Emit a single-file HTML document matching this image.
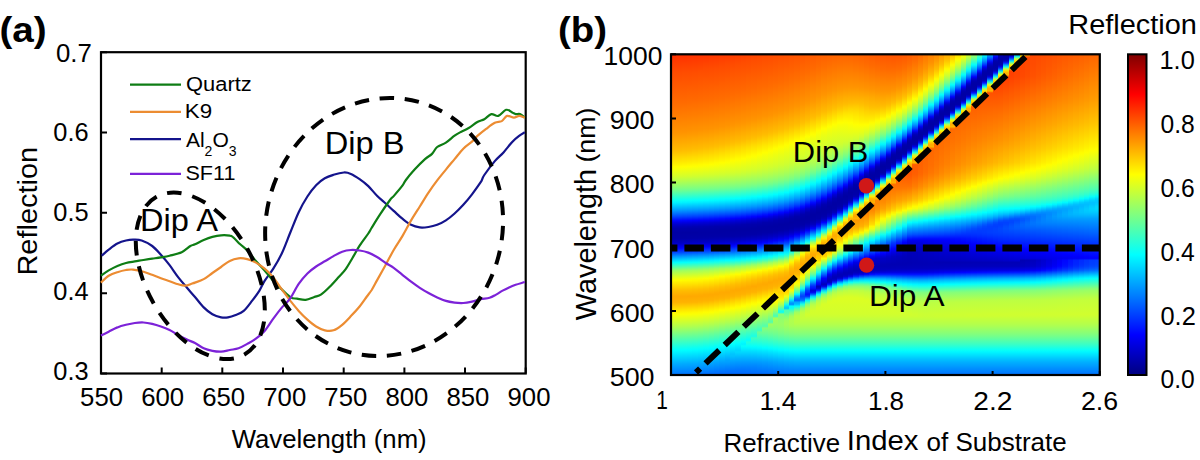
<!DOCTYPE html><html><head><meta charset="utf-8"><style>
html,body{margin:0;padding:0;background:#fff;width:1200px;height:460px;overflow:hidden}
#hm{position:absolute;left:0;top:0}
.c{position:absolute;top:54.50px;height:321.00px}
svg{position:absolute;left:0;top:0}
text{font-family:"Liberation Sans",sans-serif;fill:#000}
</style></head><body><div id="hm">
<div class="c" style="left:671.00px;width:5.96px;background:linear-gradient(#ff3000,#ff3300,#ff3600,#ff3900,#ff3d00,#ff4000,#ff4300,#ff4600,#ff4900,#ff4c00,#ff4e00,#ff5000,#ff5200,#ff5400,#ff5600,#ff5800,#ff5a00,#ff5c00,#ff5e00,#ff6000,#ff6300,#ff6500,#ff6700,#ff6900,#ff6b00,#ff6d00,#ff7000,#ff7300,#ff7500,#ff7800,#ff7b00,#ff7e00,#ff8000,#ff8300,#ff8600,#ff8800,#ff8b00,#ff8e00,#ff9100,#ff9300,#ff9700,#ff9c00,#ffa100,#ffa500,#ffaa00,#ffae00,#ffb300,#ffb700,#ffbc00,#ffc300,#ffcb00,#ffd300,#ffda00,#ffe200,#ffea00,#fff200,#fffc00,#f9ff06,#efff10,#e6ff19,#ddff22,#d3ff2c,#c6ff39,#b8ff47,#aaff55,#9cff63,#8eff71,#7fff80,#70ff8f,#5bffa4,#47ffb8,#32ffcd,#1effe1,#0afff5,#00f4ff,#00deff,#00c7ff,#00b0ff,#0099ff,#007fff,#0064ff,#0048ff,#0029ff,#0009ff,#0000e8,#0000cc,#0000ba,#0000ac,#0000a8,#0000a4,#0000a5,#0000a6,#0000a8,#0000b2,#0000be,#0000ce,#0000e8,#0004ff,#0025ff,#0045ff,#006cff,#0093ff,#00b6ff,#00d9ff,#00fcff,#23ffdc,#49ffb6,#6fff90,#96ff69,#aeff51,#c2ff3d,#d7ff28,#ebff14,#fffe00,#fff000,#ffe400,#ffd800,#ffcc00,#ffbf00,#ffb700,#ffb100,#ffaa00,#ffab00,#ffae00,#ffb200,#ffbd00,#ffcb00,#ffd800,#ffe600,#fff300,#ffff00,#f2ff0d,#e6ff19,#daff25,#ceff31,#c1ff3e,#b5ff4a,#a7ff58,#97ff68,#88ff77,#79ff86,#69ff96,#5affa5,#4bffb4,#3cffc3,#2dffd2,#1fffe0,#10ffef,#02fffd,#00f4ff,#00e8ff,#00dcff,#00d0ff,#00c3ff,#00b7ff,#00abff,#00a0ff,#0096ff,#008cff,#0082ff,#0078ff,#0072ff)"></div>
<div class="c" style="left:676.36px;width:5.96px;background:linear-gradient(#ff3100,#ff3400,#ff3700,#ff3a00,#ff3d00,#ff4000,#ff4300,#ff4600,#ff4900,#ff4c00,#ff4e00,#ff5000,#ff5200,#ff5400,#ff5700,#ff5900,#ff5b00,#ff5d00,#ff5f00,#ff6100,#ff6300,#ff6500,#ff6700,#ff6900,#ff6b00,#ff6e00,#ff7000,#ff7300,#ff7600,#ff7800,#ff7b00,#ff7e00,#ff8100,#ff8300,#ff8600,#ff8900,#ff8c00,#ff8e00,#ff9100,#ff9400,#ff9800,#ff9d00,#ffa100,#ffa600,#ffaa00,#ffaf00,#ffb300,#ffb800,#ffbc00,#ffc400,#ffcc00,#ffd400,#ffdb00,#ffe300,#ffeb00,#fff300,#fffd00,#f8ff07,#eeff11,#e5ff1a,#dcff23,#d2ff2d,#c5ff3a,#b7ff48,#a9ff56,#9bff64,#8dff72,#7eff81,#6eff91,#5affa5,#45ffba,#31ffce,#1cffe3,#08fff7,#00f3ff,#00dcff,#00c5ff,#00aeff,#0097ff,#007dff,#0061ff,#0046ff,#0027ff,#0007ff,#0000e6,#0000cb,#0000b9,#0000ac,#0000a8,#0000a4,#0000a5,#0000a6,#0000a8,#0000b3,#0000bf,#0000d0,#0000e9,#0006ff,#0027ff,#0048ff,#006fff,#0096ff,#00b9ff,#00dcff,#00ffff,#26ffd9,#4cffb3,#72ff8d,#98ff67,#b0ff4f,#c4ff3b,#d8ff27,#edff12,#fffd00,#ffef00,#ffe300,#ffd700,#ffcb00,#ffbe00,#ffb700,#ffb000,#ffa900,#ffab00,#ffaf00,#ffb200,#ffbe00,#ffcc00,#ffd900,#ffe700,#fff400,#feff01,#f1ff0e,#e5ff1a,#d9ff26,#cdff32,#c1ff3e,#b4ff4b,#a5ff5a,#96ff69,#87ff78,#78ff87,#68ff97,#59ffa6,#4affb5,#3bffc4,#2cffd3,#1effe1,#0ffff0,#01fffe,#00f4ff,#00e7ff,#00dbff,#00cfff,#00c3ff,#00b6ff,#00aaff,#00a0ff,#0095ff,#008bff,#0081ff,#0077ff,#0072ff)"></div>
<div class="c" style="left:681.73px;width:5.96px;background:linear-gradient(#ff3100,#ff3400,#ff3700,#ff3a00,#ff3e00,#ff4100,#ff4400,#ff4700,#ff4a00,#ff4d00,#ff4f00,#ff5100,#ff5300,#ff5500,#ff5700,#ff5900,#ff5b00,#ff5d00,#ff5f00,#ff6100,#ff6300,#ff6500,#ff6700,#ff6900,#ff6b00,#ff6e00,#ff7100,#ff7400,#ff7600,#ff7900,#ff7c00,#ff7e00,#ff8100,#ff8400,#ff8700,#ff8900,#ff8c00,#ff8f00,#ff9100,#ff9400,#ff9900,#ff9d00,#ffa200,#ffa700,#ffab00,#ffb000,#ffb400,#ffb900,#ffbe00,#ffc500,#ffcd00,#ffd500,#ffdd00,#ffe400,#ffec00,#fff500,#fffe00,#f7ff08,#edff12,#e4ff1b,#dbff24,#d1ff2e,#c4ff3b,#b6ff49,#a8ff57,#9aff65,#8bff74,#7dff82,#6cff93,#58ffa7,#44ffbb,#2fffd0,#1bffe4,#06fff9,#00f1ff,#00daff,#00c3ff,#00acff,#0095ff,#007bff,#005fff,#0044ff,#0024ff,#0004ff,#0000e3,#0000c9,#0000b8,#0000ac,#0000a8,#0000a3,#0000a5,#0000a6,#0000a8,#0000b4,#0000c0,#0000d2,#0000eb,#0009ff,#002aff,#004aff,#0073ff,#0099ff,#00bcff,#00dfff,#03fffc,#29ffd6,#4fffb0,#75ff8a,#9cff63,#b1ff4e,#c6ff39,#daff25,#eeff11,#fffb00,#ffee00,#ffe200,#ffd600,#ffca00,#ffbe00,#ffb600,#ffb000,#ffa900,#ffab00,#ffaf00,#ffb200,#ffbf00,#ffcd00,#ffda00,#ffe800,#fff500,#fdff02,#f1ff0e,#e4ff1b,#d8ff27,#ccff33,#c0ff3f,#b3ff4c,#a4ff5b,#95ff6a,#86ff79,#76ff89,#67ff98,#58ffa7,#49ffb6,#3affc5,#2bffd4,#1cffe3,#0efff1,#00ffff,#00f3ff,#00e6ff,#00daff,#00ceff,#00c2ff,#00b5ff,#00a9ff,#009fff,#0095ff,#008aff,#0080ff,#0076ff,#0071ff)"></div>
<div class="c" style="left:687.09px;width:5.96px;background:linear-gradient(#ff3200,#ff3500,#ff3800,#ff3b00,#ff3e00,#ff4100,#ff4400,#ff4700,#ff4b00,#ff4d00,#ff4f00,#ff5100,#ff5300,#ff5500,#ff5700,#ff5900,#ff5c00,#ff5e00,#ff6000,#ff6200,#ff6400,#ff6600,#ff6800,#ff6a00,#ff6c00,#ff6f00,#ff7200,#ff7400,#ff7700,#ff7a00,#ff7c00,#ff7f00,#ff8200,#ff8500,#ff8700,#ff8a00,#ff8d00,#ff8f00,#ff9200,#ff9600,#ff9a00,#ff9f00,#ffa300,#ffa800,#ffac00,#ffb100,#ffb500,#ffba00,#ffbf00,#ffc700,#ffcf00,#ffd700,#ffde00,#ffe600,#ffee00,#fff700,#feff01,#f5ff0a,#ecff13,#e3ff1c,#daff25,#d0ff2f,#c2ff3d,#b4ff4b,#a6ff59,#98ff67,#8aff75,#7cff83,#6bff94,#56ffa9,#42ffbd,#2effd1,#19ffe6,#05fffa,#00efff,#00d8ff,#00c1ff,#00aaff,#0093ff,#0078ff,#005dff,#0042ff,#0022ff,#0002ff,#0000e1,#0000c8,#0000b6,#0000ab,#0000a7,#0000a3,#0000a5,#0000a7,#0000a9,#0000b5,#0000c1,#0000d4,#0000ee,#000cff,#002cff,#004dff,#0076ff,#009cff,#00bfff,#00e2ff,#06fff9,#2cffd3,#52ffad,#79ff86,#9eff61,#b3ff4c,#c7ff38,#dcff23,#f0ff0f,#fffa00,#ffed00,#ffe100,#ffd500,#ffc900,#ffbd00,#ffb600,#ffaf00,#ffa800,#ffac00,#ffaf00,#ffb300,#ffc000,#ffce00,#ffdc00,#ffe900,#fff600,#fcff03,#efff10,#e3ff1c,#d7ff28,#cbff34,#bfff40,#b2ff4d,#a3ff5c,#94ff6b,#84ff7b,#75ff8a,#66ff99,#56ffa9,#48ffb7,#39ffc6,#2affd5,#1bffe4,#0cfff3,#00feff,#00f2ff,#00e5ff,#00d9ff,#00cdff,#00c1ff,#00b4ff,#00a8ff,#009eff,#0094ff,#008aff,#007fff,#0075ff,#0070ff)"></div>
<div class="c" style="left:692.45px;width:5.96px;background:linear-gradient(#ff3300,#ff3600,#ff3900,#ff3c00,#ff3f00,#ff4200,#ff4500,#ff4800,#ff4b00,#ff4e00,#ff5000,#ff5200,#ff5400,#ff5600,#ff5800,#ff5a00,#ff5c00,#ff5e00,#ff6000,#ff6200,#ff6400,#ff6600,#ff6800,#ff6a00,#ff6d00,#ff7000,#ff7200,#ff7500,#ff7800,#ff7b00,#ff7d00,#ff8000,#ff8300,#ff8500,#ff8800,#ff8b00,#ff8e00,#ff9000,#ff9300,#ff9700,#ff9b00,#ffa000,#ffa500,#ffa900,#ffae00,#ffb200,#ffb700,#ffbb00,#ffc200,#ffca00,#ffd100,#ffd900,#ffe000,#ffe800,#fff000,#fff900,#fcff03,#f3ff0c,#eaff15,#e1ff1e,#d8ff27,#ceff31,#c0ff3f,#b3ff4c,#a5ff5a,#97ff68,#89ff76,#7bff84,#69ff96,#54ffab,#40ffbf,#2cffd3,#17ffe8,#03fffc,#00edff,#00d6ff,#00bfff,#00a8ff,#0091ff,#0076ff,#005bff,#003fff,#001fff,#0000fe,#0000de,#0000c6,#0000b4,#0000ab,#0000a7,#0000a3,#0000a5,#0000a7,#0000aa,#0000b6,#0000c2,#0000d6,#0000f0,#000fff,#002fff,#0051ff,#007aff,#009fff,#00c2ff,#00e5ff,#09fff6,#30ffcf,#56ffa9,#7cff83,#a1ff5e,#b5ff4a,#caff35,#deff21,#f3ff0c,#fff800,#ffec00,#ffe000,#ffd300,#ffc700,#ffbc00,#ffb500,#ffae00,#ffa900,#ffac00,#ffb000,#ffb400,#ffc200,#ffd000,#ffdd00,#ffeb00,#fff800,#faff05,#eeff11,#e2ff1d,#d5ff2a,#c9ff36,#bdff42,#b0ff4f,#a1ff5e,#92ff6d,#82ff7d,#73ff8c,#64ff9b,#55ffaa,#46ffb9,#37ffc8,#28ffd7,#19ffe6,#0afff5,#00fcff,#00f0ff,#00e4ff,#00d8ff,#00cbff,#00bfff,#00b3ff,#00a7ff,#009dff,#0092ff,#0088ff,#007eff,#0074ff,#006fff)"></div>
<div class="c" style="left:697.81px;width:5.96px;background:linear-gradient(#ff3400,#ff3700,#ff3a00,#ff3d00,#ff4000,#ff4300,#ff4600,#ff4900,#ff4d00,#ff4f00,#ff5100,#ff5300,#ff5500,#ff5700,#ff5900,#ff5b00,#ff5d00,#ff5f00,#ff6100,#ff6300,#ff6500,#ff6700,#ff6900,#ff6b00,#ff6e00,#ff7100,#ff7300,#ff7600,#ff7900,#ff7b00,#ff7e00,#ff8100,#ff8400,#ff8600,#ff8900,#ff8c00,#ff8f00,#ff9100,#ff9400,#ff9900,#ff9d00,#ffa200,#ffa600,#ffab00,#ffaf00,#ffb400,#ffb800,#ffbd00,#ffc500,#ffcc00,#ffd400,#ffdb00,#ffe300,#ffea00,#fff200,#fffb00,#faff05,#f1ff0e,#e9ff16,#e0ff1f,#d7ff28,#ccff33,#bfff40,#b1ff4e,#a3ff5c,#96ff69,#88ff77,#79ff86,#67ff98,#52ffad,#3effc1,#2affd5,#15ffea,#01fffe,#00ebff,#00d4ff,#00bdff,#00a6ff,#008eff,#0073ff,#0058ff,#003cff,#001cff,#0000fa,#0000da,#0000c4,#0000b3,#0000ab,#0000a6,#0000a4,#0000a5,#0000a7,#0000ab,#0000b7,#0000c3,#0000d9,#0000f2,#0012ff,#0033ff,#0055ff,#007eff,#00a3ff,#00c5ff,#00e8ff,#0dfff2,#34ffcb,#5affa5,#81ff7e,#a3ff5c,#b8ff47,#cdff32,#e2ff1d,#f6ff09,#fff600,#ffea00,#ffdd00,#ffd100,#ffc500,#ffba00,#ffb400,#ffad00,#ffa900,#ffad00,#ffb000,#ffb700,#ffc500,#ffd200,#ffe000,#ffed00,#fffa00,#f8ff07,#ecff13,#dfff20,#d3ff2c,#c7ff38,#bbff44,#adff52,#9eff61,#8fff70,#7fff80,#70ff8f,#61ff9e,#52ffad,#43ffbc,#34ffcb,#25ffda,#16ffe9,#08fff7,#00faff,#00eeff,#00e1ff,#00d5ff,#00c9ff,#00bdff,#00b0ff,#00a5ff,#009bff,#0090ff,#0086ff,#007cff,#0072ff,#006dff)"></div>
<div class="c" style="left:703.17px;width:5.96px;background:linear-gradient(#ff3500,#ff3800,#ff3b00,#ff3e00,#ff4200,#ff4500,#ff4800,#ff4b00,#ff4d00,#ff4f00,#ff5100,#ff5300,#ff5600,#ff5800,#ff5a00,#ff5c00,#ff5e00,#ff6000,#ff6200,#ff6400,#ff6600,#ff6800,#ff6a00,#ff6c00,#ff6f00,#ff7200,#ff7400,#ff7700,#ff7a00,#ff7d00,#ff7f00,#ff8200,#ff8500,#ff8700,#ff8a00,#ff8d00,#ff9000,#ff9200,#ff9600,#ff9a00,#ff9f00,#ffa300,#ffa800,#ffac00,#ffb100,#ffb600,#ffba00,#ffc000,#ffc800,#ffcf00,#ffd700,#ffde00,#ffe500,#ffed00,#fff500,#fffd00,#f8ff07,#efff10,#e7ff18,#deff21,#d5ff2a,#caff35,#bdff42,#afff50,#a2ff5d,#94ff6b,#86ff79,#78ff87,#65ff9a,#50ffaf,#3cffc3,#27ffd8,#13ffec,#00feff,#00e8ff,#00d1ff,#00bbff,#00a4ff,#008bff,#0070ff,#0055ff,#0038ff,#0018ff,#0000f7,#0000d7,#0000c3,#0000b1,#0000aa,#0000a6,#0000a4,#0000a5,#0000a7,#0000ac,#0000b8,#0000c5,#0000dc,#0000f5,#0016ff,#0036ff,#0059ff,#0082ff,#00a6ff,#00c9ff,#00ecff,#11ffee,#38ffc7,#5fffa0,#87ff78,#a7ff58,#bcff43,#d1ff2e,#e6ff19,#fbff04,#fff300,#ffe600,#ffda00,#ffce00,#ffc200,#ffb900,#ffb200,#ffab00,#ffaa00,#ffae00,#ffb100,#ffbb00,#ffc800,#ffd600,#ffe300,#fff100,#fffd00,#f5ff0a,#e8ff17,#dcff23,#d0ff2f,#c4ff3b,#b7ff48,#a9ff56,#9aff65,#8bff74,#7bff84,#6cff93,#5dffa2,#4effb1,#3fffc0,#30ffcf,#21ffde,#12ffed,#04fffb,#00f7ff,#00eaff,#00deff,#00d2ff,#00c6ff,#00b9ff,#00adff,#00a2ff,#0098ff,#008eff,#0084ff,#0079ff,#006fff,#006bff)"></div>
<div class="c" style="left:708.54px;width:5.96px;background:linear-gradient(#ff3700,#ff3a00,#ff3d00,#ff4000,#ff4300,#ff4600,#ff4900,#ff4c00,#ff4e00,#ff5000,#ff5200,#ff5400,#ff5600,#ff5800,#ff5a00,#ff5d00,#ff5f00,#ff6100,#ff6300,#ff6500,#ff6700,#ff6900,#ff6b00,#ff6d00,#ff7000,#ff7300,#ff7600,#ff7800,#ff7b00,#ff7e00,#ff8000,#ff8300,#ff8600,#ff8900,#ff8b00,#ff8e00,#ff9100,#ff9300,#ff9800,#ff9c00,#ffa100,#ffa500,#ffaa00,#ffae00,#ffb300,#ffb700,#ffbc00,#ffc300,#ffcb00,#ffd200,#ffda00,#ffe100,#ffe800,#ffef00,#fff800,#feff01,#f5ff0a,#edff12,#e4ff1b,#dcff23,#d3ff2c,#c8ff37,#bbff44,#adff52,#a0ff5f,#92ff6d,#84ff7b,#76ff89,#62ff9d,#4effb1,#39ffc6,#25ffda,#11ffee,#00fbff,#00e6ff,#00cfff,#00b8ff,#00a1ff,#0088ff,#006dff,#0052ff,#0034ff,#0014ff,#0000f3,#0000d3,#0000c0,#0000af,#0000aa,#0000a6,#0000a4,#0000a6,#0000a7,#0000ae,#0000ba,#0000c6,#0000df,#0000f8,#0019ff,#003aff,#005eff,#0087ff,#00aaff,#00cdff,#00f0ff,#16ffe9,#3dffc2,#65ff9a,#8eff71,#abff54,#c1ff3e,#d7ff28,#ecff13,#fffc00,#ffef00,#ffe200,#ffd600,#ffca00,#ffbe00,#ffb600,#ffb000,#ffa900,#ffab00,#ffaf00,#ffb200,#ffbf00,#ffcd00,#ffda00,#ffe800,#fff500,#fdff02,#f1ff0e,#e4ff1b,#d8ff27,#ccff33,#c0ff3f,#b3ff4c,#a4ff5b,#95ff6a,#86ff79,#77ff88,#67ff98,#58ffa7,#49ffb6,#3affc5,#2bffd4,#1dffe2,#0efff1,#00ffff,#00f3ff,#00e6ff,#00daff,#00ceff,#00c2ff,#00b6ff,#00a9ff,#009fff,#0095ff,#008bff,#0080ff,#0076ff,#006cff,#0069ff)"></div>
<div class="c" style="left:713.90px;width:5.96px;background:linear-gradient(#ff3800,#ff3b00,#ff3e00,#ff4100,#ff4400,#ff4700,#ff4a00,#ff4d00,#ff4f00,#ff5100,#ff5300,#ff5500,#ff5700,#ff5900,#ff5b00,#ff5d00,#ff6000,#ff6200,#ff6400,#ff6600,#ff6800,#ff6a00,#ff6c00,#ff6f00,#ff7100,#ff7400,#ff7700,#ff7a00,#ff7c00,#ff7f00,#ff8200,#ff8400,#ff8700,#ff8a00,#ff8d00,#ff8f00,#ff9200,#ff9500,#ff9a00,#ff9e00,#ffa300,#ffa800,#ffac00,#ffb100,#ffb500,#ffba00,#ffbf00,#ffc700,#ffcf00,#ffd600,#ffdd00,#ffe400,#ffeb00,#fff300,#fffb00,#fbff04,#f3ff0c,#eaff15,#e2ff1d,#daff25,#d2ff2d,#c5ff3a,#b9ff46,#abff54,#9eff61,#91ff6e,#83ff7c,#74ff8b,#60ff9f,#4bffb4,#37ffc8,#22ffdd,#0efff1,#00f9ff,#00e3ff,#00ccff,#00b5ff,#009eff,#0085ff,#0069ff,#004eff,#0030ff,#0010ff,#0000ef,#0000d0,#0000be,#0000ad,#0000a9,#0000a5,#0000a4,#0000a6,#0000a8,#0000af,#0000bb,#0000c8,#0000e2,#0000fc,#001eff,#003eff,#0063ff,#008cff,#00afff,#00d2ff,#00f5ff,#1bffe4,#43ffbc,#6cff93,#96ff69,#b0ff4f,#c7ff38,#ddff22,#f4ff0b,#fff700,#ffea00,#ffde00,#ffd200,#ffc500,#ffbb00,#ffb400,#ffad00,#ffa900,#ffad00,#ffb000,#ffb700,#ffc400,#ffd200,#ffdf00,#ffed00,#fff900,#f8ff07,#ecff13,#e0ff1f,#d4ff2b,#c7ff38,#bbff44,#aeff51,#9fff60,#8fff70,#80ff7f,#71ff8e,#61ff9e,#52ffad,#43ffbc,#35ffca,#26ffd9,#17ffe8,#08fff7,#00faff,#00eeff,#00e2ff,#00d6ff,#00c9ff,#00bdff,#00b1ff,#00a5ff,#009bff,#0091ff,#0087ff,#007cff,#0073ff,#006bff,#0068ff)"></div>
<div class="c" style="left:719.26px;width:5.96px;background:linear-gradient(#ff3a00,#ff3d00,#ff4000,#ff4300,#ff4600,#ff4900,#ff4c00,#ff4e00,#ff5000,#ff5200,#ff5400,#ff5600,#ff5800,#ff5a00,#ff5d00,#ff5f00,#ff6100,#ff6300,#ff6500,#ff6700,#ff6900,#ff6b00,#ff6d00,#ff7000,#ff7300,#ff7600,#ff7800,#ff7b00,#ff7e00,#ff8000,#ff8300,#ff8600,#ff8900,#ff8b00,#ff8e00,#ff9100,#ff9300,#ff9800,#ff9c00,#ffa100,#ffa500,#ffaa00,#ffae00,#ffb300,#ffb700,#ffbc00,#ffc300,#ffcb00,#ffd200,#ffda00,#ffe100,#ffe800,#ffef00,#fff600,#fffe00,#f8ff07,#f0ff0f,#e8ff17,#e0ff1f,#d8ff27,#cfff30,#c3ff3c,#b6ff49,#a9ff56,#9cff63,#8fff70,#81ff7e,#71ff8e,#5dffa2,#48ffb7,#34ffcb,#20ffdf,#0bfff4,#00f6ff,#00e0ff,#00c9ff,#00b2ff,#009bff,#0081ff,#0066ff,#004aff,#002cff,#000cff,#0000eb,#0000cd,#0000bc,#0000ad,#0000a8,#0000a4,#0000a4,#0000a6,#0000a8,#0000b1,#0000bd,#0000cc,#0000e6,#0002ff,#0022ff,#0043ff,#0069ff,#0091ff,#00b4ff,#00d7ff,#00faff,#21ffde,#49ffb6,#73ff8c,#9eff61,#b6ff49,#cdff32,#e5ff1a,#fcff03,#fff200,#ffe500,#ffd900,#ffcc00,#ffc000,#ffb800,#ffb100,#ffaa00,#ffab00,#ffae00,#ffb200,#ffbc00,#ffca00,#ffd800,#ffe500,#fff200,#ffff00,#f3ff0c,#e7ff18,#dbff24,#ceff31,#c2ff3d,#b6ff49,#a7ff58,#98ff67,#89ff76,#7aff85,#6aff95,#5bffa4,#4cffb3,#3dffc2,#2effd1,#1fffe0,#11ffee,#02fffd,#00f5ff,#00e9ff,#00ddff,#00d0ff,#00c4ff,#00b8ff,#00acff,#00a1ff,#0097ff,#008eff,#0084ff,#007aff,#0070ff,#0069ff,#0067ff)"></div>
<div class="c" style="left:724.62px;width:5.96px;background:linear-gradient(#ff3b00,#ff3e00,#ff4100,#ff4500,#ff4800,#ff4b00,#ff4d00,#ff4f00,#ff5100,#ff5300,#ff5500,#ff5700,#ff5a00,#ff5c00,#ff5e00,#ff6000,#ff6200,#ff6400,#ff6600,#ff6800,#ff6a00,#ff6c00,#ff6f00,#ff7200,#ff7400,#ff7700,#ff7a00,#ff7c00,#ff7f00,#ff8200,#ff8500,#ff8700,#ff8a00,#ff8d00,#ff9000,#ff9200,#ff9600,#ff9a00,#ff9f00,#ffa300,#ffa800,#ffac00,#ffb100,#ffb500,#ffba00,#ffc000,#ffc800,#ffcf00,#ffd700,#ffde00,#ffe500,#ffeb00,#fff200,#fffa00,#fcff03,#f4ff0b,#edff12,#e5ff1a,#ddff22,#d6ff29,#ccff33,#c0ff3f,#b4ff4b,#a7ff58,#9aff65,#8cff73,#7eff81,#6eff91,#5affa5,#45ffba,#31ffce,#1cffe3,#08fff7,#00f3ff,#00dcff,#00c5ff,#00aeff,#0097ff,#007dff,#0061ff,#0046ff,#0027ff,#0007ff,#0000e6,#0000cb,#0000b9,#0000ac,#0000a8,#0000a4,#0000a5,#0000a6,#0000a8,#0000b3,#0000bf,#0000d0,#0000e9,#0007ff,#0027ff,#0048ff,#006fff,#0096ff,#00b9ff,#00dcff,#00ffff,#27ffd8,#51ffae,#7cff83,#a4ff5b,#bdff42,#d5ff2a,#edff12,#fff900,#ffec00,#ffdf00,#ffd300,#ffc700,#ffbb00,#ffb500,#ffae00,#ffa900,#ffac00,#ffb000,#ffb500,#ffc300,#ffd000,#ffde00,#ffec00,#fff800,#faff05,#edff12,#e1ff1e,#d5ff2a,#c9ff36,#bcff43,#b0ff4f,#a0ff5f,#91ff6e,#82ff7d,#72ff8d,#63ff9c,#54ffab,#45ffba,#36ffc9,#27ffd8,#19ffe6,#0afff5,#00fcff,#00efff,#00e3ff,#00d7ff,#00cbff,#00beff,#00b2ff,#00a6ff,#00a0ff,#0096ff,#008bff,#0081ff,#0077ff,#006eff,#0069ff,#0066ff)"></div>
<div class="c" style="left:729.99px;width:5.96px;background:linear-gradient(#ff3d00,#ff4000,#ff4300,#ff4600,#ff4900,#ff4c00,#ff4e00,#ff5100,#ff5300,#ff5500,#ff5700,#ff5900,#ff5b00,#ff5d00,#ff5f00,#ff6100,#ff6300,#ff6500,#ff6700,#ff6900,#ff6b00,#ff6e00,#ff7000,#ff7300,#ff7600,#ff7900,#ff7b00,#ff7e00,#ff8100,#ff8300,#ff8600,#ff8900,#ff8c00,#ff8e00,#ff9100,#ff9400,#ff9800,#ff9d00,#ffa100,#ffa600,#ffaa00,#ffaf00,#ffb300,#ffb800,#ffbd00,#ffc400,#ffcc00,#ffd400,#ffdb00,#ffe200,#ffe900,#ffef00,#fff700,#fffe00,#f8ff07,#f1ff0e,#eaff15,#e2ff1d,#dbff24,#d3ff2c,#c9ff36,#bdff42,#b1ff4e,#a5ff5a,#98ff67,#8aff75,#7cff83,#6bff94,#56ffa9,#42ffbd,#2dffd2,#19ffe6,#05fffa,#00efff,#00d8ff,#00c1ff,#00aaff,#0093ff,#0078ff,#005dff,#0041ff,#0021ff,#0001ff,#0000e0,#0000c8,#0000b6,#0000ab,#0000a7,#0000a3,#0000a5,#0000a7,#0000a9,#0000b5,#0000c1,#0000d4,#0000ee,#000cff,#002dff,#004eff,#0076ff,#009cff,#00bfff,#00e2ff,#06fff9,#2effd1,#59ffa6,#87ff78,#abff54,#c4ff3b,#deff21,#f7ff08,#fff300,#ffe600,#ffd900,#ffcd00,#ffc000,#ffb800,#ffb100,#ffaa00,#ffab00,#ffae00,#ffb100,#ffbc00,#ffca00,#ffd700,#ffe500,#fff200,#fffe00,#f3ff0c,#e7ff18,#dbff24,#cfff30,#c2ff3d,#b6ff49,#a8ff57,#99ff66,#89ff76,#7aff85,#6bff94,#5bffa4,#4cffb3,#3dffc2,#2fffd0,#20ffdf,#11ffee,#03fffc,#00f5ff,#00e9ff,#00ddff,#00d1ff,#00c4ff,#00c1ff,#00b4ff,#00a8ff,#009dff,#0093ff,#0089ff,#007fff,#0075ff,#006eff,#0068ff,#0065ff)"></div>
<div class="c" style="left:735.35px;width:5.96px;background:linear-gradient(#ff3f00,#ff4200,#ff4500,#ff4800,#ff4b00,#ff4e00,#ff5000,#ff5200,#ff5400,#ff5600,#ff5800,#ff5a00,#ff5c00,#ff5e00,#ff6000,#ff6200,#ff6400,#ff6600,#ff6800,#ff6a00,#ff6d00,#ff6f00,#ff7200,#ff7500,#ff7800,#ff7a00,#ff7d00,#ff8000,#ff8200,#ff8500,#ff8800,#ff8b00,#ff8d00,#ff9000,#ff9300,#ff9700,#ff9b00,#ffa000,#ffa400,#ffa900,#ffad00,#ffb200,#ffb600,#ffbb00,#ffc100,#ffc900,#ffd100,#ffd800,#ffdf00,#ffe600,#ffed00,#fff400,#fffb00,#fcff03,#f5ff0a,#eeff11,#e7ff18,#e0ff1f,#d8ff27,#d1ff2e,#c6ff39,#baff45,#aeff51,#a2ff5d,#95ff6a,#87ff78,#79ff86,#67ff98,#52ffad,#3effc1,#2affd5,#15ffea,#01fffe,#00ebff,#00d4ff,#00bdff,#00a6ff,#008eff,#0073ff,#0058ff,#003bff,#001bff,#0000fa,#0000da,#0000c4,#0000b3,#0000aa,#0000a6,#0000a4,#0000a5,#0000a7,#0000ab,#0000b7,#0000c3,#0000d9,#0000f3,#0012ff,#0033ff,#0055ff,#007eff,#00a3ff,#00c6ff,#00e9ff,#0dfff2,#37ffc8,#63ff9c,#93ff6c,#b2ff4d,#cdff32,#e7ff18,#fffd00,#ffed00,#ffdf00,#ffd200,#ffc600,#ffbb00,#ffb400,#ffad00,#ffa900,#ffad00,#ffb000,#ffb600,#ffc300,#ffd100,#ffdf00,#ffec00,#fff900,#f9ff06,#edff12,#e1ff1e,#d4ff2b,#c8ff37,#bcff43,#afff50,#a0ff5f,#90ff6f,#81ff7e,#72ff8d,#62ff9d,#53ffac,#44ffbb,#35ffca,#27ffd8,#18ffe7,#09fff6,#00fbff,#00efff,#00e3ff,#00d6ff,#00d8ff,#00ccff,#00bfff,#00b2ff,#00a7ff,#009bff,#0091ff,#0087ff,#007dff,#0074ff,#006eff,#0068ff,#0065ff)"></div>
<div class="c" style="left:740.71px;width:5.96px;background:linear-gradient(#ff4100,#ff4400,#ff4700,#ff4a00,#ff4d00,#ff4f00,#ff5100,#ff5300,#ff5500,#ff5700,#ff5900,#ff5b00,#ff5d00,#ff5f00,#ff6100,#ff6300,#ff6500,#ff6700,#ff6900,#ff6c00,#ff6e00,#ff7100,#ff7400,#ff7700,#ff7900,#ff7c00,#ff7f00,#ff8100,#ff8400,#ff8700,#ff8a00,#ff8c00,#ff8f00,#ff9200,#ff9500,#ff9900,#ff9e00,#ffa200,#ffa700,#ffac00,#ffb000,#ffb500,#ffb900,#ffbe00,#ffc600,#ffce00,#ffd600,#ffdd00,#ffe400,#ffea00,#fff100,#fff800,#ffff00,#f8ff07,#f1ff0e,#eaff15,#e3ff1c,#ddff22,#d6ff29,#cdff32,#c3ff3c,#b7ff48,#abff54,#9fff60,#92ff6d,#85ff7a,#76ff89,#62ff9d,#4effb1,#3affc5,#25ffda,#11ffee,#00fbff,#00e6ff,#00cfff,#00b8ff,#00a1ff,#0088ff,#006dff,#0052ff,#0035ff,#0015ff,#0000f4,#0000d4,#0000c1,#0000af,#0000aa,#0000a6,#0000a4,#0000a6,#0000a7,#0000ad,#0000ba,#0000c6,#0000de,#0000f8,#0019ff,#003aff,#005eff,#0087ff,#00aaff,#00cdff,#00f0ff,#16ffe9,#40ffbf,#6fff90,#a0ff5f,#bbff44,#d7ff28,#f2ff0d,#fff500,#ffe600,#ffd800,#ffcb00,#ffbf00,#ffb700,#ffb000,#ffaa00,#ffab00,#ffae00,#ffb200,#ffbe00,#ffcb00,#ffd900,#ffe600,#fff400,#feff01,#f2ff0d,#e6ff19,#daff25,#cdff32,#c1ff3e,#b5ff4a,#a6ff59,#97ff68,#87ff78,#78ff87,#69ff96,#5affa5,#4bffb4,#3cffc3,#2dffd2,#1effe1,#0ffff0,#01fffe,#00f4ff,#03fffc,#00f4ff,#00e6ff,#00d8ff,#00cbff,#00beff,#00b1ff,#00a6ff,#009aff,#0090ff,#0086ff,#007cff,#0074ff,#006eff,#0068ff,#0064ff)"></div>
<div class="c" style="left:746.08px;width:5.96px;background:linear-gradient(#ff4300,#ff4600,#ff4900,#ff4c00,#ff4e00,#ff5000,#ff5200,#ff5400,#ff5600,#ff5800,#ff5b00,#ff5d00,#ff5f00,#ff6100,#ff6300,#ff6500,#ff6700,#ff6900,#ff6b00,#ff6d00,#ff7000,#ff7300,#ff7600,#ff7800,#ff7b00,#ff7e00,#ff8100,#ff8300,#ff8600,#ff8900,#ff8b00,#ff8e00,#ff9100,#ff9400,#ff9800,#ff9c00,#ffa100,#ffa500,#ffaa00,#ffaf00,#ffb300,#ffb800,#ffbc00,#ffc400,#ffcb00,#ffd300,#ffdb00,#ffe200,#ffe900,#ffef00,#fff600,#fffd00,#faff05,#f4ff0b,#edff12,#e7ff18,#e0ff1f,#daff25,#d3ff2c,#caff35,#bfff40,#b4ff4b,#a8ff57,#9cff63,#8fff70,#81ff7e,#72ff8d,#5effa1,#49ffb6,#35ffca,#21ffde,#0cfff3,#00f7ff,#00e1ff,#00caff,#00b3ff,#009cff,#0082ff,#0067ff,#004cff,#002dff,#000dff,#0000ec,#0000ce,#0000bc,#0000ad,#0000a9,#0000a5,#0000a4,#0000a6,#0000a8,#0000b0,#0000bd,#0000cb,#0000e4,#0000ff,#0021ff,#0041ff,#0067ff,#008fff,#00b2ff,#00d5ff,#00f8ff,#1fffe0,#4cffb3,#7dff82,#a8ff57,#c5ff3a,#e1ff1e,#feff01,#ffed00,#ffde00,#ffd000,#ffc400,#ffba00,#ffb300,#ffac00,#ffaa00,#ffad00,#ffb000,#ffb800,#ffc600,#ffd300,#ffe100,#ffee00,#fffb00,#f7ff08,#ebff14,#deff21,#d2ff2d,#c6ff39,#baff45,#acff53,#9dff62,#8eff71,#7eff81,#6fff90,#60ff9f,#51ffae,#42ffbd,#33ffcc,#24ffdb,#15ffea,#06fff9,#20ffdf,#13ffec,#05fffa,#00f5ff,#00e6ff,#00d8ff,#00cbff,#00beff,#00b2ff,#00a6ff,#009aff,#0090ff,#0086ff,#007dff,#0075ff,#006fff,#0068ff,#0065ff)"></div>
<div class="c" style="left:751.44px;width:5.96px;background:linear-gradient(#ff4500,#ff4800,#ff4b00,#ff4e00,#ff5000,#ff5200,#ff5400,#ff5600,#ff5800,#ff5a00,#ff5c00,#ff5e00,#ff6000,#ff6200,#ff6400,#ff6600,#ff6800,#ff6a00,#ff6d00,#ff6f00,#ff7200,#ff7500,#ff7800,#ff7a00,#ff7d00,#ff8000,#ff8200,#ff8500,#ff8800,#ff8b00,#ff8d00,#ff9000,#ff9300,#ff9600,#ff9b00,#ffa000,#ffa400,#ffa900,#ffad00,#ffb200,#ffb600,#ffbb00,#ffc100,#ffc900,#ffd100,#ffd900,#ffe000,#ffe700,#ffed00,#fff400,#fffb00,#fcff03,#f6ff09,#efff10,#e9ff16,#e3ff1c,#ddff22,#d7ff28,#d0ff2f,#c6ff39,#bbff44,#b0ff4f,#a5ff5a,#99ff66,#8cff73,#7eff81,#6dff92,#58ffa7,#44ffbb,#30ffcf,#1bffe4,#07fff8,#00f1ff,#00dbff,#00c4ff,#00adff,#0096ff,#007bff,#0060ff,#0045ff,#0025ff,#0005ff,#0000e4,#0000ca,#0000b8,#0000ac,#0000a8,#0000a4,#0000a5,#0000a6,#0000a8,#0000b3,#0000c0,#0000d1,#0000eb,#0008ff,#0029ff,#004aff,#0072ff,#0098ff,#00bbff,#00deff,#02fffd,#2bffd4,#5affa5,#8dff72,#b2ff4d,#d0ff2f,#eeff11,#fff600,#ffe500,#ffd600,#ffc900,#ffbc00,#ffb600,#ffaf00,#ffa800,#ffac00,#ffaf00,#ffb300,#ffc100,#ffce00,#ffdc00,#ffe900,#fff600,#fcff03,#efff10,#e3ff1c,#d7ff28,#cbff34,#beff41,#b2ff4d,#a3ff5c,#93ff6c,#84ff7b,#75ff8a,#66ff99,#56ffa9,#47ffb8,#39ffc6,#2affd5,#1bffe4,#3fffc0,#31ffce,#24ffdb,#16ffe9,#07fff8,#00f7ff,#00e8ff,#00d9ff,#00ccff,#00bfff,#00b3ff,#00a6ff,#009bff,#0090ff,#0086ff,#007eff,#0077ff,#0070ff,#0069ff,#0065ff)"></div>
<div class="c" style="left:756.80px;width:5.96px;background:linear-gradient(#ff4700,#ff4a00,#ff4d00,#ff4f00,#ff5100,#ff5300,#ff5500,#ff5700,#ff5900,#ff5b00,#ff5d00,#ff5f00,#ff6100,#ff6400,#ff6600,#ff6800,#ff6a00,#ff6c00,#ff6f00,#ff7100,#ff7400,#ff7700,#ff7900,#ff7c00,#ff7f00,#ff8200,#ff8400,#ff8700,#ff8a00,#ff8c00,#ff8f00,#ff9200,#ff9500,#ff9a00,#ff9e00,#ffa300,#ffa700,#ffac00,#ffb000,#ffb500,#ffb900,#ffbf00,#ffc700,#ffcf00,#ffd600,#ffde00,#ffe500,#ffec00,#fff300,#fffa00,#feff01,#f7ff08,#f1ff0e,#ebff14,#e5ff1a,#dfff20,#daff25,#d4ff2b,#cbff34,#c2ff3d,#b8ff47,#adff52,#a1ff5e,#95ff6a,#88ff77,#79ff86,#67ff98,#52ffad,#3effc1,#2affd5,#15ffea,#01fffe,#00ebff,#00d4ff,#00bdff,#00a6ff,#008eff,#0073ff,#0058ff,#003cff,#001cff,#0000fb,#0000da,#0000c4,#0000b3,#0000ab,#0000a6,#0000a4,#0000a5,#0000a7,#0000ab,#0000b7,#0000c3,#0000d9,#0000f2,#0012ff,#0033ff,#0055ff,#007eff,#00a2ff,#00c5ff,#00e8ff,#0dfff2,#39ffc6,#6aff95,#9fff60,#bdff42,#dcff23,#fbff04,#ffed00,#ffdd00,#ffce00,#ffc100,#ffb800,#ffb100,#ffab00,#ffab00,#ffae00,#ffb100,#ffbc00,#ffc900,#ffd700,#ffe400,#fff200,#fffe00,#f4ff0b,#e7ff18,#dbff24,#cfff30,#c3ff3c,#b7ff48,#a8ff57,#99ff66,#8aff75,#7aff85,#6bff94,#5cffa3,#4dffb2,#3effc1,#6bff94,#5fffa0,#51ffae,#43ffbc,#35ffca,#28ffd7,#1affe5,#0bfff4,#00faff,#00ebff,#00dcff,#00cfff,#00c2ff,#00b5ff,#00a8ff,#009cff,#0092ff,#0089ff,#0081ff,#0079ff,#0071ff,#006aff,#0067ff)"></div>
<div class="c" style="left:762.16px;width:5.96px;background:linear-gradient(#ff4900,#ff4d00,#ff4f00,#ff5100,#ff5300,#ff5500,#ff5700,#ff5900,#ff5b00,#ff5d00,#ff5f00,#ff6100,#ff6300,#ff6500,#ff6700,#ff6900,#ff6b00,#ff6e00,#ff7100,#ff7300,#ff7600,#ff7900,#ff7b00,#ff7e00,#ff8100,#ff8400,#ff8600,#ff8900,#ff8c00,#ff8f00,#ff9100,#ff9400,#ff9900,#ff9d00,#ffa200,#ffa600,#ffab00,#ffaf00,#ffb400,#ffb800,#ffbd00,#ffc500,#ffcd00,#ffd400,#ffdc00,#ffe400,#ffeb00,#fff100,#fff900,#ffff00,#f8ff07,#f2ff0d,#edff12,#e7ff18,#e1ff1e,#dcff23,#d6ff29,#d0ff2f,#c7ff38,#beff41,#b3ff4c,#a9ff56,#9dff62,#90ff6f,#83ff7c,#74ff8b,#60ff9f,#4cffb3,#37ffc8,#23ffdc,#0efff1,#00f9ff,#00e3ff,#00ccff,#00b5ff,#009eff,#0085ff,#006aff,#004fff,#0031ff,#0011ff,#0000f0,#0000d0,#0000bf,#0000ad,#0000a9,#0000a5,#0000a4,#0000a6,#0000a8,#0000af,#0000bb,#0000c8,#0000e1,#0000fb,#001dff,#003dff,#0063ff,#008bff,#00aeff,#00d1ff,#00f4ff,#1bffe4,#49ffb6,#7eff81,#abff54,#caff35,#eaff15,#fff600,#ffe400,#ffd400,#ffc500,#ffba00,#ffb400,#ffad00,#ffa900,#ffad00,#ffb000,#ffb700,#ffc500,#ffd200,#ffe000,#ffed00,#fffa00,#f8ff07,#ecff13,#dfff20,#d3ff2c,#c7ff38,#bbff44,#adff52,#9eff61,#8fff70,#7fff80,#70ff8f,#61ff9e,#52ffad,#86ff79,#7bff84,#6fff90,#63ff9c,#56ffa9,#48ffb7,#3affc5,#2dffd2,#1fffe0,#0ffff0,#00feff,#00eeff,#00dfff,#00d2ff,#00c5ff,#00b8ff,#00abff,#009eff,#0095ff,#008cff,#0083ff,#007bff,#0073ff,#006cff,#0068ff)"></div>
<div class="c" style="left:767.52px;width:5.96px;background:linear-gradient(#ff4c00,#ff4e00,#ff5000,#ff5200,#ff5400,#ff5600,#ff5800,#ff5a00,#ff5c00,#ff5e00,#ff6000,#ff6300,#ff6500,#ff6700,#ff6900,#ff6b00,#ff6d00,#ff7000,#ff7300,#ff7500,#ff7800,#ff7b00,#ff7e00,#ff8000,#ff8300,#ff8600,#ff8800,#ff8b00,#ff8e00,#ff9100,#ff9300,#ff9700,#ff9c00,#ffa100,#ffa500,#ffaa00,#ffae00,#ffb300,#ffb700,#ffbc00,#ffc300,#ffcb00,#ffd300,#ffda00,#ffe200,#ffe900,#fff000,#fff800,#fffe00,#f9ff06,#f3ff0c,#eeff11,#e8ff17,#e3ff1c,#deff21,#d8ff27,#d3ff2c,#cbff34,#c3ff3c,#b9ff46,#afff50,#a4ff5b,#98ff67,#8bff74,#7eff81,#6dff92,#58ffa7,#44ffbb,#30ffcf,#1bffe4,#07fff8,#00f1ff,#00dbff,#00c4ff,#00adff,#0096ff,#007bff,#0060ff,#0045ff,#0025ff,#0005ff,#0000e4,#0000ca,#0000b8,#0000ac,#0000a8,#0000a4,#0000a5,#0000a6,#0000a8,#0000b4,#0000c0,#0000d2,#0000eb,#0008ff,#0029ff,#004aff,#0072ff,#0098ff,#00bbff,#00deff,#02fffd,#2cffd3,#5dffa2,#95ff6a,#b9ff46,#daff25,#faff05,#ffed00,#ffdb00,#ffca00,#ffbd00,#ffb600,#ffaf00,#ffa800,#ffac00,#ffaf00,#ffb300,#ffc000,#ffce00,#ffdc00,#ffe900,#fff600,#fcff03,#f5ff0a,#e9ff16,#ddff22,#d0ff2f,#c1ff3e,#b2ff4d,#a0ff5f,#8cff73,#77ff88,#64ff9b,#54ffab,#a0ff5f,#96ff69,#8aff75,#7fff80,#74ff8b,#69ff96,#5cffa3,#4effb1,#40ffbf,#32ffcd,#24ffdb,#14ffeb,#04fffb,#00f3ff,#00e3ff,#00d6ff,#00c9ff,#00bbff,#00aeff,#00a1ff,#0098ff,#008fff,#0086ff,#007dff,#0076ff,#006eff,#006aff)"></div>
<div class="c" style="left:772.89px;width:5.96px;background:linear-gradient(#ff4e00,#ff5000,#ff5200,#ff5400,#ff5600,#ff5800,#ff5a00,#ff5c00,#ff5e00,#ff6000,#ff6200,#ff6400,#ff6600,#ff6800,#ff6a00,#ff6d00,#ff6f00,#ff7200,#ff7500,#ff7800,#ff7a00,#ff7d00,#ff8000,#ff8200,#ff8500,#ff8800,#ff8b00,#ff8d00,#ff9000,#ff9300,#ff9700,#ff9b00,#ffa000,#ffa400,#ffa900,#ffad00,#ffb200,#ffb600,#ffbb00,#ffc100,#ffc900,#ffd100,#ffd900,#ffe100,#ffe800,#ffef00,#fff700,#fffe00,#faff05,#f4ff0b,#eeff11,#e9ff16,#e4ff1b,#dfff20,#daff25,#d5ff2a,#cfff30,#c6ff39,#beff41,#b4ff4b,#aaff55,#9fff60,#93ff6c,#86ff79,#77ff88,#64ff9b,#50ffaf,#3bffc4,#27ffd8,#12ffed,#00fdff,#00e8ff,#00d1ff,#00baff,#00a3ff,#008aff,#006fff,#0054ff,#0037ff,#0017ff,#0000f6,#0000d6,#0000c2,#0000b0,#0000aa,#0000a6,#0000a4,#0000a5,#0000a7,#0000ad,#0000b9,#0000c5,#0000dc,#0000f6,#0017ff,#0037ff,#005bff,#0083ff,#00a7ff,#00caff,#00edff,#13ffec,#41ffbe,#76ff89,#a8ff57,#c9ff36,#ebff14,#fff500,#ffe200,#ffd000,#ffc100,#ffb800,#ffb100,#ffaa00,#ffab00,#ffae00,#ffb200,#ffbc00,#ffca00,#ffd700,#ffe500,#ffe400,#ffef00,#fffa00,#f9ff06,#e5ff1a,#cfff30,#b9ff46,#a0ff5f,#7fff80,#5dffa2,#45ffba,#a9ff56,#a2ff5d,#9dff62,#9aff65,#93ff6c,#8bff74,#82ff7d,#78ff87,#6eff91,#61ff9e,#54ffab,#46ffb9,#38ffc7,#2affd5,#1affe5,#09fff6,#00f8ff,#00e8ff,#00daff,#00cdff,#00bfff,#00b1ff,#00a5ff,#009cff,#0092ff,#0089ff,#0080ff,#0078ff,#0070ff,#006cff)"></div>
<div class="c" style="left:778.25px;width:5.96px;background:linear-gradient(#ff4f00,#ff5100,#ff5300,#ff5600,#ff5800,#ff5a00,#ff5c00,#ff5e00,#ff6000,#ff6200,#ff6400,#ff6600,#ff6800,#ff6a00,#ff6c00,#ff6f00,#ff7200,#ff7400,#ff7700,#ff7a00,#ff7d00,#ff7f00,#ff8200,#ff8500,#ff8700,#ff8a00,#ff8d00,#ff9000,#ff9200,#ff9600,#ff9a00,#ff9f00,#ffa300,#ffa800,#ffad00,#ffb100,#ffb600,#ffba00,#ffc000,#ffc800,#ffd000,#ffd800,#ffdf00,#ffe700,#ffee00,#fff600,#fffd00,#faff05,#f4ff0b,#efff10,#e9ff16,#e4ff1b,#e0ff1f,#dbff24,#d6ff29,#d1ff2e,#c9ff36,#c1ff3e,#b8ff47,#afff50,#a5ff5a,#99ff66,#8cff73,#7fff80,#6eff91,#5affa5,#46ffb9,#31ffce,#1dffe2,#08fff7,#00f3ff,#00dcff,#00c6ff,#00afff,#0098ff,#007dff,#0062ff,#0047ff,#0027ff,#0007ff,#0000e6,#0000cb,#0000b9,#0000ac,#0000a8,#0000a4,#0000a5,#0000a6,#0000a8,#0000b3,#0000bf,#0000d0,#0000e9,#0006ff,#0027ff,#0047ff,#006fff,#0095ff,#00b8ff,#00dbff,#00feff,#29ffd6,#5bffa4,#94ff6b,#baff45,#dcff23,#feff01,#ffe900,#ffd700,#ffc600,#ffba00,#ffb300,#ffac00,#ffaa00,#ffad00,#ffb100,#ffb800,#ffc600,#ffd400,#ffd100,#ffdb00,#ffe500,#fff000,#efff10,#d0ff2f,#b1ff4e,#88ff77,#56ffa9,#24ffdb,#0afff5,#8aff75,#87ff78,#8bff74,#94ff6b,#97ff68,#9aff65,#97ff68,#90ff6f,#87ff78,#7eff81,#75ff8a,#68ff97,#5affa5,#4cffb3,#3effc1,#30ffcf,#1fffe0,#0efff1,#00fdff,#00edff,#00dfff,#00d1ff,#00c3ff,#00b5ff,#00a9ff,#009fff,#0095ff,#008cff,#0082ff,#007aff,#0072ff,#006dff)"></div>
<div class="c" style="left:783.61px;width:5.96px;background:linear-gradient(#ff5100,#ff5300,#ff5500,#ff5700,#ff5900,#ff5b00,#ff5d00,#ff6000,#ff6200,#ff6400,#ff6600,#ff6800,#ff6a00,#ff6c00,#ff6f00,#ff7100,#ff7400,#ff7700,#ff7a00,#ff7c00,#ff7f00,#ff8200,#ff8400,#ff8700,#ff8a00,#ff8d00,#ff8f00,#ff9200,#ff9500,#ff9a00,#ff9e00,#ffa300,#ffa700,#ffac00,#ffb100,#ffb500,#ffba00,#ffbf00,#ffc700,#ffcf00,#ffd700,#ffdf00,#ffe600,#ffee00,#fff600,#fffd00,#faff05,#f4ff0b,#efff10,#e9ff16,#e5ff1a,#e0ff1f,#dbff24,#d7ff28,#d2ff2d,#ccff33,#c4ff3b,#bcff43,#b3ff4c,#a9ff56,#9eff61,#92ff6d,#85ff7a,#77ff88,#63ff9c,#4fffb0,#3affc5,#26ffd9,#11ffee,#00fcff,#00e6ff,#00d0ff,#00b9ff,#00a2ff,#0089ff,#006eff,#0053ff,#0035ff,#0015ff,#0000f4,#0000d4,#0000c1,#0000af,#0000aa,#0000a6,#0000a4,#0000a6,#0000a7,#0000ad,#0000b9,#0000c6,#0000de,#0000f7,#0018ff,#0039ff,#005dff,#0086ff,#00a9ff,#00ccff,#00efff,#15ffea,#44ffbb,#7cff83,#acff53,#ceff31,#f1ff0e,#fff000,#ffdd00,#ffcb00,#ffbc00,#ffb500,#ffae00,#ffa900,#ffac00,#ffb000,#ffb500,#ffc300,#ffc900,#ffd000,#ffda00,#ffe900,#edff12,#c5ff3a,#9eff61,#62ff9d,#1effe1,#00e2ff,#00c5ff,#4cffb3,#52ffad,#6aff95,#83ff7c,#92ff6d,#a0ff5f,#a4ff5b,#a5ff5a,#9fff60,#97ff68,#8fff70,#85ff7a,#7bff84,#6dff92,#5fffa0,#51ffae,#43ffbc,#35ffca,#24ffdb,#13ffec,#02fffd,#00f1ff,#00e3ff,#00d5ff,#00c7ff,#00b9ff,#00acff,#00a2ff,#0098ff,#008eff,#0085ff,#007cff,#0073ff,#006fff)"></div>
<div class="c" style="left:788.98px;width:5.96px;background:linear-gradient(#ff5300,#ff5500,#ff5700,#ff5900,#ff5b00,#ff5d00,#ff5f00,#ff6100,#ff6300,#ff6500,#ff6800,#ff6a00,#ff6c00,#ff6f00,#ff7100,#ff7400,#ff7700,#ff7900,#ff7c00,#ff7f00,#ff8200,#ff8400,#ff8700,#ff8a00,#ff8c00,#ff8f00,#ff9200,#ff9500,#ff9a00,#ff9e00,#ffa300,#ffa700,#ffac00,#ffb000,#ffb500,#ffb900,#ffbf00,#ffc700,#ffce00,#ffd600,#ffde00,#ffe600,#ffee00,#fff600,#fffd00,#faff05,#f4ff0b,#eeff11,#e9ff16,#e4ff1b,#e0ff1f,#dcff23,#d7ff28,#d3ff2c,#cdff32,#c6ff39,#beff41,#b5ff4a,#acff53,#a2ff5d,#96ff69,#8aff75,#7cff83,#6aff95,#56ffa9,#41ffbe,#2dffd2,#19ffe6,#04fffb,#00efff,#00d8ff,#00c1ff,#00aaff,#0093ff,#0077ff,#005cff,#0041ff,#0021ff,#0001ff,#0000e0,#0000c7,#0000b5,#0000ab,#0000a7,#0000a3,#0000a5,#0000a7,#0000a9,#0000b5,#0000c2,#0000d8,#0000f3,#0015ff,#0038ff,#005fff,#008aff,#00b0ff,#00d5ff,#00fbff,#27ffd8,#5effa1,#9dff62,#c2ff3d,#e8ff17,#fff400,#ffdf00,#ffcb00,#ffbb00,#ffb300,#ffac00,#ffaa00,#ffae00,#ffb100,#ffbc00,#ffc400,#ffce00,#ffd800,#ffe200,#fff900,#d7ff28,#a9ff56,#7bff84,#32ffcd,#00e3ff,#00a7ff,#0086ff,#00feff,#0cfff3,#3affc5,#66ff99,#86ff79,#a3ff5c,#abff54,#b1ff4e,#afff50,#adff52,#a8ff57,#9eff61,#93ff6c,#89ff76,#7fff80,#72ff8d,#64ff9b,#55ffaa,#47ffb8,#39ffc6,#28ffd7,#17ffe8,#06fff9,#00f4ff,#00e6ff,#00d8ff,#00c9ff,#00bbff,#00aeff,#00a4ff,#009aff,#0090ff,#0086ff,#007eff,#0075ff,#0071ff)"></div>
<div class="c" style="left:794.34px;width:5.96px;background:linear-gradient(#ff5500,#ff5700,#ff5900,#ff5b00,#ff5d00,#ff5f00,#ff6100,#ff6300,#ff6500,#ff6800,#ff6a00,#ff6c00,#ff6e00,#ff7100,#ff7400,#ff7700,#ff7900,#ff7c00,#ff7f00,#ff8200,#ff8400,#ff8700,#ff8a00,#ff8c00,#ff8f00,#ff9200,#ff9500,#ff9a00,#ff9e00,#ffa300,#ffa700,#ffac00,#ffb000,#ffb500,#ffb900,#ffbf00,#ffc600,#ffce00,#ffd600,#ffde00,#ffe600,#ffee00,#fff600,#fffe00,#faff05,#f3ff0c,#eeff11,#e9ff16,#e4ff1b,#e0ff1f,#dbff24,#d7ff28,#d3ff2c,#cdff32,#c7ff38,#bfff40,#b7ff48,#aeff51,#a4ff5b,#99ff66,#8dff72,#7fff80,#6fff90,#5bffa4,#47ffb8,#32ffcd,#1effe1,#09fff6,#00f4ff,#00deff,#00c7ff,#00b0ff,#0099ff,#007eff,#0063ff,#0048ff,#0029ff,#0009ff,#0000e8,#0000cc,#0000ba,#0000ac,#0000a8,#0000a4,#0000a5,#0000a6,#0000a8,#0000b2,#0000bf,#0000d4,#0000f1,#0015ff,#003bff,#0066ff,#0094ff,#00bcff,#00e4ff,#0ffff0,#45ffba,#86ff79,#b8ff47,#e1ff1e,#fff600,#ffdf00,#ffc900,#ffba00,#ffb100,#ffaa00,#ffac00,#ffb000,#ffb600,#ffc600,#ffd600,#ffe600,#fff800,#f5ff0a,#d5ff2a,#a5ff5a,#75ff8a,#46ffb9,#00fbff,#00b0ff,#007cff,#005dff,#00a9ff,#00bfff,#05fffa,#42ffbd,#70ff8f,#9eff61,#afff50,#bbff44,#bbff44,#baff45,#baff45,#b4ff4b,#aaff55,#a0ff5f,#96ff69,#8cff73,#82ff7d,#74ff8b,#66ff99,#58ffa7,#4affb5,#3bffc4,#2bffd4,#19ffe6,#08fff7,#00f6ff,#00e8ff,#00d9ff,#00cbff,#00bdff,#00b0ff,#00a6ff,#009bff,#0091ff,#0087ff,#007fff,#0076ff,#0072ff)"></div>
<div class="c" style="left:799.70px;width:5.96px;background:linear-gradient(#ff5700,#ff5900,#ff5b00,#ff5d00,#ff5f00,#ff6200,#ff6400,#ff6600,#ff6800,#ff6a00,#ff6c00,#ff6f00,#ff7100,#ff7400,#ff7700,#ff7a00,#ff7c00,#ff7f00,#ff8200,#ff8400,#ff8700,#ff8a00,#ff8d00,#ff8f00,#ff9200,#ff9500,#ff9a00,#ff9e00,#ffa300,#ffa700,#ffac00,#ffb000,#ffb500,#ffba00,#ffbf00,#ffc700,#ffcf00,#ffd700,#ffde00,#ffe600,#ffee00,#fff700,#fffe00,#f9ff06,#f2ff0d,#edff12,#e8ff17,#e3ff1c,#dfff20,#dbff24,#d7ff28,#d3ff2c,#cdff32,#c7ff38,#c0ff3f,#b8ff47,#afff50,#a6ff59,#9bff64,#8fff70,#81ff7e,#72ff8d,#5effa1,#4affb5,#35ffca,#21ffde,#0cfff3,#00f7ff,#00e1ff,#00caff,#00b3ff,#009cff,#0082ff,#0067ff,#004cff,#002eff,#000eff,#0000ed,#0000cf,#0000bd,#0000ad,#0000a9,#0000a5,#0000a4,#0000a6,#0000a8,#0000b0,#0000bd,#0000d2,#0000f2,#0019ff,#0042ff,#0073ff,#00a2ff,#00cdff,#00f9ff,#2effd1,#70ff8f,#afff50,#daff25,#fff800,#ffdf00,#ffc800,#ffb800,#ffaf00,#ffa900,#ffad00,#ffb100,#ffbf00,#ffd200,#ffe800,#ffff00,#e7ff18,#ceff31,#aaff55,#78ff87,#47ffb8,#18ffe7,#00d2ff,#008cff,#005eff,#0041ff,#0056ff,#0074ff,#00ccff,#1cffe3,#57ffa8,#92ff6d,#a8ff57,#bcff43,#c3ff3c,#c5ff3a,#c6ff39,#c0ff3f,#baff45,#b4ff4b,#abff54,#a1ff5e,#96ff69,#8cff73,#82ff7d,#75ff8a,#67ff98,#58ffa7,#4affb5,#3cffc3,#2bffd4,#19ffe6,#08fff7,#00f6ff,#00e8ff,#00daff,#00cbff,#00bdff,#00b0ff,#00a6ff,#009cff,#0091ff,#0088ff,#007fff,#0076ff,#0072ff)"></div>
<div class="c" style="left:805.06px;width:5.96px;background:linear-gradient(#ff5a00,#ff5c00,#ff5e00,#ff6000,#ff6200,#ff6400,#ff6600,#ff6800,#ff6a00,#ff6c00,#ff6f00,#ff7200,#ff7400,#ff7700,#ff7a00,#ff7d00,#ff7f00,#ff8200,#ff8500,#ff8800,#ff8a00,#ff8d00,#ff9000,#ff9200,#ff9600,#ff9a00,#ff9f00,#ffa400,#ffa800,#ffad00,#ffb100,#ffb600,#ffba00,#ffc000,#ffc800,#ffd000,#ffd800,#ffe000,#ffe700,#ffef00,#fff800,#feff01,#f7ff08,#f1ff0e,#ecff13,#e7ff18,#e2ff1d,#deff21,#daff25,#d6ff29,#d2ff2d,#cdff32,#c6ff39,#bfff40,#b8ff47,#afff50,#a6ff59,#9bff64,#8fff70,#82ff7d,#73ff8c,#5effa1,#4affb5,#36ffc9,#21ffde,#0dfff2,#00f7ff,#00e2ff,#00cbff,#00b4ff,#009dff,#0083ff,#0068ff,#004dff,#002eff,#000eff,#0000ed,#0000cf,#0000bd,#0000ad,#0000a9,#0000a5,#0000a4,#0000a6,#0000a8,#0000b0,#0000bd,#0000d4,#0000f6,#0023ff,#004fff,#0087ff,#00b6ff,#00e6ff,#19ffe6,#5cffa3,#a6ff59,#d5ff2a,#fff900,#ffde00,#ffc500,#ffb600,#ffad00,#ffab00,#ffaf00,#ffb700,#ffc400,#ffdb00,#fff800,#e9ff16,#caff35,#aaff55,#83ff7c,#51ffae,#1effe1,#00eeff,#00afff,#006eff,#0042ff,#0028ff,#000dff,#002cff,#0091ff,#00f3ff,#3bffc4,#82ff7d,#a0ff5f,#b9ff46,#c2ff3d,#c9ff36,#d0ff2f,#cdff32,#c6ff39,#c0ff3f,#baff45,#b4ff4b,#abff54,#a1ff5e,#96ff69,#8cff73,#82ff7d,#75ff8a,#67ff98,#58ffa7,#4affb5,#3cffc3,#2bffd4,#19ffe6,#08fff7,#00f6ff,#00e8ff,#00daff,#00cbff,#00bdff,#00b0ff,#00a6ff,#009cff,#0091ff,#0088ff,#007fff,#0076ff,#0072ff)"></div>
<div class="c" style="left:810.42px;width:5.96px;background:linear-gradient(#ff5c00,#ff5e00,#ff6000,#ff6200,#ff6400,#ff6600,#ff6800,#ff6a00,#ff6d00,#ff7000,#ff7200,#ff7500,#ff7800,#ff7a00,#ff7d00,#ff8000,#ff8300,#ff8500,#ff8800,#ff8b00,#ff8e00,#ff9000,#ff9300,#ff9700,#ff9b00,#ffa000,#ffa400,#ffa900,#ffae00,#ffb200,#ffb700,#ffbb00,#ffc200,#ffca00,#ffd200,#ffd900,#ffe100,#ffe900,#fff100,#fffa00,#fdff02,#f6ff09,#f0ff0f,#eaff15,#e6ff19,#e1ff1e,#ddff22,#d9ff26,#d5ff2a,#d1ff2e,#ccff33,#c5ff3a,#beff41,#b7ff48,#aeff51,#a5ff5a,#9aff65,#8eff71,#80ff7f,#71ff8e,#5cffa3,#48ffb7,#34ffcb,#1fffe0,#0bfff4,#00f5ff,#00dfff,#00c8ff,#00b1ff,#009aff,#0080ff,#0065ff,#004aff,#002bff,#000bff,#0000ea,#0000cd,#0000bb,#0000ad,#0000a8,#0000a4,#0000a4,#0000a6,#0000a8,#0000b1,#0000bf,#0000db,#0003ff,#0033ff,#0068ff,#00a0ff,#00d3ff,#07fff8,#4bffb4,#9fff60,#d2ff2d,#fff900,#ffdb00,#ffc100,#ffb400,#ffaa00,#ffac00,#ffb100,#ffc300,#ffc800,#ffe000,#fbff04,#d8ff27,#b3ff4c,#8cff73,#63ff9c,#2fffd0,#00faff,#00c9ff,#0092ff,#0056ff,#0028ff,#0011ff,#0000d4,#0000f0,#0052ff,#00c8ff,#19ffe6,#6aff95,#96ff69,#b2ff4d,#c1ff3e,#c9ff36,#d1ff2e,#d3ff2c,#d1ff2e,#cdff32,#c6ff39,#c0ff3f,#baff45,#b4ff4b,#abff54,#a1ff5e,#96ff69,#8cff73,#82ff7d,#75ff8a,#67ff98,#58ffa7,#4affb5,#3cffc3,#2bffd4,#19ffe6,#08fff7,#00f6ff,#00e8ff,#00daff,#00cbff,#00bdff,#00b0ff,#00a6ff,#009cff,#0091ff,#0088ff,#007fff,#0076ff,#0072ff)"></div>
<div class="c" style="left:815.79px;width:5.96px;background:linear-gradient(#ff5f00,#ff6100,#ff6300,#ff6500,#ff6700,#ff6900,#ff6b00,#ff6e00,#ff7000,#ff7300,#ff7600,#ff7900,#ff7b00,#ff7e00,#ff8100,#ff8300,#ff8600,#ff8900,#ff8c00,#ff8e00,#ff9100,#ff9400,#ff9800,#ff9d00,#ffa100,#ffa600,#ffaa00,#ffaf00,#ffb300,#ffb800,#ffbc00,#ffc400,#ffcc00,#ffd400,#ffdc00,#ffe400,#ffeb00,#fff400,#fffc00,#faff05,#f4ff0b,#eeff11,#e9ff16,#e4ff1b,#e0ff1f,#dcff23,#d8ff27,#d4ff2b,#d0ff2f,#caff35,#c3ff3c,#bcff43,#b5ff4a,#acff53,#a2ff5d,#97ff68,#8bff74,#7dff82,#6cff93,#58ffa7,#43ffbc,#2fffd0,#1affe5,#06fff9,#00f1ff,#00daff,#00c3ff,#00acff,#0095ff,#007aff,#005fff,#0043ff,#0024ff,#0004ff,#0000e2,#0000c9,#0000b7,#0000ac,#0000a7,#0000a3,#0000a5,#0000a7,#0000a8,#0000b4,#0000c4,#0000e8,#0018ff,#004bff,#008bff,#00c2ff,#00f9ff,#3effc1,#98ff67,#d1ff2e,#fff700,#ffd700,#ffbc00,#ffb100,#ffa900,#ffaf00,#ffb900,#ffc500,#ffcb00,#ffdd00,#f8ff07,#cfff30,#a4ff5b,#76ff89,#49ffb6,#15ffea,#00dfff,#00aaff,#007aff,#0042ff,#0013ff,#0000fb,#0000b7,#0000c6,#0014ff,#0093ff,#00f3ff,#49ffb6,#8aff75,#a9ff56,#bfff40,#c8ff37,#d0ff2f,#d6ff29,#d4ff2b,#d3ff2c,#d1ff2e,#cdff32,#c6ff39,#c0ff3f,#baff45,#b4ff4b,#abff54,#a1ff5e,#96ff69,#8cff73,#82ff7d,#75ff8a,#67ff98,#58ffa7,#4affb5,#3cffc3,#2bffd4,#19ffe6,#08fff7,#00f6ff,#00e8ff,#00daff,#00cbff,#00bdff,#00b0ff,#00a6ff,#009cff,#0091ff,#0088ff,#007fff,#0076ff,#0072ff)"></div>
<div class="c" style="left:821.15px;width:5.96px;background:linear-gradient(#ff6100,#ff6300,#ff6500,#ff6700,#ff6a00,#ff6c00,#ff6e00,#ff7100,#ff7400,#ff7700,#ff7900,#ff7c00,#ff7f00,#ff8200,#ff8400,#ff8700,#ff8a00,#ff8c00,#ff8f00,#ff9200,#ff9500,#ff9a00,#ff9e00,#ffa300,#ffa700,#ffac00,#ffb000,#ffb500,#ffb900,#ffbf00,#ffc700,#ffce00,#ffd600,#ffde00,#ffe600,#ffee00,#fff700,#ffff00,#f8ff07,#f2ff0d,#ecff13,#e7ff18,#e3ff1c,#dfff20,#dbff24,#d7ff28,#d3ff2c,#ceff31,#c8ff37,#c2ff3d,#baff45,#b2ff4d,#a9ff56,#9fff60,#93ff6c,#86ff79,#78ff87,#65ff9a,#51ffae,#3cffc3,#28ffd7,#13ffec,#00feff,#00e9ff,#00d2ff,#00bbff,#00a4ff,#008bff,#0070ff,#0055ff,#0038ff,#0018ff,#0000f7,#0000d7,#0000c2,#0000b0,#0000aa,#0000a6,#0000a4,#0000a5,#0000a7,#0000ac,#0000b9,#0000d2,#0000fe,#0036ff,#0076ff,#00b4ff,#00efff,#36ffc9,#95ff6a,#d4ff2b,#fff300,#ffd100,#ffb900,#ffad00,#ffac00,#ffb100,#ffbd00,#ffc500,#ffcc00,#ffd400,#fffe00,#d1ff2e,#a1ff5e,#6dff92,#38ffc7,#02fffd,#00cbff,#0095ff,#0065ff,#0033ff,#0001ff,#0000e6,#0000d4,#0000ba,#0000e0,#0057ff,#00cbff,#21ffde,#76ff89,#9bff64,#b9ff46,#c5ff3a,#ceff31,#d7ff28,#d7ff28,#d6ff29,#d4ff2b,#d3ff2c,#d1ff2e,#cdff32,#c6ff39,#c0ff3f,#baff45,#b4ff4b,#abff54,#a1ff5e,#96ff69,#8cff73,#82ff7d,#75ff8a,#67ff98,#58ffa7,#4affb5,#3cffc3,#2bffd4,#19ffe6,#08fff7,#00f6ff,#00e8ff,#00daff,#00cbff,#00bdff,#00b0ff,#00a6ff,#009cff,#0091ff,#0088ff,#007fff,#0076ff,#0072ff)"></div>
<div class="c" style="left:826.51px;width:5.96px;background:linear-gradient(#ff6300,#ff6500,#ff6700,#ff6900,#ff6c00,#ff6e00,#ff7100,#ff7400,#ff7700,#ff7900,#ff7c00,#ff7f00,#ff8200,#ff8400,#ff8700,#ff8a00,#ff8d00,#ff8f00,#ff9200,#ff9600,#ff9a00,#ff9f00,#ffa300,#ffa800,#ffac00,#ffb100,#ffb600,#ffba00,#ffc000,#ffc800,#ffd000,#ffd800,#ffe000,#ffe800,#fff000,#fff800,#feff01,#f7ff08,#f1ff0e,#ecff13,#e7ff18,#e3ff1c,#dfff20,#dbff24,#d7ff28,#d3ff2c,#ceff31,#c8ff37,#c1ff3e,#b9ff46,#b1ff4e,#a7ff58,#9cff63,#90ff6f,#82ff7d,#72ff8d,#5effa1,#49ffb6,#35ffca,#20ffdf,#0cfff3,#00f6ff,#00e0ff,#00c8ff,#00b1ff,#009aff,#0080ff,#0064ff,#0049ff,#002aff,#0009ff,#0000e8,#0000cc,#0000ba,#0000ac,#0000a8,#0000a4,#0000a5,#0000a6,#0000a8,#0000b3,#0000c3,#0000ec,#0025ff,#0065ff,#00aaff,#00eaff,#34ffcb,#9bff64,#dbff24,#ffec00,#ffc900,#ffb500,#ffa800,#ffae00,#ffbb00,#ffb900,#ffc200,#ffcb00,#ffd400,#ffe900,#e0ff1f,#aaff55,#73ff8c,#37ffc8,#00faff,#00c1ff,#008aff,#0052ff,#0026ff,#0000f7,#0000d2,#0000c2,#0000b5,#0000c0,#0009ff,#0089ff,#00ecff,#42ffbd,#88ff77,#a6ff59,#bfff40,#caff35,#d4ff2b,#daff25,#d8ff27,#d7ff28,#d6ff29,#d4ff2b,#d3ff2c,#d1ff2e,#cdff32,#c6ff39,#c0ff3f,#baff45,#b4ff4b,#abff54,#a1ff5e,#96ff69,#8cff73,#82ff7d,#75ff8a,#67ff98,#58ffa7,#4affb5,#3cffc3,#2bffd4,#19ffe6,#08fff7,#00f6ff,#00e8ff,#00daff,#00cbff,#00bdff,#00b0ff,#00a6ff,#009cff,#0091ff,#0088ff,#007fff,#0076ff,#0072ff)"></div>
<div class="c" style="left:831.88px;width:5.96px;background:linear-gradient(#ff6500,#ff6700,#ff6900,#ff6b00,#ff6e00,#ff7100,#ff7300,#ff7600,#ff7900,#ff7c00,#ff7f00,#ff8100,#ff8400,#ff8700,#ff8a00,#ff8c00,#ff8f00,#ff9200,#ff9500,#ff9a00,#ff9f00,#ffa300,#ffa800,#ffad00,#ffb100,#ffb600,#ffbb00,#ffc100,#ffc900,#ffd100,#ffd900,#ffe100,#ffe900,#fff100,#fff900,#feff01,#f8ff07,#f2ff0d,#edff12,#e8ff17,#e4ff1b,#e0ff1f,#dcff23,#d8ff27,#d4ff2b,#d0ff2f,#c9ff36,#c1ff3e,#b9ff46,#afff50,#a5ff5a,#99ff66,#8bff74,#7dff82,#6bff94,#56ffa9,#41ffbe,#2dffd2,#18ffe7,#03fffc,#00edff,#00d5ff,#00beff,#00a6ff,#008eff,#0072ff,#0056ff,#0039ff,#0018ff,#0000f6,#0000d5,#0000c1,#0000af,#0000aa,#0000a5,#0000a4,#0000a6,#0000a7,#0000ae,#0000bb,#0000e0,#0019ff,#005bff,#00a6ff,#00eaff,#3affc5,#a4ff5b,#e8ff17,#ffe200,#ffbf00,#ffb000,#ffab00,#ffb200,#ffb500,#ffc200,#ffd000,#ffdf00,#ffec00,#fff800,#e5ff1a,#b2ff4d,#7eff81,#47ffb8,#0dfff2,#00d3ff,#009dff,#0068ff,#0035ff,#000cff,#0000e3,#0000c8,#0000ba,#0000b7,#0000cc,#0024ff,#00a3ff,#00fcff,#51ffae,#8dff72,#acff53,#c1ff3e,#cbff34,#d5ff2a,#dbff24,#daff25,#d8ff27,#d7ff28,#d6ff29,#d4ff2b,#d3ff2c,#d1ff2e,#cdff32,#c6ff39,#c0ff3f,#baff45,#b4ff4b,#abff54,#a1ff5e,#96ff69,#8cff73,#82ff7d,#75ff8a,#67ff98,#58ffa7,#4affb5,#3cffc3,#2bffd4,#19ffe6,#08fff7,#00f6ff,#00e8ff,#00daff,#00cbff,#00bdff,#00b0ff,#00a6ff,#009cff,#0091ff,#0088ff,#007fff,#0076ff,#0072ff)"></div>
<div class="c" style="left:837.24px;width:5.96px;background:linear-gradient(#ff6600,#ff6800,#ff6a00,#ff6d00,#ff6f00,#ff7200,#ff7500,#ff7800,#ff7b00,#ff7e00,#ff8100,#ff8300,#ff8600,#ff8900,#ff8c00,#ff8f00,#ff9200,#ff9500,#ff9900,#ff9e00,#ffa300,#ffa800,#ffac00,#ffb100,#ffb600,#ffbb00,#ffc100,#ffc900,#ffd100,#ffda00,#ffe200,#ffea00,#fff100,#fff900,#ffff00,#f9ff06,#f4ff0b,#efff10,#ebff14,#e6ff19,#e2ff1d,#deff21,#daff25,#d6ff29,#d2ff2d,#cbff34,#c2ff3d,#b9ff46,#aeff51,#a2ff5d,#95ff6a,#86ff79,#78ff87,#63ff9c,#4effb1,#39ffc6,#24ffdb,#0efff1,#00f8ff,#00e1ff,#00c9ff,#00b1ff,#0099ff,#007eff,#0062ff,#0045ff,#0024ff,#0003ff,#0000e0,#0000c7,#0000b4,#0000ab,#0000a6,#0000a4,#0000a5,#0000a7,#0000ab,#0000b7,#0000d8,#0013ff,#0058ff,#00a7ff,#00efff,#48ffb7,#b1ff4e,#faff05,#ffd600,#ffb800,#ffaa00,#ffae00,#ffbe00,#ffb600,#ffc300,#ffd600,#ffeb00,#ffff00,#ecff13,#ddff22,#b9ff46,#89ff76,#58ffa7,#24ffdb,#00eeff,#00b9ff,#0086ff,#0054ff,#0024ff,#0000fd,#0000db,#0000c5,#0000b8,#0000b7,#0000cd,#0025ff,#009fff,#00f7ff,#4affb5,#8aff75,#a7ff58,#bfff40,#c9ff36,#d3ff2c,#dbff24,#dbff24,#daff25,#d8ff27,#d7ff28,#d6ff29,#d4ff2b,#d3ff2c,#d1ff2e,#cdff32,#c6ff39,#c0ff3f,#baff45,#b4ff4b,#abff54,#a1ff5e,#96ff69,#8cff73,#82ff7d,#75ff8a,#67ff98,#58ffa7,#4affb5,#3cffc3,#2bffd4,#19ffe6,#08fff7,#00f6ff,#00e8ff,#00daff,#00cbff,#00bdff,#00b0ff,#00a6ff,#009cff,#0091ff,#0088ff,#007fff,#0076ff,#0072ff)"></div>
<div class="c" style="left:842.60px;width:5.96px;background:linear-gradient(#ff6600,#ff6800,#ff6b00,#ff6d00,#ff7000,#ff7300,#ff7600,#ff7900,#ff7c00,#ff7f00,#ff8200,#ff8500,#ff8700,#ff8a00,#ff8d00,#ff9000,#ff9300,#ff9700,#ff9c00,#ffa100,#ffa600,#ffab00,#ffb000,#ffb400,#ffb900,#ffbf00,#ffc800,#ffd000,#ffd800,#ffe100,#ffe800,#ffee00,#fff500,#fffb00,#fdff02,#f8ff07,#f3ff0c,#efff10,#ebff14,#e7ff18,#e2ff1d,#deff21,#d9ff26,#d4ff2b,#cdff32,#c3ff3c,#b9ff46,#adff52,#9fff60,#90ff6f,#81ff7e,#71ff8e,#5bffa4,#45ffba,#2fffd0,#19ffe6,#04fffb,#00edff,#00d4ff,#00bbff,#00a3ff,#0089ff,#006cff,#004fff,#002fff,#000cff,#0000e9,#0000cb,#0000b8,#0000ac,#0000a7,#0000a3,#0000a5,#0000a7,#0000a9,#0000b6,#0000d5,#0013ff,#005dff,#00afff,#00fbff,#60ff9f,#c5ff3a,#fff200,#ffc800,#ffb200,#ffab00,#ffb200,#ffa700,#ffb100,#ffbf00,#ffcf00,#ffe700,#fcff03,#e1ff1e,#c9ff36,#b6ff49,#94ff6b,#67ff98,#39ffc6,#0afff5,#00d7ff,#00a6ff,#0076ff,#0047ff,#0019ff,#0000f5,#0000d8,#0000c4,#0000b8,#0000b7,#0000c7,#000fff,#0083ff,#00e1ff,#2fffd0,#7dff82,#9bff64,#b6ff49,#c4ff3b,#cdff32,#d7ff28,#dbff24,#dbff24,#daff25,#d8ff27,#d7ff28,#d6ff29,#d4ff2b,#d3ff2c,#d1ff2e,#cdff32,#c6ff39,#c0ff3f,#baff45,#b4ff4b,#abff54,#a1ff5e,#96ff69,#8cff73,#82ff7d,#75ff8a,#67ff98,#58ffa7,#4affb5,#3cffc3,#2bffd4,#19ffe6,#08fff7,#00f6ff,#00e8ff,#00daff,#00cbff,#00bdff,#00b0ff,#00a6ff,#009cff,#0091ff,#0088ff,#007fff,#0076ff,#0072ff)"></div>
<div class="c" style="left:847.96px;width:5.96px;background:linear-gradient(#ff6600,#ff6800,#ff6a00,#ff6d00,#ff7000,#ff7300,#ff7600,#ff7900,#ff7c00,#ff7f00,#ff8200,#ff8500,#ff8800,#ff8b00,#ff8e00,#ff9100,#ff9400,#ff9800,#ff9d00,#ffa200,#ffa700,#ffac00,#ffb100,#ffb600,#ffbb00,#ffc300,#ffcb00,#ffd400,#ffdb00,#ffe200,#ffe900,#ffee00,#fff400,#fff900,#ffff00,#fbff04,#f6ff09,#f1ff0e,#ecff13,#e8ff17,#e2ff1d,#ddff22,#d7ff28,#cfff30,#c4ff3b,#b8ff47,#aaff55,#9aff65,#8bff74,#7bff84,#68ff97,#51ffae,#3bffc4,#24ffdb,#0efff1,#00f7ff,#00deff,#00c5ff,#00acff,#0092ff,#0075ff,#0057ff,#0037ff,#0014ff,#0000f0,#0000cf,#0000bb,#0000ac,#0000a8,#0000a3,#0000a5,#0000a7,#0000a9,#0000b5,#0000d7,#0019ff,#0069ff,#00bdff,#0ffff0,#84ff7b,#deff21,#ffe100,#ffbb00,#ffab00,#ffaf00,#ff9f00,#ffa400,#ffa900,#ffb500,#ffc500,#ffd800,#fff400,#e9ff16,#c8ff37,#aaff55,#92ff6d,#75ff8a,#4affb5,#20ffdf,#00f3ff,#00c6ff,#0099ff,#006cff,#003fff,#0013ff,#0000ef,#0000d8,#0000c5,#0000ba,#0000b5,#0000bc,#0000e7,#0055ff,#00bdff,#07fff8,#50ffaf,#89ff76,#a3ff5c,#bdff42,#c6ff39,#ceff31,#d7ff28,#dbff24,#dbff24,#daff25,#d8ff27,#d7ff28,#d6ff29,#d4ff2b,#d3ff2c,#d1ff2e,#cdff32,#c6ff39,#c0ff3f,#baff45,#b4ff4b,#abff54,#a1ff5e,#96ff69,#8cff73,#82ff7d,#75ff8a,#67ff98,#58ffa7,#4affb5,#3cffc3,#2bffd4,#19ffe6,#08fff7,#00f6ff,#00e8ff,#00daff,#00cbff,#00bdff,#00b0ff,#00a6ff,#009cff,#0091ff,#0088ff,#007fff,#0076ff,#0072ff)"></div>
<div class="c" style="left:853.33px;width:5.96px;background:linear-gradient(#ff6400,#ff6600,#ff6900,#ff6b00,#ff6e00,#ff7100,#ff7400,#ff7700,#ff7a00,#ff7e00,#ff8100,#ff8400,#ff8700,#ff8a00,#ff8d00,#ff9000,#ff9300,#ff9800,#ff9d00,#ffa200,#ffa700,#ffac00,#ffb100,#ffb700,#ffbc00,#ffc400,#ffcc00,#ffd300,#ffda00,#ffe000,#ffe500,#ffeb00,#ffef00,#fff500,#fffa00,#feff01,#f9ff06,#f3ff0c,#edff12,#e7ff18,#e0ff1f,#d9ff26,#d1ff2e,#c3ff3c,#b5ff4a,#a5ff5a,#95ff6a,#85ff7a,#75ff8a,#5effa1,#46ffb9,#2fffd0,#18ffe7,#01fffe,#00e8ff,#00ceff,#00b4ff,#009aff,#007cff,#005dff,#003eff,#001aff,#0000f4,#0000d0,#0000bc,#0000ac,#0000a8,#0000a3,#0000a5,#0000a7,#0000a9,#0000b5,#0000df,#0026ff,#007dff,#00d2ff,#2dffd2,#aaff55,#fdff02,#ffcf00,#ffb300,#ffab00,#ffb500,#ff9800,#ff9e00,#ffa400,#ffa900,#ffb500,#ffc800,#ffde00,#fff900,#deff21,#b7ff48,#8fff70,#74ff8b,#58ffa7,#31ffce,#0afff5,#00e1ff,#00b8ff,#008fff,#0066ff,#003bff,#0011ff,#0000e9,#0000d7,#0000c6,#0000bc,#0000b3,#0000ba,#0000d3,#001dff,#0083ff,#00d7ff,#1cffe3,#60ff9f,#8cff73,#a5ff5a,#bdff42,#c5ff3a,#cdff32,#d5ff2a,#dbff24,#dbff24,#daff25,#d8ff27,#d7ff28,#d6ff29,#d4ff2b,#d3ff2c,#d1ff2e,#cdff32,#c6ff39,#c0ff3f,#baff45,#b4ff4b,#abff54,#a1ff5e,#96ff69,#8cff73,#82ff7d,#75ff8a,#67ff98,#58ffa7,#4affb5,#3cffc3,#2bffd4,#19ffe6,#08fff7,#00f6ff,#00e8ff,#00daff,#00cbff,#00bdff,#00b0ff,#00a6ff,#009cff,#0091ff,#0088ff,#007fff,#0076ff,#0072ff)"></div>
<div class="c" style="left:858.69px;width:5.96px;background:linear-gradient(#ff6200,#ff6400,#ff6700,#ff6900,#ff6c00,#ff6f00,#ff7200,#ff7500,#ff7800,#ff7c00,#ff7f00,#ff8200,#ff8500,#ff8800,#ff8c00,#ff8f00,#ff9200,#ff9600,#ff9b00,#ffa100,#ffa600,#ffab00,#ffb100,#ffb600,#ffbb00,#ffc100,#ffc800,#ffcf00,#ffd500,#ffdb00,#ffe000,#ffe600,#ffeb00,#fff100,#fff700,#fffe00,#f9ff06,#f2ff0d,#ebff14,#e3ff1c,#daff25,#d0ff2f,#c0ff3f,#b0ff4f,#9fff60,#8fff70,#7eff81,#6aff95,#52ffad,#3affc5,#22ffdd,#0afff5,#00f1ff,#00d7ff,#00bcff,#00a1ff,#0083ff,#0063ff,#0043ff,#001eff,#0000f7,#0000d1,#0000bc,#0000ac,#0000a7,#0000a3,#0000a5,#0000a7,#0000aa,#0000ba,#0000ec,#0039ff,#0096ff,#00ecff,#59ffa6,#caff35,#ffe900,#ffbc00,#ffab00,#ffaf00,#ff8500,#ff8c00,#ff9300,#ff9b00,#ffa200,#ffa900,#ffb100,#ffc800,#ffdf00,#fff700,#dbff24,#adff52,#80ff7f,#5affa5,#3cffc3,#1affe5,#00f4ff,#00d0ff,#00abff,#0086ff,#0061ff,#003aff,#0012ff,#0000ea,#0000d5,#0000c8,#0000be,#0000b6,#0000b6,#0000bd,#0000e3,#003fff,#009dff,#00e3ff,#23ffdc,#62ff9d,#8cff73,#a2ff5d,#b9ff46,#c3ff3c,#cbff34,#d2ff2d,#daff25,#dbff24,#daff25,#d8ff27,#d7ff28,#d6ff29,#d4ff2b,#d3ff2c,#d1ff2e,#cdff32,#c6ff39,#c0ff3f,#baff45,#b4ff4b,#abff54,#a1ff5e,#96ff69,#8cff73,#82ff7d,#75ff8a,#67ff98,#58ffa7,#4affb5,#3cffc3,#2bffd4,#19ffe6,#08fff7,#00f6ff,#00e8ff,#00daff,#00cbff,#00bdff,#00b0ff,#00a6ff,#009cff,#0091ff,#0088ff,#007fff,#0076ff,#0072ff)"></div>
<div class="c" style="left:864.05px;width:5.96px;background:linear-gradient(#ff5f00,#ff6200,#ff6400,#ff6700,#ff6900,#ff6c00,#ff6f00,#ff7300,#ff7600,#ff7900,#ff7d00,#ff8000,#ff8300,#ff8600,#ff8a00,#ff8d00,#ff9000,#ff9400,#ff9900,#ff9f00,#ffa400,#ffaa00,#ffaf00,#ffb300,#ffb800,#ffbc00,#ffc300,#ffc900,#ffd000,#ffd600,#ffdc00,#ffe300,#ffe900,#ffef00,#fff700,#ffff00,#f6ff09,#edff12,#e3ff1c,#d9ff26,#ccff33,#bbff44,#aaff55,#99ff66,#88ff77,#76ff89,#5effa1,#45ffba,#2cffd3,#13ffec,#00f9ff,#00dfff,#00c2ff,#00a6ff,#0089ff,#0068ff,#0046ff,#0020ff,#0000f8,#0000d1,#0000bb,#0000ac,#0000a7,#0000a4,#0000a5,#0000a7,#0000ac,#0000c2,#0000fe,#0053ff,#00b3ff,#0efff1,#93ff6c,#f0ff0f,#ffd200,#ffb300,#ffab00,#ffb900,#ff7700,#ff7f00,#ff8800,#ff9000,#ff9900,#ffa200,#ffab00,#ffb400,#ffc600,#ffe000,#fffb00,#deff21,#abff54,#79ff86,#47ffb8,#26ffd9,#04fffb,#00e1ff,#00c0ff,#009fff,#007eff,#005dff,#003aff,#0015ff,#0000f0,#0000d0,#0000c8,#0000c0,#0000b9,#0000b3,#0000b9,#0000ca,#0000f9,#0052ff,#00a9ff,#00e7ff,#22ffdd,#5cffa3,#88ff77,#9dff62,#b2ff4d,#c0ff3f,#c7ff38,#ceff31,#d5ff2a,#dbff24,#daff25,#d8ff27,#d7ff28,#d6ff29,#d4ff2b,#d3ff2c,#d1ff2e,#cdff32,#c6ff39,#c0ff3f,#baff45,#b4ff4b,#abff54,#a1ff5e,#96ff69,#8cff73,#82ff7d,#75ff8a,#67ff98,#58ffa7,#4affb5,#3cffc3,#2bffd4,#19ffe6,#08fff7,#00f6ff,#00e8ff,#00daff,#00cbff,#00bdff,#00b0ff,#00a6ff,#009cff,#0091ff,#0088ff,#007fff,#0076ff,#0072ff)"></div>
<div class="c" style="left:869.41px;width:5.96px;background:linear-gradient(#ff5c00,#ff5f00,#ff6100,#ff6400,#ff6700,#ff6900,#ff6c00,#ff7000,#ff7300,#ff7600,#ff7a00,#ff7d00,#ff8100,#ff8400,#ff8800,#ff8b00,#ff8f00,#ff9200,#ff9700,#ff9c00,#ffa200,#ffa700,#ffac00,#ffb000,#ffb500,#ffb900,#ffbe00,#ffc500,#ffcd00,#ffd400,#ffdb00,#ffe300,#ffea00,#fff300,#fffc00,#f7ff08,#edff12,#e2ff1d,#d6ff29,#c7ff38,#b5ff4a,#a3ff5c,#91ff6e,#7fff80,#69ff96,#50ffaf,#36ffc9,#1cffe3,#02fffd,#00e6ff,#00c9ff,#00acff,#008dff,#006bff,#0048ff,#0021ff,#0000f7,#0000cf,#0000b9,#0000ab,#0000a6,#0000a4,#0000a6,#0000a7,#0000af,#0000d0,#001aff,#0078ff,#00d6ff,#3effc1,#beff41,#ffed00,#ffbd00,#ffaa00,#ffb000,#ff7f00,#ff8100,#ff8400,#ff8900,#ff9300,#ff9e00,#ffab00,#ffb700,#ffc300,#ffd000,#ffdc00,#fff700,#ecff13,#d0ff2f,#a3ff5c,#73ff8c,#44ffbb,#1cffe3,#00f9ff,#00d8ff,#00b6ff,#0097ff,#0079ff,#005aff,#003cff,#001cff,#0000fb,#0000db,#0000ca,#0000c3,#0000bc,#0000b5,#0000b6,#0000bb,#0000d3,#000aff,#005bff,#00acff,#00e4ff,#1bffe4,#51ffae,#82ff7d,#96ff69,#a9ff56,#bdff42,#c3ff3c,#caff35,#d0ff2f,#d6ff29,#daff25,#d8ff27,#d7ff28,#d6ff29,#d4ff2b,#d3ff2c,#d1ff2e,#cdff32,#c6ff39,#c0ff3f,#baff45,#b4ff4b,#abff54,#a1ff5e,#96ff69,#8cff73,#82ff7d,#75ff8a,#67ff98,#58ffa7,#4affb5,#3cffc3,#2bffd4,#19ffe6,#08fff7,#00f6ff,#00e8ff,#00daff,#00cbff,#00bdff,#00b0ff,#00a6ff,#009cff,#0091ff,#0088ff,#007fff,#0076ff,#0072ff)"></div>
<div class="c" style="left:874.77px;width:5.96px;background:linear-gradient(#ff5900,#ff5c00,#ff5f00,#ff6100,#ff6400,#ff6700,#ff6a00,#ff6d00,#ff7000,#ff7400,#ff7700,#ff7b00,#ff7f00,#ff8200,#ff8600,#ff8900,#ff8d00,#ff9100,#ff9400,#ff9900,#ff9f00,#ffa400,#ffa900,#ffae00,#ffb300,#ffb800,#ffbd00,#ffc500,#ffcd00,#ffd600,#ffdf00,#ffe700,#fff100,#fffc00,#f7ff08,#ebff14,#deff21,#d2ff2d,#c0ff3f,#adff52,#9aff65,#88ff77,#75ff8a,#5affa5,#3fffc0,#24ffdb,#09fff6,#00ecff,#00ceff,#00b0ff,#0091ff,#006dff,#0049ff,#001fff,#0000f4,#0000cd,#0000b5,#0000aa,#0000a4,#0000a5,#0000a6,#0000a8,#0000b6,#0000e7,#003aff,#009fff,#00fcff,#7fff80,#e9ff16,#ffd300,#ffb300,#ffac00,#ffbd00,#ff8200,#ff8500,#ff8900,#ff8d00,#ff9200,#ff9b00,#ffa700,#ffb700,#ffc700,#ffd700,#ffe700,#fff700,#f2ff0d,#d6ff29,#bbff44,#9aff65,#6dff92,#41ffbe,#14ffeb,#00f2ff,#00d0ff,#00aeff,#008eff,#0072ff,#0057ff,#003bff,#0020ff,#0004ff,#0000e7,#0000cc,#0000c5,#0000bf,#0000b9,#0000b3,#0000b7,#0000bc,#0000d9,#0012ff,#005dff,#00a9ff,#00deff,#11ffee,#44ffbb,#76ff89,#8eff71,#a0ff5f,#b2ff4d,#bfff40,#c5ff3a,#cbff34,#d1ff2e,#d6ff29,#d8ff27,#d7ff28,#d6ff29,#d4ff2b,#d3ff2c,#d1ff2e,#cdff32,#c6ff39,#c0ff3f,#baff45,#b4ff4b,#abff54,#a1ff5e,#96ff69,#8cff73,#82ff7d,#75ff8a,#67ff98,#58ffa7,#4affb5,#3cffc3,#2bffd4,#19ffe6,#08fff7,#00f6ff,#00e8ff,#00daff,#00cbff,#00bdff,#00b0ff,#00a6ff,#009cff,#0091ff,#0088ff,#007fff,#0076ff,#0072ff)"></div>
<div class="c" style="left:880.14px;width:5.96px;background:linear-gradient(#ff5700,#ff5a00,#ff5c00,#ff5f00,#ff6200,#ff6500,#ff6800,#ff6a00,#ff6e00,#ff7200,#ff7500,#ff7900,#ff7d00,#ff8100,#ff8400,#ff8800,#ff8c00,#ff8f00,#ff9300,#ff9800,#ff9d00,#ffa300,#ffa800,#ffae00,#ffb300,#ffb900,#ffc000,#ffc900,#ffd300,#ffdd00,#ffe700,#fff100,#fffe00,#f3ff0c,#e6ff19,#d9ff26,#caff35,#b7ff48,#a3ff5c,#90ff6f,#7cff83,#63ff9c,#47ffb8,#2bffd4,#0ffff0,#00f2ff,#00d2ff,#00b2ff,#0093ff,#006dff,#0047ff,#001cff,#0000ef,#0000c9,#0000b0,#0000a8,#0000a3,#0000a5,#0000a7,#0000a9,#0000c2,#0005ff,#0062ff,#00c7ff,#30ffcf,#b8ff47,#ffee00,#ffbc00,#ffa900,#ffb100,#ff7e00,#ff8200,#ff8600,#ff8900,#ff8d00,#ff9400,#ff9b00,#ffa200,#ffae00,#ffbe00,#ffd200,#ffe500,#fff900,#f2ff0d,#deff21,#c3ff3c,#a7ff58,#8aff75,#65ff9a,#3cffc3,#12ffed,#00eaff,#00caff,#00a9ff,#0087ff,#006aff,#0051ff,#0038ff,#001fff,#0008ff,#0000f0,#0000d8,#0000c6,#0000c1,#0000bb,#0000b6,#0000b4,#0000b9,#0000c0,#0000dc,#0015ff,#005cff,#00a2ff,#00d6ff,#06fff9,#35ffca,#64ff9b,#86ff79,#97ff68,#a8ff57,#b9ff46,#c1ff3e,#c7ff38,#ccff33,#d0ff2f,#d5ff2a,#d7ff28,#d6ff29,#d4ff2b,#d3ff2c,#d1ff2e,#cdff32,#c6ff39,#c0ff3f,#baff45,#b4ff4b,#abff54,#a1ff5e,#96ff69,#8cff73,#82ff7d,#75ff8a,#67ff98,#58ffa7,#4affb5,#3cffc3,#2bffd4,#19ffe6,#08fff7,#00f6ff,#00e8ff,#00daff,#00cbff,#00bdff,#00b0ff,#00a6ff,#009cff,#0091ff,#0088ff,#007fff,#0076ff,#0072ff)"></div>
<div class="c" style="left:885.50px;width:5.96px;background:linear-gradient(#ff5500,#ff5800,#ff5b00,#ff5e00,#ff6100,#ff6400,#ff6600,#ff6900,#ff6d00,#ff7100,#ff7500,#ff7800,#ff7c00,#ff8000,#ff8400,#ff8800,#ff8c00,#ff8f00,#ff9300,#ff9800,#ff9f00,#ffa500,#ffab00,#ffb100,#ffb700,#ffbe00,#ffc800,#ffd300,#ffde00,#ffe900,#fff500,#fcff03,#eeff11,#e1ff1e,#d3ff2c,#c0ff3f,#abff54,#97ff68,#83ff7c,#6bff94,#4effb1,#31ffce,#13ffec,#00f5ff,#00d5ff,#00b4ff,#0093ff,#006bff,#0044ff,#0017ff,#0000e8,#0000c4,#0000ad,#0000a7,#0000a4,#0000a6,#0000a7,#0000ad,#0000d9,#002bff,#0092ff,#00f3ff,#76ff89,#e8ff17,#ffd200,#ffb200,#ffad00,#ff7500,#ff7900,#ff7e00,#ff8300,#ff8700,#ff8c00,#ff9100,#ff9700,#ffa000,#ffa900,#ffb400,#ffc100,#ffd700,#ffee00,#f9ff06,#e2ff1d,#cbff34,#b4ff4b,#95ff6a,#78ff87,#5bffa4,#34ffcb,#0efff1,#00e7ff,#00c5ff,#00a4ff,#0082ff,#0061ff,#0048ff,#0032ff,#001cff,#0006ff,#0000f3,#0000e0,#0000cc,#0000c2,#0000bd,#0000b9,#0000b4,#0000b5,#0000b9,#0000c4,#0000de,#0016ff,#0058ff,#009aff,#00ceff,#00faff,#27ffd8,#53ffac,#7fff80,#8fff70,#9fff60,#afff50,#bdff42,#c3ff3c,#c8ff37,#ccff33,#cfff30,#d3ff2c,#d6ff29,#d4ff2b,#d3ff2c,#d1ff2e,#cdff32,#c6ff39,#c0ff3f,#baff45,#b4ff4b,#abff54,#a1ff5e,#96ff69,#8cff73,#82ff7d,#75ff8a,#67ff98,#58ffa7,#4affb5,#3cffc3,#2bffd4,#19ffe6,#08fff7,#00f6ff,#00e8ff,#00daff,#00cbff,#00bdff,#00b0ff,#00a6ff,#009cff,#0091ff,#0088ff,#007fff,#0076ff,#0072ff)"></div>
<div class="c" style="left:890.86px;width:5.96px;background:linear-gradient(#ff5400,#ff5700,#ff5a00,#ff5d00,#ff6000,#ff6300,#ff6600,#ff6a00,#ff6d00,#ff7100,#ff7500,#ff7900,#ff7d00,#ff8100,#ff8500,#ff8900,#ff8d00,#ff9100,#ff9600,#ff9d00,#ffa300,#ffaa00,#ffb100,#ffb700,#ffbf00,#ffcb00,#ffd600,#ffe200,#ffee00,#fffb00,#f5ff0a,#e7ff18,#d9ff26,#c7ff38,#b2ff4d,#9dff62,#88ff77,#72ff8d,#53ffac,#35ffca,#16ffe9,#00f7ff,#00d6ff,#00b3ff,#0090ff,#0068ff,#003fff,#000fff,#0000de,#0000bd,#0000ab,#0000a5,#0000a4,#0000a6,#0000a8,#0000bc,#0000f7,#0055ff,#00bfff,#29ffd6,#b6ff49,#ffed00,#ffbb00,#ffa900,#ffb200,#ff7000,#ff7300,#ff7600,#ff7c00,#ff8200,#ff8700,#ff8d00,#ff9300,#ff9900,#ffa200,#ffae00,#ffb900,#ffc600,#ffd600,#fff000,#f3ff0c,#d8ff27,#beff41,#a3ff5c,#87ff78,#68ff97,#4affb5,#2bffd4,#06fff9,#00e2ff,#00bfff,#00a1ff,#007fff,#005dff,#003dff,#0029ff,#0016ff,#0003ff,#0000f0,#0000e1,#0000d3,#0000c4,#0000be,#0000bb,#0000b7,#0000b3,#0000b6,#0000ba,#0000c6,#0000df,#0014ff,#0053ff,#0091ff,#00c6ff,#00efff,#1affe5,#43ffbc,#6dff92,#88ff77,#97ff68,#a6ff59,#b5ff4a,#bfff40,#c4ff3b,#c7ff38,#cbff34,#cfff30,#d2ff2d,#d4ff2b,#d3ff2c,#d1ff2e,#cdff32,#c6ff39,#c0ff3f,#baff45,#b4ff4b,#abff54,#a1ff5e,#96ff69,#8cff73,#82ff7d,#75ff8a,#67ff98,#58ffa7,#4affb5,#3cffc3,#2bffd4,#19ffe6,#08fff7,#00f6ff,#00e8ff,#00daff,#00cbff,#00bdff,#00b0ff,#00a6ff,#009cff,#0091ff,#0088ff,#007fff,#0076ff,#0072ff)"></div>
<div class="c" style="left:896.23px;width:5.96px;background:linear-gradient(#ff5500,#ff5800,#ff5c00,#ff5f00,#ff6200,#ff6500,#ff6800,#ff6b00,#ff7000,#ff7400,#ff7800,#ff7c00,#ff8100,#ff8500,#ff8900,#ff8d00,#ff9100,#ff9700,#ff9e00,#ffa500,#ffac00,#ffb300,#ffba00,#ffc400,#ffd000,#ffdc00,#ffe800,#fff500,#faff05,#ecff13,#ddff22,#cdff32,#b7ff48,#a1ff5e,#8cff73,#76ff89,#56ffa9,#37ffc8,#17ffe8,#00f7ff,#00d4ff,#00b0ff,#008cff,#0061ff,#0035ff,#0004ff,#0000d1,#0000b5,#0000a9,#0000a3,#0000a5,#0000a7,#0000a9,#0000cf,#0021ff,#008bff,#00efff,#74ff8b,#e9ff16,#ffd000,#ffb000,#ffae00,#ff6500,#ff6800,#ff6c00,#ff6f00,#ff7300,#ff7700,#ff7e00,#ff8600,#ff8d00,#ff9400,#ff9b00,#ffa200,#ffae00,#ffbc00,#ffc900,#ffd800,#ffec00,#f3ff0c,#d5ff2a,#b7ff48,#99ff66,#7aff85,#5affa5,#3bffc4,#1dffe2,#00fcff,#00daff,#00baff,#009bff,#007dff,#005bff,#0039ff,#001dff,#000cff,#0000fa,#0000ea,#0000dd,#0000d2,#0000c8,#0000be,#0000bb,#0000b8,#0000b5,#0000b3,#0000b7,#0000bb,#0000c8,#0000df,#0012ff,#004eff,#0089ff,#00beff,#00e6ff,#0efff1,#35ffca,#5dffa2,#81ff7e,#8fff70,#9eff61,#acff53,#baff45,#c0ff3f,#c4ff3b,#c7ff38,#caff35,#ceff31,#d1ff2e,#d3ff2c,#d1ff2e,#cdff32,#c6ff39,#c0ff3f,#baff45,#b4ff4b,#abff54,#a1ff5e,#96ff69,#8cff73,#82ff7d,#75ff8a,#67ff98,#58ffa7,#4affb5,#3cffc3,#2bffd4,#19ffe6,#08fff7,#00f6ff,#00e8ff,#00daff,#00cbff,#00bdff,#00b0ff,#00a6ff,#009cff,#0091ff,#0088ff,#007fff,#0076ff,#0072ff)"></div>
<div class="c" style="left:901.59px;width:5.96px;background:linear-gradient(#ff5800,#ff5b00,#ff5f00,#ff6200,#ff6500,#ff6900,#ff6c00,#ff7000,#ff7500,#ff7900,#ff7d00,#ff8200,#ff8600,#ff8a00,#ff8f00,#ff9300,#ff9a00,#ffa100,#ffa800,#ffaf00,#ffb700,#ffbf00,#ffcb00,#ffd800,#ffe400,#fff100,#feff01,#efff10,#e0ff1f,#d1ff2e,#baff45,#a3ff5c,#8dff72,#76ff89,#56ffa9,#36ffc9,#15ffea,#00f4ff,#00d0ff,#00abff,#0084ff,#0058ff,#0029ff,#0000f5,#0000c9,#0000ad,#0000a7,#0000a4,#0000a6,#0000a7,#0000b7,#0000f0,#004dff,#00bbff,#27ffd8,#b8ff47,#ffea00,#ffba00,#ffaa00,#ffb700,#ff5b00,#ff5f00,#ff6300,#ff6700,#ff6b00,#ff6f00,#ff7300,#ff7900,#ff8200,#ff8a00,#ff9200,#ff9a00,#ffa200,#ffab00,#ffba00,#ffca00,#ffda00,#ffeb00,#faff05,#d8ff27,#b6ff49,#94ff6b,#73ff8c,#51ffae,#2dffd2,#0ffff0,#00efff,#00ceff,#00b1ff,#0094ff,#0078ff,#005aff,#0038ff,#0016ff,#0000fd,#0000ef,#0000e1,#0000d4,#0000cc,#0000c6,#0000c0,#0000bb,#0000b8,#0000b6,#0000b4,#0000b3,#0000b7,#0000bb,#0000c9,#0000e0,#0011ff,#0049ff,#0082ff,#00b8ff,#00ddff,#04fffb,#2affd5,#50ffaf,#75ff8a,#89ff76,#97ff68,#a5ff5a,#b2ff4d,#bdff42,#c1ff3e,#c4ff3b,#c7ff38,#caff35,#cdff32,#d0ff2f,#d1ff2e,#cdff32,#c6ff39,#c0ff3f,#baff45,#b4ff4b,#abff54,#a1ff5e,#96ff69,#8cff73,#82ff7d,#75ff8a,#67ff98,#58ffa7,#4affb5,#3cffc3,#2bffd4,#19ffe6,#08fff7,#00f6ff,#00e8ff,#00daff,#00cbff,#00bdff,#00b0ff,#00a6ff,#009cff,#0091ff,#0088ff,#007fff,#0076ff,#0072ff)"></div>
<div class="c" style="left:906.95px;width:5.96px;background:linear-gradient(#ff5d00,#ff6000,#ff6300,#ff6700,#ff6a00,#ff6e00,#ff7300,#ff7700,#ff7b00,#ff8000,#ff8400,#ff8900,#ff8d00,#ff9200,#ff9700,#ff9f00,#ffa600,#ffae00,#ffb500,#ffbd00,#ffc900,#ffd600,#ffe300,#fff000,#ffff00,#f0ff0f,#e0ff1f,#d1ff2e,#baff45,#a2ff5d,#8bff74,#74ff8b,#53ffac,#31ffce,#10ffef,#00edff,#00c8ff,#00a2ff,#0078ff,#004cff,#0019ff,#0000e4,#0000be,#0000ab,#0000a4,#0000a5,#0000a6,#0000a8,#0000c7,#001aff,#0085ff,#00edff,#75ff8a,#edff12,#ffcd00,#ffae00,#ffaf00,#ff5700,#ff5700,#ff5700,#ff5800,#ff5c00,#ff6100,#ff6600,#ff6a00,#ff6f00,#ff7400,#ff7c00,#ff8500,#ff8e00,#ff9800,#ffa100,#ffaa00,#ffb500,#ffc700,#ffd900,#ffeb00,#fffd00,#e2ff1d,#bcff43,#97ff68,#71ff8e,#4cffb3,#27ffd8,#02fffd,#00e2ff,#00c3ff,#00a3ff,#0089ff,#0070ff,#0057ff,#0038ff,#0016ff,#0000f3,#0000e0,#0000d5,#0000ca,#0000bf,#0000bc,#0000bb,#0000b9,#0000b8,#0000b6,#0000b5,#0000b3,#0000b4,#0000b8,#0000bb,#0000ca,#0000e0,#000fff,#0046ff,#007cff,#00b3ff,#00d7ff,#00fbff,#21ffde,#45ffba,#69ff96,#85ff7a,#92ff6d,#9fff60,#acff53,#b9ff46,#beff41,#c1ff3e,#c4ff3b,#c7ff38,#caff35,#cdff32,#d0ff2f,#cdff32,#c6ff39,#c0ff3f,#baff45,#b4ff4b,#abff54,#a1ff5e,#96ff69,#8cff73,#82ff7d,#75ff8a,#67ff98,#58ffa7,#4affb5,#3cffc3,#2bffd4,#19ffe6,#08fff7,#00f6ff,#00e8ff,#00daff,#00cbff,#00bdff,#00b0ff,#00a6ff,#009cff,#0091ff,#0088ff,#007fff,#0076ff,#0072ff)"></div>
<div class="c" style="left:912.31px;width:5.96px;background:linear-gradient(#ff6300,#ff6600,#ff6900,#ff6d00,#ff7200,#ff7600,#ff7b00,#ff7f00,#ff8400,#ff8800,#ff8d00,#ff9100,#ff9700,#ff9f00,#ffa600,#ffae00,#ffb500,#ffbd00,#ffca00,#ffd700,#ffe400,#fff100,#fdff02,#edff12,#deff21,#cdff32,#b5ff4a,#9eff61,#86ff79,#6cff93,#4affb5,#29ffd6,#07fff8,#00e2ff,#00bcff,#0096ff,#006aff,#003cff,#0006ff,#0000d1,#0000b3,#0000a8,#0000a4,#0000a5,#0000a7,#0000b3,#0000ea,#0047ff,#00b8ff,#27ffd8,#baff45,#ffe700,#ffb800,#ffab00,#ffbc00,#ff5c00,#ff5d00,#ff5d00,#ff5d00,#ff5e00,#ff6000,#ff6500,#ff6a00,#ff6f00,#ff7400,#ff7900,#ff7e00,#ff8700,#ff9100,#ff9b00,#ffa400,#ffae00,#ffb800,#ffc400,#ffd600,#ffe900,#fffb00,#f1ff0e,#cfff30,#abff54,#86ff79,#61ff9e,#3cffc3,#18ffe7,#00f4ff,#00d5ff,#00b7ff,#0099ff,#0081ff,#0068ff,#0050ff,#0031ff,#0010ff,#0000ef,#0000e1,#0000d6,#0000cb,#0000c1,#0000bf,#0000bd,#0000bb,#0000ba,#0000b8,#0000b6,#0000b4,#0000b5,#0000b8,#0000bc,#0000cb,#0000e1,#000fff,#0044ff,#0079ff,#00aeff,#00d3ff,#00f6ff,#1affe5,#3dffc2,#61ff9e,#81ff7e,#8eff71,#9bff64,#a7ff58,#b4ff4b,#bcff43,#bfff40,#c2ff3d,#c5ff3a,#c8ff37,#cbff34,#ceff31,#cdff32,#c6ff39,#c0ff3f,#baff45,#b4ff4b,#abff54,#a1ff5e,#96ff69,#8cff73,#82ff7d,#75ff8a,#67ff98,#58ffa7,#4affb5,#3cffc3,#2bffd4,#19ffe6,#08fff7,#00f6ff,#00e8ff,#00daff,#00cbff,#00bdff,#00b0ff,#00a6ff,#009cff,#0091ff,#0088ff,#007fff,#0076ff,#0072ff)"></div>
<div class="c" style="left:917.67px;width:5.96px;background:linear-gradient(#ff6a00,#ff6e00,#ff7300,#ff7800,#ff7c00,#ff8100,#ff8500,#ff8a00,#ff8e00,#ff9300,#ff9900,#ffa100,#ffa900,#ffb000,#ffb800,#ffc100,#ffce00,#ffdb00,#ffe800,#fff700,#f8ff07,#e8ff17,#d8ff27,#c4ff3b,#adff52,#95ff6a,#7eff81,#60ff9f,#3effc1,#1cffe3,#00f9ff,#00d4ff,#00adff,#0085ff,#0057ff,#0026ff,#0000ef,#0000c4,#0000ac,#0000a5,#0000a4,#0000a6,#0000a8,#0000c4,#0013ff,#0080ff,#00ebff,#77ff88,#f1ff0e,#ffc900,#ffad00,#ffb000,#ff6100,#ff6100,#ff6200,#ff6200,#ff6300,#ff6400,#ff6500,#ff6600,#ff6900,#ff6e00,#ff7300,#ff7800,#ff7e00,#ff8400,#ff8a00,#ff9300,#ff9d00,#ffa700,#ffb100,#ffbb00,#ffc500,#ffd300,#ffe600,#fff800,#f4ff0b,#e1ff1e,#beff41,#9bff64,#77ff88,#53ffac,#2fffd0,#0cfff3,#00eaff,#00ccff,#00afff,#0093ff,#007bff,#0064ff,#004cff,#002eff,#000fff,#0000ef,#0000e3,#0000d9,#0000ce,#0000c5,#0000c3,#0000c0,#0000be,#0000bc,#0000ba,#0000b8,#0000b5,#0000b5,#0000b8,#0000bc,#0000cd,#0000e1,#0010ff,#0044ff,#0078ff,#00abff,#00d0ff,#00f3ff,#16ffe9,#39ffc6,#5cffa3,#7eff81,#8bff74,#98ff67,#a4ff5b,#b0ff4f,#bbff44,#beff41,#c1ff3e,#c4ff3b,#c6ff39,#c9ff36,#ccff33,#cbff34,#c6ff39,#c0ff3f,#baff45,#b4ff4b,#abff54,#a1ff5e,#96ff69,#8cff73,#82ff7d,#75ff8a,#67ff98,#58ffa7,#4affb5,#3cffc3,#2bffd4,#19ffe6,#08fff7,#00f6ff,#00e8ff,#00daff,#00cbff,#00bdff,#00b0ff,#00a6ff,#009cff,#0091ff,#0088ff,#007fff,#0076ff,#0072ff)"></div>
<div class="c" style="left:923.04px;width:5.96px;background:linear-gradient(#ff7500,#ff7a00,#ff7e00,#ff8300,#ff8700,#ff8c00,#ff9000,#ff9500,#ff9d00,#ffa400,#ffac00,#ffb300,#ffbb00,#ffc700,#ffd400,#ffe100,#ffee00,#fffe00,#f1ff0e,#e1ff1e,#d1ff2e,#baff45,#a2ff5d,#8bff74,#73ff8c,#51ffae,#2fffd0,#0dfff2,#00e9ff,#00c3ff,#009cff,#0071ff,#0043ff,#000eff,#0000d7,#0000b7,#0000a9,#0000a4,#0000a5,#0000a7,#0000af,#0000e3,#0042ff,#00b5ff,#27ffd8,#bdff42,#ffe400,#ffb600,#ffac00,#ff6400,#ff6500,#ff6600,#ff6600,#ff6700,#ff6800,#ff6800,#ff6a00,#ff6b00,#ff6c00,#ff6e00,#ff7200,#ff7700,#ff7c00,#ff8200,#ff8800,#ff8f00,#ff9500,#ffa000,#ffaa00,#ffb400,#ffbe00,#ffc800,#ffd300,#ffe200,#fff500,#f7ff08,#e5ff1a,#d0ff2f,#aeff51,#8bff74,#69ff96,#46ffb9,#23ffdc,#00ffff,#00e0ff,#00c3ff,#00a7ff,#008dff,#0076ff,#005fff,#0048ff,#002bff,#000dff,#0000f1,#0000e7,#0000dc,#0000d1,#0000c9,#0000c6,#0000c3,#0000c1,#0000be,#0000bc,#0000b9,#0000b6,#0000b5,#0000b9,#0000bc,#0000ce,#0000e3,#0013ff,#0046ff,#0079ff,#00acff,#00d1ff,#00f3ff,#16ffe9,#38ffc7,#5affa5,#7cff83,#8bff74,#97ff68,#a3ff5c,#afff50,#baff45,#beff41,#c0ff3f,#c3ff3c,#c6ff39,#c8ff37,#cbff34,#caff35,#c6ff39,#c0ff3f,#baff45,#b4ff4b,#abff54,#a1ff5e,#96ff69,#8cff73,#82ff7d,#75ff8a,#67ff98,#58ffa7,#4affb5,#3cffc3,#2bffd4,#19ffe6,#08fff7,#00f6ff,#00e8ff,#00daff,#00cbff,#00bdff,#00b0ff,#00a6ff,#009cff,#0091ff,#0088ff,#007fff,#0076ff,#0072ff)"></div>
<div class="c" style="left:928.40px;width:5.96px;background:linear-gradient(#ff8000,#ff8500,#ff8900,#ff8e00,#ff9200,#ff9900,#ffa000,#ffa800,#ffaf00,#ffb700,#ffc000,#ffcd00,#ffda00,#ffe700,#fff500,#f9ff06,#eaff15,#daff25,#c7ff38,#afff50,#98ff67,#80ff7f,#63ff9c,#41ffbe,#1fffe0,#00fcff,#00d7ff,#00b1ff,#0089ff,#005cff,#002bff,#0000f5,#0000c7,#0000ac,#0000a6,#0000a4,#0000a6,#0000a8,#0000c0,#000eff,#007cff,#00ebff,#7bff84,#f6ff09,#ffc500,#ffab00,#ffb200,#ff6800,#ff6800,#ff6900,#ff6a00,#ff6b00,#ff6c00,#ff6d00,#ff6e00,#ff6e00,#ff7000,#ff7200,#ff7400,#ff7600,#ff7b00,#ff8000,#ff8600,#ff8c00,#ff9300,#ff9a00,#ffa100,#ffac00,#ffb600,#ffc100,#ffcb00,#ffd600,#ffe000,#fff100,#fbff04,#e8ff17,#d6ff29,#c0ff3f,#9eff61,#7dff82,#5bffa4,#39ffc6,#17ffe8,#00f5ff,#00d6ff,#00bbff,#00a0ff,#0088ff,#0072ff,#005cff,#0045ff,#0029ff,#000dff,#0000f4,#0000ea,#0000df,#0000d4,#0000cd,#0000ca,#0000c6,#0000c3,#0000c0,#0000bd,#0000ba,#0000b7,#0000b6,#0000b9,#0000bd,#0000d0,#0000e5,#0018ff,#004bff,#007eff,#00b1ff,#00d3ff,#00f5ff,#18ffe7,#3affc5,#5cffa3,#7eff81,#8bff74,#98ff67,#a4ff5b,#b0ff4f,#bbff44,#beff41,#c0ff3f,#c3ff3c,#c6ff39,#c9ff36,#cbff34,#caff35,#c6ff39,#c0ff3f,#baff45,#b4ff4b,#abff54,#a1ff5e,#96ff69,#8cff73,#82ff7d,#75ff8a,#67ff98,#58ffa7,#4affb5,#3cffc3,#2bffd4,#19ffe6,#08fff7,#00f6ff,#00e8ff,#00daff,#00cbff,#00bdff,#00b0ff,#00a6ff,#009cff,#0091ff,#0088ff,#007fff,#0076ff,#0072ff)"></div>
<div class="c" style="left:933.76px;width:5.96px;background:linear-gradient(#ff8b00,#ff9000,#ff9500,#ff9c00,#ffa400,#ffab00,#ffb300,#ffba00,#ffc600,#ffd300,#ffe000,#ffed00,#fffc00,#f2ff0d,#e2ff1d,#d3ff2c,#bcff43,#a4ff5b,#8dff72,#75ff8a,#53ffac,#31ffce,#0ffff0,#00ecff,#00c6ff,#009fff,#0074ff,#0047ff,#0012ff,#0000dc,#0000b9,#0000a9,#0000a3,#0000a5,#0000a7,#0000ac,#0000df,#003fff,#00b4ff,#2affd5,#c2ff3d,#ffe000,#ffb400,#ffad00,#ff6900,#ff6a00,#ff6b00,#ff6c00,#ff6d00,#ff6e00,#ff6f00,#ff7000,#ff7100,#ff7200,#ff7400,#ff7500,#ff7700,#ff7900,#ff7c00,#ff7e00,#ff8300,#ff8900,#ff8f00,#ff9600,#ff9d00,#ffa500,#ffad00,#ffb800,#ffc300,#ffcd00,#ffd800,#ffe300,#ffee00,#ffff00,#ecff13,#d9ff26,#c7ff38,#b0ff4f,#8fff70,#6fff90,#4effb1,#2dffd2,#0cfff3,#00ebff,#00ceff,#00b4ff,#009aff,#0083ff,#006eff,#0058ff,#0042ff,#0028ff,#000dff,#0000f7,#0000ed,#0000e2,#0000d8,#0000d1,#0000cd,#0000c9,#0000c6,#0000c2,#0000bf,#0000bc,#0000b3,#0000b6,#0000ba,#0000be,#0000d3,#0000e9,#001dff,#0050ff,#0083ff,#00b5ff,#00d7ff,#00f9ff,#1cffe3,#3effc1,#60ff9f,#80ff7f,#8dff72,#99ff66,#a5ff5a,#b1ff4e,#bbff44,#beff41,#c1ff3e,#c4ff3b,#c6ff39,#c9ff36,#ccff33,#cbff34,#c6ff39,#c0ff3f,#baff45,#b4ff4b,#abff54,#a1ff5e,#96ff69,#8cff73,#82ff7d,#75ff8a,#67ff98,#58ffa7,#4affb5,#3cffc3,#2bffd4,#19ffe6,#08fff7,#00f6ff,#00e8ff,#00daff,#00cbff,#00bdff,#00b0ff,#00a6ff,#009cff,#0091ff,#0088ff,#007fff,#0076ff,#0072ff)"></div>
<div class="c" style="left:939.12px;width:5.96px;background:linear-gradient(#ff9800,#ffa000,#ffa700,#ffaf00,#ffb600,#ffbf00,#ffcc00,#ffd900,#ffe600,#fff400,#faff05,#ebff14,#dbff24,#c8ff37,#b1ff4e,#99ff66,#82ff7d,#65ff9a,#43ffbc,#21ffde,#00feff,#00daff,#00b4ff,#008cff,#005fff,#002fff,#0000f8,#0000c9,#0000ad,#0000a6,#0000a4,#0000a6,#0000a8,#0000be,#000bff,#007bff,#00ecff,#82ff7d,#fdff02,#ffc100,#ffa800,#ffb500,#ff6b00,#ff6c00,#ff6d00,#ff6e00,#ff6f00,#ff7000,#ff7200,#ff7300,#ff7400,#ff7600,#ff7700,#ff7800,#ff7900,#ff7b00,#ff7e00,#ff8100,#ff8400,#ff8700,#ff8c00,#ff9200,#ff9800,#ffa000,#ffa800,#ffb000,#ffb900,#ffc400,#ffcf00,#ffda00,#ffe500,#fff000,#fffb00,#f0ff0f,#deff21,#cbff34,#b8ff47,#a0ff5f,#81ff7e,#61ff9e,#41ffbe,#22ffdd,#02fffd,#00e1ff,#00c5ff,#00adff,#0094ff,#007eff,#006aff,#0055ff,#0040ff,#0027ff,#000eff,#0000fb,#0000f0,#0000e6,#0000db,#0000d5,#0000d0,#0000cc,#0000c8,#0000c4,#0000c1,#0000bd,#0000b3,#0000b6,#0000ba,#0000c0,#0000d5,#0000ee,#0022ff,#0055ff,#0088ff,#00b8ff,#00daff,#00fcff,#1fffe0,#41ffbe,#63ff9c,#82ff7d,#8eff71,#9aff65,#a6ff59,#b2ff4d,#bcff43,#bfff40,#c1ff3e,#c4ff3b,#c7ff38,#c9ff36,#ccff33,#cbff34,#c6ff39,#c0ff3f,#baff45,#b4ff4b,#abff54,#a1ff5e,#96ff69,#8cff73,#82ff7d,#75ff8a,#67ff98,#58ffa7,#4affb5,#3cffc3,#2bffd4,#19ffe6,#08fff7,#00f6ff,#00e8ff,#00daff,#00cbff,#00bdff,#00b0ff,#00a6ff,#009cff,#0091ff,#0088ff,#007fff,#0076ff,#0072ff)"></div>
<div class="c" style="left:944.49px;width:5.96px;background:linear-gradient(#ffab00,#ffb200,#ffba00,#ffc500,#ffd200,#ffdf00,#ffec00,#fffb00,#f3ff0c,#e3ff1c,#d3ff2c,#bdff42,#a6ff59,#8eff71,#76ff89,#55ffaa,#33ffcc,#11ffee,#00eeff,#00c8ff,#00a1ff,#0076ff,#0049ff,#0015ff,#0000de,#0000bb,#0000aa,#0000a3,#0000a5,#0000a7,#0000aa,#0000dd,#003eff,#00b6ff,#2fffd0,#c8ff37,#ffdb00,#ffb200,#ffae00,#ff6b00,#ff6c00,#ff6d00,#ff6e00,#ff6f00,#ff7000,#ff7200,#ff7300,#ff7500,#ff7600,#ff7800,#ff7900,#ff7b00,#ff7c00,#ff7e00,#ff7f00,#ff8100,#ff8500,#ff8800,#ff8c00,#ff8f00,#ff9500,#ff9b00,#ffa200,#ffaa00,#ffb200,#ffbb00,#ffc500,#ffd000,#ffdb00,#ffe600,#fff200,#fffd00,#f5ff0a,#e2ff1d,#cfff30,#bcff43,#a9ff56,#91ff6e,#72ff8d,#54ffab,#35ffca,#16ffe9,#00f7ff,#00d8ff,#00beff,#00a6ff,#008eff,#0079ff,#0065ff,#0051ff,#003cff,#0025ff,#000eff,#0000fd,#0000f4,#0000e9,#0000df,#0000d8,#0000d3,#0000cf,#0000cb,#0000c6,#0000c2,#0000be,#0000b3,#0000b7,#0000ba,#0000c2,#0000d6,#0000f3,#0027ff,#005aff,#008dff,#00bbff,#00ddff,#00ffff,#22ffdd,#44ffbb,#66ff99,#83ff7c,#8fff70,#9bff64,#a7ff58,#b3ff4c,#bcff43,#bfff40,#c2ff3d,#c4ff3b,#c7ff38,#caff35,#ccff33,#ccff33,#c6ff39,#c0ff3f,#baff45,#b4ff4b,#abff54,#a1ff5e,#96ff69,#8cff73,#82ff7d,#75ff8a,#67ff98,#58ffa7,#4affb5,#3cffc3,#2bffd4,#19ffe6,#08fff7,#00f6ff,#00e8ff,#00daff,#00cbff,#00bdff,#00b0ff,#00a6ff,#009cff,#0091ff,#0088ff,#007fff,#0076ff,#0072ff)"></div>
<div class="c" style="left:949.85px;width:5.96px;background:linear-gradient(#ffbe00,#ffcc00,#ffd900,#ffe600,#fff300,#fbff04,#ebff14,#dcff23,#c9ff36,#b2ff4d,#9aff65,#83ff7c,#67ff98,#45ffba,#23ffdc,#01fffe,#00dbff,#00b5ff,#008eff,#0060ff,#0030ff,#0000fa,#0000ca,#0000ad,#0000a6,#0000a4,#0000a6,#0000a8,#0000bd,#000aff,#007dff,#00f0ff,#8dff72,#fff900,#ffbc00,#ffaa00,#ffbb00,#ff6b00,#ff6c00,#ff6e00,#ff6f00,#ff7000,#ff7100,#ff7300,#ff7400,#ff7600,#ff7800,#ff7900,#ff7b00,#ff7d00,#ff7f00,#ff8000,#ff8200,#ff8400,#ff8600,#ff8800,#ff8c00,#ff9000,#ff9300,#ff9800,#ff9e00,#ffa400,#ffab00,#ffb400,#ffbd00,#ffc600,#ffd000,#ffdc00,#ffe700,#fff300,#fffe00,#f4ff0b,#e7ff18,#d4ff2b,#c1ff3e,#aeff51,#9bff64,#82ff7d,#65ff9a,#47ffb8,#29ffd6,#0cfff3,#00edff,#00cfff,#00b6ff,#009fff,#0088ff,#0073ff,#005fff,#004cff,#0038ff,#0023ff,#000fff,#0002ff,#0000f7,#0000ed,#0000e2,#0000dc,#0000d7,#0000d1,#0000cd,#0000c8,#0000c4,#0000bf,#0000b4,#0000b7,#0000ba,#0000c4,#0000d8,#0000f7,#002bff,#005eff,#0091ff,#00beff,#00e0ff,#03fffc,#25ffda,#47ffb8,#69ff96,#84ff7b,#90ff6f,#9cff63,#a8ff57,#b4ff4b,#bcff43,#bfff40,#c2ff3d,#c5ff3a,#c7ff38,#caff35,#cdff32,#ccff33,#c6ff39,#c0ff3f,#baff45,#b4ff4b,#abff54,#a1ff5e,#96ff69,#8cff73,#82ff7d,#75ff8a,#67ff98,#58ffa7,#4affb5,#3cffc3,#2bffd4,#19ffe6,#08fff7,#00f6ff,#00e8ff,#00daff,#00cbff,#00bdff,#00b0ff,#00a6ff,#009cff,#0091ff,#0088ff,#007fff,#0076ff,#0072ff)"></div>
<div class="c" style="left:955.21px;width:5.96px;background:linear-gradient(#ffdf00,#ffec00,#fffb00,#f3ff0c,#e4ff1b,#d4ff2b,#beff41,#a6ff59,#8fff70,#77ff88,#56ffa9,#34ffcb,#12ffed,#00efff,#00c8ff,#00a2ff,#0078ff,#004aff,#0016ff,#0000e0,#0000bc,#0000aa,#0000a3,#0000a5,#0000a7,#0000a9,#0000dd,#0040ff,#00baff,#38ffc7,#d0ff2f,#ffd500,#ffb000,#ffb000,#ff6900,#ff6b00,#ff6c00,#ff6e00,#ff6f00,#ff7100,#ff7200,#ff7400,#ff7500,#ff7600,#ff7800,#ff7a00,#ff7c00,#ff7e00,#ff8000,#ff8200,#ff8400,#ff8600,#ff8800,#ff8a00,#ff8c00,#ff8e00,#ff9300,#ff9700,#ff9b00,#ffa000,#ffa700,#ffae00,#ffb400,#ffbe00,#ffc700,#ffd100,#ffdc00,#ffe800,#fff400,#ffff00,#f3ff0c,#e7ff18,#d9ff26,#c6ff39,#b3ff4c,#a0ff5f,#8dff72,#73ff8c,#57ffa8,#3bffc4,#1effe1,#01fffe,#00e3ff,#00c7ff,#00aeff,#0098ff,#0081ff,#006cff,#0057ff,#0046ff,#0034ff,#0022ff,#0010ff,#0005ff,#0000fb,#0000f1,#0000e6,#0000e0,#0000da,#0000d4,#0000cf,#0000ca,#0000c5,#0000c0,#0000b4,#0000b7,#0000bb,#0000c5,#0000da,#0000fb,#002fff,#0062ff,#0095ff,#00c1ff,#00e3ff,#06fff9,#28ffd7,#4affb5,#6cff93,#85ff7a,#91ff6e,#9dff62,#a9ff56,#b5ff4a,#bdff42,#c0ff3f,#c2ff3d,#c5ff3a,#c8ff37,#caff35,#cdff32,#ccff33,#c6ff39,#c0ff3f,#baff45,#b4ff4b,#abff54,#a1ff5e,#96ff69,#8cff73,#82ff7d,#75ff8a,#67ff98,#58ffa7,#4affb5,#3cffc3,#2bffd4,#19ffe6,#08fff7,#00f6ff,#00e8ff,#00daff,#00cbff,#00bdff,#00b0ff,#00a6ff,#009cff,#0091ff,#0088ff,#007fff,#0076ff,#0072ff)"></div>
<div class="c" style="left:960.58px;width:5.96px;background:linear-gradient(#fbff04,#ebff14,#dcff23,#caff35,#b2ff4d,#9aff65,#83ff7c,#67ff98,#45ffba,#23ffdc,#01fffe,#00dcff,#00b5ff,#008eff,#0061ff,#0031ff,#0000fb,#0000ca,#0000ad,#0000a6,#0000a4,#0000a6,#0000a7,#0000bd,#000cff,#0082ff,#00f6ff,#9aff65,#fff300,#ffba00,#ffab00,#ff6700,#ff6800,#ff6a00,#ff6c00,#ff6d00,#ff6f00,#ff7000,#ff7200,#ff7400,#ff7500,#ff7700,#ff7800,#ff7a00,#ff7c00,#ff7e00,#ff8000,#ff8200,#ff8500,#ff8700,#ff8900,#ff8b00,#ff8d00,#ff8f00,#ff9200,#ff9500,#ff9a00,#ff9f00,#ffa300,#ffa900,#ffb000,#ffb700,#ffbd00,#ffc800,#ffd200,#ffdc00,#ffe800,#fff400,#feff01,#f2ff0d,#e6ff19,#daff25,#cbff34,#b8ff47,#a5ff5a,#92ff6d,#7eff81,#65ff9a,#4affb5,#2fffd0,#13ffec,#00f6ff,#00daff,#00beff,#00a6ff,#008fff,#0077ff,#0062ff,#004fff,#003fff,#0031ff,#0023ff,#0013ff,#0009ff,#0000ff,#0000f5,#0000ea,#0000e3,#0000dd,#0000d7,#0000d1,#0000cc,#0000c7,#0000c1,#0000b4,#0000b8,#0000bb,#0000c7,#0000db,#0000fe,#0032ff,#0065ff,#0098ff,#00c3ff,#00e5ff,#08fff7,#2affd5,#4cffb3,#6eff91,#85ff7a,#92ff6d,#9eff61,#aaff55,#b6ff49,#bdff42,#c0ff3f,#c3ff3c,#c5ff3a,#c8ff37,#cbff34,#cdff32,#ccff33,#c6ff39,#c0ff3f,#baff45,#b4ff4b,#abff54,#a1ff5e,#96ff69,#8cff73,#82ff7d,#75ff8a,#67ff98,#58ffa7,#4affb5,#3cffc3,#2bffd4,#19ffe6,#08fff7,#00f6ff,#00e8ff,#00daff,#00cbff,#00bdff,#00b0ff,#00a6ff,#009cff,#0091ff,#0088ff,#007fff,#0076ff,#0072ff)"></div>
<div class="c" style="left:965.94px;width:5.96px;background:linear-gradient(#d4ff2b,#beff41,#a6ff59,#8fff70,#77ff88,#56ffa9,#34ffcb,#12ffed,#00efff,#00c9ff,#00a2ff,#0078ff,#004aff,#0016ff,#0000e0,#0000bc,#0000aa,#0000a3,#0000a5,#0000a7,#0000a9,#0000de,#0043ff,#00bfff,#42ffbd,#daff25,#ffd000,#ffad00,#ffb100,#ff6500,#ff6700,#ff6900,#ff6a00,#ff6c00,#ff6e00,#ff7000,#ff7100,#ff7300,#ff7500,#ff7700,#ff7800,#ff7a00,#ff7c00,#ff7e00,#ff8000,#ff8200,#ff8500,#ff8700,#ff8900,#ff8c00,#ff8e00,#ff9100,#ff9300,#ff9500,#ff9800,#ff9b00,#ffa100,#ffa600,#ffac00,#ffb100,#ffb900,#ffc000,#ffc700,#ffd200,#ffdc00,#ffe700,#fff300,#feff01,#f2ff0d,#e6ff19,#d9ff26,#cdff32,#beff41,#aaff55,#97ff68,#84ff7b,#70ff8f,#57ffa8,#3dffc2,#23ffdc,#08fff7,#00ecff,#00d1ff,#00b5ff,#009dff,#0085ff,#006cff,#0057ff,#0046ff,#003bff,#0030ff,#0024ff,#0016ff,#000dff,#0004ff,#0000f8,#0000ee,#0000e7,#0000e0,#0000da,#0000d4,#0000ce,#0000c8,#0000c2,#0000b4,#0000b8,#0000bb,#0000c8,#0000dc,#0003ff,#0036ff,#0069ff,#009cff,#00c5ff,#00e7ff,#0afff5,#2cffd3,#4effb1,#70ff8f,#86ff79,#92ff6d,#9fff60,#abff54,#b7ff48,#bdff42,#c0ff3f,#c3ff3c,#c6ff39,#c8ff37,#cbff34,#ceff31,#cdff32,#c6ff39,#c0ff3f,#baff45,#b4ff4b,#abff54,#a1ff5e,#96ff69,#8cff73,#82ff7d,#75ff8a,#67ff98,#58ffa7,#4affb5,#3cffc3,#2bffd4,#19ffe6,#08fff7,#00f6ff,#00e8ff,#00daff,#00cbff,#00bdff,#00b0ff,#00a6ff,#009cff,#0091ff,#0088ff,#007fff,#0076ff,#0072ff)"></div>
<div class="c" style="left:971.30px;width:5.96px;background:linear-gradient(#9aff65,#83ff7c,#67ff98,#45ffba,#23ffdc,#01fffe,#00dbff,#00b5ff,#008eff,#0061ff,#0031ff,#0000fa,#0000ca,#0000ad,#0000a6,#0000a4,#0000a6,#0000a7,#0000be,#000fff,#0088ff,#00fdff,#a4ff5b,#ffed00,#ffb700,#ffac00,#ff6000,#ff6200,#ff6400,#ff6600,#ff6800,#ff6a00,#ff6c00,#ff6e00,#ff7000,#ff7200,#ff7400,#ff7600,#ff7800,#ff7a00,#ff7c00,#ff7e00,#ff8000,#ff8100,#ff8400,#ff8600,#ff8900,#ff8c00,#ff8e00,#ff9100,#ff9300,#ff9600,#ff9900,#ff9b00,#ff9e00,#ffa200,#ffa800,#ffae00,#ffb400,#ffba00,#ffc100,#ffc900,#ffd000,#ffdc00,#ffe700,#fff200,#ffff00,#f3ff0c,#e6ff19,#d9ff26,#cdff32,#c0ff3f,#b0ff4f,#9cff63,#89ff76,#76ff89,#62ff9d,#4affb5,#31ffce,#17ffe8,#00fcff,#00e2ff,#00c7ff,#00abff,#0091ff,#0077ff,#005fff,#004cff,#0040ff,#0039ff,#0031ff,#0027ff,#001aff,#0011ff,#0008ff,#0000fc,#0000f2,#0000eb,#0000e3,#0000dc,#0000d6,#0000d0,#0000ca,#0000c3,#0000b5,#0000b8,#0000bb,#0000c9,#0000de,#0006ff,#0039ff,#006cff,#009fff,#00c7ff,#00e9ff,#0cfff3,#2effd1,#50ffaf,#72ff8d,#87ff78,#93ff6c,#9fff60,#acff53,#b8ff47,#beff41,#c0ff3f,#c3ff3c,#c6ff39,#c9ff36,#cbff34,#ceff31,#cdff32,#c6ff39,#c0ff3f,#baff45,#b4ff4b,#abff54,#a1ff5e,#96ff69,#8cff73,#82ff7d,#75ff8a,#67ff98,#58ffa7,#4affb5,#3cffc3,#2bffd4,#19ffe6,#08fff7,#00f6ff,#00e8ff,#00daff,#00cbff,#00bdff,#00b0ff,#00a6ff,#009cff,#0091ff,#0088ff,#007fff,#0076ff,#0072ff)"></div>
<div class="c" style="left:976.66px;width:5.96px;background:linear-gradient(#55ffaa,#33ffcc,#11ffee,#00eeff,#00c8ff,#00a2ff,#0077ff,#004aff,#0016ff,#0000df,#0000bb,#0000aa,#0000a3,#0000a5,#0000a7,#0000aa,#0000e0,#0048ff,#00c6ff,#4fffb0,#e4ff1b,#ffc900,#ffaa00,#ffb300,#ff5d00,#ff5f00,#ff6100,#ff6300,#ff6600,#ff6800,#ff6a00,#ff6c00,#ff6e00,#ff7000,#ff7200,#ff7400,#ff7600,#ff7900,#ff7b00,#ff7d00,#ff7f00,#ff8100,#ff8300,#ff8500,#ff8800,#ff8b00,#ff8d00,#ff9000,#ff9300,#ff9600,#ff9900,#ff9b00,#ff9e00,#ffa100,#ffa400,#ffa900,#ffaf00,#ffb500,#ffbc00,#ffc300,#ffca00,#ffd200,#ffda00,#ffe600,#fff200,#fffd00,#f4ff0b,#e7ff18,#daff25,#cdff32,#c0ff3f,#b3ff4c,#a2ff5d,#8fff70,#7bff84,#68ff97,#54ffab,#3cffc3,#24ffdb,#0cfff3,#00f2ff,#00d8ff,#00bcff,#009eff,#0082ff,#0068ff,#0052ff,#0044ff,#003cff,#0039ff,#0033ff,#002aff,#001eff,#0015ff,#000cff,#0001ff,#0000f6,#0000ee,#0000e6,#0000df,#0000d8,#0000d2,#0000cb,#0000c4,#0000b5,#0000b8,#0000bc,#0000ca,#0000df,#0009ff,#003cff,#006fff,#00a2ff,#00c9ff,#00ebff,#0efff1,#30ffcf,#52ffad,#74ff8b,#88ff77,#94ff6b,#a0ff5f,#acff53,#b8ff47,#beff41,#c1ff3e,#c3ff3c,#c6ff39,#c9ff36,#cbff34,#ceff31,#cdff32,#c6ff39,#c0ff3f,#baff45,#b4ff4b,#abff54,#a1ff5e,#96ff69,#8cff73,#82ff7d,#75ff8a,#67ff98,#58ffa7,#4affb5,#3cffc3,#2bffd4,#19ffe6,#08fff7,#00f6ff,#00e8ff,#00daff,#00cbff,#00bdff,#00b0ff,#00a6ff,#009cff,#0091ff,#0088ff,#007fff,#0076ff,#0072ff)"></div>
<div class="c" style="left:982.02px;width:5.96px;background:linear-gradient(#00ffff,#00dbff,#00b4ff,#008dff,#0060ff,#0030ff,#0000f9,#0000ca,#0000ad,#0000a6,#0000a4,#0000a6,#0000a8,#0000bf,#0014ff,#008fff,#06fff9,#aeff51,#ffe600,#ffb500,#ffae00,#ff5600,#ff5800,#ff5b00,#ff5d00,#ff6000,#ff6200,#ff6500,#ff6700,#ff6900,#ff6c00,#ff6e00,#ff7000,#ff7200,#ff7500,#ff7700,#ff7900,#ff7b00,#ff7e00,#ff8000,#ff8200,#ff8400,#ff8700,#ff8900,#ff8c00,#ff8f00,#ff9200,#ff9500,#ff9800,#ff9b00,#ff9e00,#ffa100,#ffa400,#ffa700,#ffaa00,#ffaf00,#ffb600,#ffbd00,#ffc400,#ffcb00,#ffd300,#ffdb00,#ffe400,#fff000,#fffc00,#f5ff0a,#e8ff17,#dbff24,#ceff31,#c1ff3e,#b3ff4c,#a6ff59,#95ff6a,#81ff7e,#6dff92,#5affa5,#46ffb9,#2fffd0,#18ffe7,#01fffe,#00e7ff,#00cdff,#00afff,#008eff,#0071ff,#0058ff,#0047ff,#003fff,#003cff,#003bff,#0036ff,#002dff,#0022ff,#0019ff,#0010ff,#0005ff,#0000fa,#0000f2,#0000e9,#0000e1,#0000da,#0000d3,#0000cc,#0000c5,#0000b5,#0000b8,#0000bc,#0000cb,#0000e0,#000bff,#003eff,#0071ff,#00a4ff,#00cbff,#00edff,#10ffef,#32ffcd,#54ffab,#76ff89,#88ff77,#95ff6a,#a1ff5e,#adff52,#b9ff46,#beff41,#c1ff3e,#c4ff3b,#c6ff39,#c9ff36,#ccff33,#ceff31,#cdff32,#c6ff39,#c0ff3f,#baff45,#b4ff4b,#abff54,#a1ff5e,#96ff69,#8cff73,#82ff7d,#75ff8a,#67ff98,#58ffa7,#4affb5,#3cffc3,#2bffd4,#19ffe6,#08fff7,#00f6ff,#00e8ff,#00daff,#00cbff,#00bdff,#00b0ff,#00a6ff,#009cff,#0091ff,#0088ff,#007fff,#0076ff,#0072ff)"></div>
<div class="c" style="left:987.39px;width:5.96px;background:linear-gradient(#00a1ff,#0076ff,#0048ff,#0014ff,#0000de,#0000ba,#0000aa,#0000a3,#0000a5,#0000a7,#0000ab,#0000e4,#004fff,#00ceff,#5effa1,#f0ff0f,#ffc300,#ffa900,#ffba00,#ff5100,#ff5300,#ff5600,#ff5900,#ff5b00,#ff5e00,#ff6000,#ff6300,#ff6600,#ff6800,#ff6b00,#ff6d00,#ff7000,#ff7200,#ff7400,#ff7700,#ff7900,#ff7c00,#ff7e00,#ff8000,#ff8300,#ff8500,#ff8800,#ff8a00,#ff8d00,#ff9000,#ff9300,#ff9600,#ff9900,#ff9d00,#ffa000,#ffa300,#ffa600,#ffaa00,#ffad00,#ffb000,#ffb600,#ffbd00,#ffc500,#ffcc00,#ffd400,#ffdc00,#ffe400,#ffed00,#fffa00,#f7ff08,#eaff15,#ddff22,#cfff30,#c2ff3d,#b4ff4b,#a7ff58,#99ff66,#87ff78,#74ff8b,#60ff9f,#4cffb3,#38ffc7,#22ffdd,#0cfff3,#00f4ff,#00dbff,#00c0ff,#00a0ff,#007cff,#005fff,#004aff,#0040ff,#003eff,#003eff,#003eff,#0038ff,#0030ff,#0026ff,#001dff,#0014ff,#0009ff,#0000fe,#0000f5,#0000ec,#0000e4,#0000dd,#0000d5,#0000ce,#0000c6,#0000b5,#0000b9,#0000bc,#0000cc,#0000e1,#000eff,#0041ff,#0074ff,#00a7ff,#00cdff,#00efff,#12ffed,#34ffcb,#56ffa9,#78ff87,#89ff76,#95ff6a,#a1ff5e,#aeff51,#baff45,#beff41,#c1ff3e,#c4ff3b,#c6ff39,#c9ff36,#ccff33,#cfff30,#cdff32,#c6ff39,#c0ff3f,#baff45,#b4ff4b,#abff54,#a1ff5e,#96ff69,#8cff73,#82ff7d,#75ff8a,#67ff98,#58ffa7,#4affb5,#3cffc3,#2bffd4,#19ffe6,#08fff7,#00f6ff,#00e8ff,#00daff,#00cbff,#00bdff,#00b0ff,#00a6ff,#009cff,#0091ff,#0088ff,#007fff,#0076ff,#0072ff)"></div>
<div class="c" style="left:992.75px;width:5.96px;background:linear-gradient(#002eff,#0000f7,#0000c9,#0000ad,#0000a6,#0000a4,#0000a6,#0000a8,#0000c1,#001aff,#0097ff,#11ffee,#b9ff46,#ffdf00,#ffb200,#ffaf00,#ff4800,#ff4b00,#ff4e00,#ff5000,#ff5300,#ff5600,#ff5900,#ff5c00,#ff5e00,#ff6100,#ff6400,#ff6700,#ff6a00,#ff6c00,#ff6f00,#ff7100,#ff7400,#ff7700,#ff7900,#ff7c00,#ff7e00,#ff8100,#ff8300,#ff8600,#ff8900,#ff8b00,#ff8e00,#ff9000,#ff9400,#ff9700,#ff9b00,#ff9e00,#ffa200,#ffa500,#ffa800,#ffac00,#ffaf00,#ffb300,#ffb600,#ffbd00,#ffc500,#ffcd00,#ffd500,#ffdd00,#ffe500,#ffed00,#fff700,#faff05,#ecff13,#dfff20,#d1ff2e,#c3ff3c,#b6ff49,#a8ff57,#9aff65,#8cff73,#7aff85,#66ff99,#52ffad,#3effc1,#2affd5,#15ffea,#00ffff,#00e8ff,#00ceff,#00b0ff,#008dff,#0068ff,#004eff,#0041ff,#003eff,#0041ff,#0041ff,#0040ff,#003bff,#0033ff,#002aff,#0021ff,#0018ff,#000dff,#0003ff,#0000f8,#0000ef,#0000e7,#0000df,#0000d7,#0000cf,#0000c7,#0000b5,#0000b9,#0000bc,#0000cd,#0000e2,#0010ff,#0043ff,#0076ff,#00a9ff,#00ceff,#00f0ff,#13ffec,#35ffca,#57ffa8,#79ff86,#89ff76,#96ff69,#a2ff5d,#aeff51,#baff45,#beff41,#c1ff3e,#c4ff3b,#c7ff38,#c9ff36,#ccff33,#cfff30,#cdff32,#c6ff39,#c0ff3f,#baff45,#b4ff4b,#abff54,#a1ff5e,#96ff69,#8cff73,#82ff7d,#75ff8a,#67ff98,#58ffa7,#4affb5,#3cffc3,#2bffd4,#19ffe6,#08fff7,#00f6ff,#00e8ff,#00daff,#00cbff,#00bdff,#00b0ff,#00a6ff,#009cff,#0091ff,#0088ff,#007fff,#0076ff,#0072ff)"></div>
<div class="c" style="left:998.11px;width:5.96px;background:linear-gradient(#0000b9,#0000a9,#0000a3,#0000a5,#0000a7,#0000ad,#0000e9,#0058ff,#00d8ff,#70ff8f,#fcff03,#ffbd00,#ffaa00,#ffc000,#ff4200,#ff4500,#ff4800,#ff4b00,#ff4e00,#ff5100,#ff5400,#ff5700,#ff5a00,#ff5d00,#ff5f00,#ff6200,#ff6500,#ff6800,#ff6b00,#ff6e00,#ff7100,#ff7300,#ff7600,#ff7900,#ff7c00,#ff7e00,#ff8100,#ff8400,#ff8700,#ff8900,#ff8c00,#ff8f00,#ff9100,#ff9400,#ff9800,#ff9b00,#ff9f00,#ffa300,#ffa600,#ffaa00,#ffae00,#ffb100,#ffb500,#ffb900,#ffbd00,#ffc400,#ffcc00,#ffd400,#ffdc00,#ffe500,#ffed00,#fff600,#feff01,#f0ff0f,#e2ff1d,#d4ff2b,#c6ff39,#b8ff47,#abff54,#9dff62,#8fff70,#81ff7e,#6eff91,#5affa5,#46ffb9,#32ffcd,#1effe1,#0afff5,#00f4ff,#00dcff,#00c0ff,#009fff,#0079ff,#0055ff,#0042ff,#003eff,#0041ff,#0046ff,#0045ff,#0042ff,#003dff,#0035ff,#002dff,#0025ff,#001bff,#0011ff,#0007ff,#0000fc,#0000f1,#0000e9,#0000e1,#0000d9,#0000d1,#0000c8,#0000b5,#0000b9,#0000bc,#0000ce,#0000e3,#0012ff,#0045ff,#0078ff,#00abff,#00d0ff,#00f2ff,#15ffea,#37ffc8,#59ffa6,#7bff84,#8aff75,#96ff69,#a3ff5c,#afff50,#bbff44,#bfff40,#c1ff3e,#c4ff3b,#c7ff38,#caff35,#ccff33,#cfff30,#cdff32,#c6ff39,#c0ff3f,#baff45,#b4ff4b,#abff54,#a1ff5e,#96ff69,#8cff73,#82ff7d,#75ff8a,#67ff98,#58ffa7,#4affb5,#3cffc3,#2bffd4,#19ffe6,#08fff7,#00f6ff,#00e8ff,#00daff,#00cbff,#00bdff,#00b0ff,#00a6ff,#009cff,#0091ff,#0088ff,#007fff,#0076ff,#0072ff)"></div>
<div class="c" style="left:1003.47px;width:5.96px;background:linear-gradient(#0000a4,#0000a6,#0000a8,#0000c3,#0021ff,#00a0ff,#1effe1,#c5ff3a,#ffd800,#ffaf00,#ffb100,#ff3e00,#ff4100,#ff4300,#ff4600,#ff4900,#ff4c00,#ff4f00,#ff5200,#ff5500,#ff5800,#ff5b00,#ff5d00,#ff6000,#ff6300,#ff6600,#ff6900,#ff6c00,#ff6f00,#ff7200,#ff7500,#ff7800,#ff7a00,#ff7d00,#ff8000,#ff8300,#ff8500,#ff8800,#ff8b00,#ff8e00,#ff9100,#ff9300,#ff9600,#ff9900,#ff9d00,#ffa000,#ffa400,#ffa800,#ffac00,#ffb000,#ffb300,#ffb700,#ffbb00,#ffbf00,#ffc300,#ffca00,#ffd200,#ffda00,#ffe300,#ffeb00,#fff400,#fffc00,#f7ff08,#e9ff16,#dcff23,#ceff31,#c0ff3f,#b2ff4d,#a4ff5b,#97ff68,#89ff76,#7bff84,#68ff97,#55ffaa,#42ffbd,#2effd1,#1bffe4,#07fff8,#00f0ff,#00d6ff,#00b7ff,#0091ff,#006bff,#004cff,#0042ff,#0044ff,#004bff,#004eff,#004aff,#0046ff,#003fff,#0037ff,#002fff,#0027ff,#001dff,#0013ff,#0009ff,#0000fe,#0000f4,#0000eb,#0000e3,#0000db,#0000d3,#0000cb,#0000b6,#0000b9,#0000bc,#0000cf,#0000e3,#0014ff,#0047ff,#007aff,#00adff,#00d1ff,#00f3ff,#16ffe9,#38ffc7,#5affa5,#7cff83,#8bff74,#97ff68,#a3ff5c,#afff50,#bbff44,#bfff40,#c2ff3d,#c4ff3b,#c7ff38,#caff35,#ccff33,#cfff30,#cdff32,#c6ff39,#c0ff3f,#baff45,#b4ff4b,#abff54,#a1ff5e,#96ff69,#8cff73,#82ff7d,#75ff8a,#67ff98,#58ffa7,#4affb5,#3cffc3,#2bffd4,#19ffe6,#08fff7,#00f6ff,#00e8ff,#00daff,#00cbff,#00bdff,#00b0ff,#00a6ff,#009cff,#0091ff,#0088ff,#007fff,#0076ff,#0072ff)"></div>
<div class="c" style="left:1008.84px;width:5.96px;background:linear-gradient(#0000af,#0000ee,#0062ff,#00e2ff,#83ff7c,#fff700,#ffba00,#ffac00,#ff4000,#ff4000,#ff4100,#ff4200,#ff4500,#ff4700,#ff4a00,#ff4d00,#ff5000,#ff5300,#ff5600,#ff5900,#ff5c00,#ff5e00,#ff6100,#ff6400,#ff6700,#ff6a00,#ff6d00,#ff7000,#ff7300,#ff7600,#ff7900,#ff7c00,#ff7e00,#ff8100,#ff8400,#ff8700,#ff8a00,#ff8d00,#ff9000,#ff9200,#ff9500,#ff9800,#ff9b00,#ff9e00,#ffa200,#ffa500,#ffa900,#ffad00,#ffb100,#ffb500,#ffb900,#ffbd00,#ffc100,#ffc500,#ffc900,#ffd000,#ffd900,#ffe100,#ffe900,#fff200,#fffa00,#fbff04,#f0ff0f,#e2ff1d,#d5ff2a,#c7ff38,#baff45,#acff53,#9eff61,#91ff6e,#83ff7c,#76ff89,#63ff9c,#51ffae,#3effc1,#2bffd4,#18ffe7,#03fffc,#00ebff,#00ceff,#00aaff,#0083ff,#005fff,#0048ff,#0047ff,#004eff,#0054ff,#0055ff,#004fff,#0048ff,#0041ff,#0039ff,#0031ff,#0028ff,#001fff,#0014ff,#000aff,#0000ff,#0000f6,#0000ee,#0000e6,#0000de,#0000d6,#0000ce,#0000b6,#0000b9,#0000bc,#0000d0,#0000e4,#0016ff,#0049ff,#007cff,#00afff,#00d2ff,#00f4ff,#17ffe8,#39ffc6,#5bffa4,#7dff82,#8bff74,#97ff68,#a3ff5c,#b0ff4f,#bcff43,#bfff40,#c2ff3d,#c4ff3b,#c7ff38,#caff35,#cdff32,#cfff30,#cdff32,#c6ff39,#c0ff3f,#baff45,#b4ff4b,#abff54,#a1ff5e,#96ff69,#8cff73,#82ff7d,#75ff8a,#67ff98,#58ffa7,#4affb5,#3cffc3,#2bffd4,#19ffe6,#08fff7,#00f6ff,#00e8ff,#00daff,#00cbff,#00bdff,#00b0ff,#00a6ff,#009cff,#0091ff,#0088ff,#007fff,#0076ff,#0072ff)"></div>
<div class="c" style="left:1014.20px;width:5.96px;background:linear-gradient(#00aaff,#2dffd2,#d1ff2e,#ffd000,#ffac00,#ffb200,#ff4300,#ff4300,#ff4400,#ff4400,#ff4500,#ff4600,#ff4900,#ff4c00,#ff4e00,#ff5100,#ff5400,#ff5700,#ff5a00,#ff5d00,#ff5f00,#ff6200,#ff6500,#ff6800,#ff6b00,#ff6e00,#ff7100,#ff7400,#ff7700,#ff7a00,#ff7d00,#ff8000,#ff8200,#ff8500,#ff8800,#ff8b00,#ff8e00,#ff9100,#ff9400,#ff9700,#ff9a00,#ff9d00,#ffa000,#ffa300,#ffa700,#ffaa00,#ffae00,#ffb200,#ffb600,#ffba00,#ffbf00,#ffc300,#ffc700,#ffcb00,#ffcf00,#ffd700,#ffdf00,#ffe700,#ffef00,#fff800,#fdff02,#f4ff0b,#e9ff16,#dcff23,#ceff31,#c1ff3e,#b3ff4c,#a6ff59,#99ff66,#8bff74,#7eff81,#70ff8f,#5effa1,#4cffb3,#3affc5,#27ffd8,#14ffeb,#00feff,#00e4ff,#00c3ff,#009cff,#0076ff,#0059ff,#004cff,#0052ff,#005aff,#005dff,#005aff,#0052ff,#004bff,#0043ff,#003bff,#0032ff,#002aff,#0020ff,#0016ff,#000cff,#0002ff,#0000f8,#0000f0,#0000e8,#0000e0,#0000d8,#0000d0,#0000b6,#0000b9,#0000bd,#0000d1,#0000e5,#0018ff,#004bff,#007eff,#00b1ff,#00d4ff,#00f6ff,#19ffe6,#3bffc4,#5dffa2,#7fff80,#8bff74,#98ff67,#a4ff5b,#b0ff4f,#bcff43,#bfff40,#c2ff3d,#c5ff3a,#c7ff38,#caff35,#cdff32,#cfff30,#cdff32,#c6ff39,#c0ff3f,#baff45,#b4ff4b,#abff54,#a1ff5e,#96ff69,#8cff73,#82ff7d,#75ff8a,#67ff98,#58ffa7,#4affb5,#3cffc3,#2bffd4,#19ffe6,#08fff7,#00f6ff,#00e8ff,#00daff,#00cbff,#00bdff,#00b0ff,#00a6ff,#009cff,#0091ff,#0088ff,#007fff,#0076ff,#0072ff)"></div>
<div class="c" style="left:1019.56px;width:5.96px;background:linear-gradient(#ffef00,#ffb700,#ffad00,#ff4500,#ff4500,#ff4600,#ff4600,#ff4700,#ff4700,#ff4800,#ff4900,#ff4a00,#ff4d00,#ff5000,#ff5200,#ff5500,#ff5800,#ff5b00,#ff5e00,#ff6000,#ff6300,#ff6600,#ff6900,#ff6c00,#ff6f00,#ff7200,#ff7500,#ff7800,#ff7b00,#ff7e00,#ff8100,#ff8400,#ff8700,#ff8900,#ff8c00,#ff8f00,#ff9200,#ff9500,#ff9800,#ff9c00,#ff9f00,#ffa200,#ffa500,#ffa800,#ffac00,#ffaf00,#ffb300,#ffb700,#ffbb00,#ffc000,#ffc400,#ffc900,#ffcd00,#ffd100,#ffd600,#ffdd00,#ffe500,#ffed00,#fff600,#ffff00,#f6ff09,#edff12,#e2ff1d,#d5ff2a,#c8ff37,#baff45,#adff52,#a0ff5f,#93ff6c,#85ff7a,#78ff87,#6bff94,#59ffa6,#48ffb7,#36ffc9,#24ffdb,#10ffef,#00f8ff,#00dbff,#00b6ff,#008fff,#006eff,#005bff,#0056ff,#005fff,#0065ff,#0064ff,#005eff,#0054ff,#004dff,#0045ff,#003cff,#0034ff,#002cff,#0022ff,#0018ff,#000eff,#0004ff,#0000fa,#0000f2,#0000ea,#0000e2,#0000db,#0000b3,#0000b6,#0000ba,#0000bd,#0000d2,#0000e6,#001aff,#004dff,#0080ff,#00b3ff,#00d5ff,#00f7ff,#1affe5,#3cffc3,#5effa1,#80ff7f,#8cff73,#98ff67,#a4ff5b,#b1ff4e,#bcff43,#bfff40,#c2ff3d,#c5ff3a,#c7ff38,#caff35,#cdff32,#cfff30,#cdff32,#c6ff39,#c0ff3f,#baff45,#b4ff4b,#abff54,#a1ff5e,#96ff69,#8cff73,#82ff7d,#75ff8a,#67ff98,#58ffa7,#4affb5,#3cffc3,#2bffd4,#19ffe6,#08fff7,#00f6ff,#00e8ff,#00daff,#00cbff,#00bdff,#00b0ff,#00a6ff,#009cff,#0091ff,#0088ff,#007fff,#0076ff,#0072ff)"></div>
<div class="c" style="left:1024.92px;width:5.96px;background:linear-gradient(#ffb800,#ff4600,#ff4700,#ff4800,#ff4800,#ff4900,#ff4a00,#ff4a00,#ff4b00,#ff4c00,#ff4d00,#ff4e00,#ff5100,#ff5400,#ff5600,#ff5900,#ff5c00,#ff5f00,#ff6200,#ff6400,#ff6700,#ff6a00,#ff6d00,#ff7000,#ff7300,#ff7600,#ff7900,#ff7c00,#ff7f00,#ff8200,#ff8500,#ff8800,#ff8b00,#ff8e00,#ff9000,#ff9300,#ff9700,#ff9a00,#ff9d00,#ffa000,#ffa300,#ffa600,#ffaa00,#ffad00,#ffb100,#ffb400,#ffb800,#ffbc00,#ffc100,#ffc500,#ffca00,#ffce00,#ffd300,#ffd800,#ffdc00,#ffe400,#ffec00,#fff300,#fffc00,#f9ff06,#f0ff0f,#e7ff18,#dbff24,#ceff31,#c1ff3e,#b4ff4b,#a7ff58,#9aff65,#8dff72,#80ff7f,#73ff8c,#66ff99,#54ffab,#43ffbc,#32ffcd,#20ffdf,#0bfff4,#00f0ff,#00cfff,#00a8ff,#0084ff,#006bff,#0061ff,#0062ff,#006aff,#006dff,#0069ff,#0061ff,#0057ff,#004fff,#0046ff,#003eff,#0036ff,#002dff,#0024ff,#001aff,#0010ff,#0006ff,#0000fc,#0000f4,#0000ed,#0000e5,#0000dd,#0000b6,#0000ba,#0000bd,#0000c1,#0000d5,#0000eb,#001fff,#0051ff,#0084ff,#00b6ff,#00d8ff,#00f9ff,#1cffe3,#3effc1,#60ff9f,#81ff7e,#8dff72,#99ff66,#a5ff5a,#b1ff4e,#bdff42,#bfff40,#c2ff3d,#c5ff3a,#c8ff37,#caff35,#cdff32,#d0ff2f,#cdff32,#c6ff39,#c0ff3f,#baff45,#b4ff4b,#abff54,#a1ff5e,#96ff69,#8cff73,#82ff7d,#75ff8a,#67ff98,#58ffa7,#4affb5,#3cffc3,#2bffd4,#19ffe6,#08fff7,#00f6ff,#00e8ff,#00daff,#00cbff,#00bdff,#00b0ff,#00a6ff,#009cff,#0091ff,#0088ff,#007fff,#0076ff,#0072ff)"></div>
<div class="c" style="left:1030.29px;width:5.96px;background:linear-gradient(#ff4800,#ff4900,#ff4a00,#ff4b00,#ff4b00,#ff4c00,#ff4d00,#ff4e00,#ff4f00,#ff5000,#ff5100,#ff5200,#ff5500,#ff5800,#ff5a00,#ff5d00,#ff6000,#ff6300,#ff6600,#ff6800,#ff6b00,#ff6e00,#ff7100,#ff7300,#ff7700,#ff7a00,#ff7d00,#ff8000,#ff8300,#ff8600,#ff8900,#ff8c00,#ff8f00,#ff9200,#ff9500,#ff9800,#ff9b00,#ff9e00,#ffa100,#ffa500,#ffa800,#ffab00,#ffae00,#ffb200,#ffb600,#ffb900,#ffbd00,#ffc100,#ffc600,#ffcb00,#ffcf00,#ffd400,#ffd900,#ffde00,#ffe200,#ffea00,#fff200,#fffa00,#fcff03,#f2ff0d,#e9ff16,#e0ff1f,#d5ff2a,#c8ff37,#bbff44,#aeff51,#a1ff5e,#94ff6b,#87ff78,#7aff85,#6dff92,#60ff9f,#50ffaf,#3fffc0,#2effd1,#1bffe4,#04fffb,#00e6ff,#00c1ff,#009cff,#007eff,#006eff,#006cff,#006fff,#0074ff,#0073ff,#006cff,#0063ff,#0059ff,#0050ff,#0048ff,#0040ff,#0038ff,#002fff,#0025ff,#001cff,#0012ff,#0008ff,#0000fe,#0000f7,#0000ef,#0000e7,#0000e0,#0000bc,#0000c0,#0000c3,#0000c8,#0000dc,#0000f2,#0025ff,#0057ff,#0089ff,#00baff,#00dcff,#00fdff,#1fffe0,#41ffbe,#62ff9d,#82ff7d,#8eff71,#9aff65,#a6ff59,#b2ff4d,#bdff42,#c0ff3f,#c3ff3c,#c5ff3a,#c8ff37,#cbff34,#cdff32,#d0ff2f,#cdff32,#c6ff39,#c0ff3f,#baff45,#b4ff4b,#abff54,#a1ff5e,#96ff69,#8cff73,#82ff7d,#75ff8a,#67ff98,#58ffa7,#4affb5,#3cffc3,#2bffd4,#19ffe6,#08fff7,#00f6ff,#00e8ff,#00daff,#00cbff,#00bdff,#00b0ff,#00a6ff,#009cff,#0091ff,#0088ff,#007fff,#0076ff,#0072ff)"></div>
<div class="c" style="left:1035.65px;width:5.96px;background:linear-gradient(#ff4b00,#ff4c00,#ff4d00,#ff4e00,#ff4f00,#ff5000,#ff5100,#ff5200,#ff5300,#ff5400,#ff5500,#ff5700,#ff5900,#ff5c00,#ff5e00,#ff6100,#ff6400,#ff6700,#ff6900,#ff6c00,#ff6f00,#ff7200,#ff7400,#ff7700,#ff7a00,#ff7d00,#ff8100,#ff8400,#ff8700,#ff8a00,#ff8d00,#ff9000,#ff9300,#ff9600,#ff9900,#ff9c00,#ff9f00,#ffa300,#ffa600,#ffa900,#ffad00,#ffb000,#ffb300,#ffb700,#ffbb00,#ffbe00,#ffc200,#ffc600,#ffcb00,#ffd000,#ffd500,#ffda00,#ffdf00,#ffe400,#ffe900,#fff000,#fff800,#feff01,#f5ff0a,#ecff13,#e3ff1c,#d9ff26,#ceff31,#c1ff3e,#b4ff4b,#a7ff58,#9bff64,#8eff71,#81ff7e,#74ff8b,#68ff97,#5bffa4,#4bffb4,#3affc5,#29ffd6,#15ffea,#00faff,#00d9ff,#00b3ff,#0092ff,#007dff,#0076ff,#0078ff,#007aff,#007cff,#0077ff,#006fff,#0065ff,#005aff,#0052ff,#004aff,#0042ff,#0039ff,#0031ff,#0027ff,#001eff,#0014ff,#000aff,#0002ff,#0000f9,#0000f2,#0000ea,#0000e2,#0000c5,#0000c9,#0000cc,#0000d1,#0000e5,#0000fb,#002eff,#005fff,#0090ff,#00c0ff,#00e1ff,#03fffc,#23ffdc,#44ffbb,#65ff9a,#84ff7b,#90ff6f,#9bff64,#a7ff58,#b3ff4c,#beff41,#c0ff3f,#c3ff3c,#c6ff39,#c8ff37,#cbff34,#cdff32,#d0ff2f,#cdff32,#c6ff39,#c0ff3f,#baff45,#b4ff4b,#abff54,#a1ff5e,#96ff69,#8cff73,#82ff7d,#75ff8a,#67ff98,#58ffa7,#4affb5,#3cffc3,#2bffd4,#19ffe6,#08fff7,#00f6ff,#00e8ff,#00daff,#00cbff,#00bdff,#00b0ff,#00a6ff,#009cff,#0091ff,#0088ff,#007fff,#0076ff,#0072ff)"></div>
<div class="c" style="left:1041.01px;width:5.96px;background:linear-gradient(#ff4d00,#ff4e00,#ff5000,#ff5100,#ff5200,#ff5300,#ff5400,#ff5500,#ff5600,#ff5700,#ff5900,#ff5b00,#ff5d00,#ff6000,#ff6300,#ff6500,#ff6800,#ff6b00,#ff6d00,#ff7000,#ff7300,#ff7600,#ff7800,#ff7b00,#ff7e00,#ff8100,#ff8400,#ff8800,#ff8b00,#ff8e00,#ff9100,#ff9400,#ff9700,#ff9a00,#ff9d00,#ffa000,#ffa300,#ffa700,#ffaa00,#ffae00,#ffb100,#ffb500,#ffb800,#ffbc00,#ffbf00,#ffc300,#ffc700,#ffcb00,#ffd000,#ffd600,#ffdb00,#ffe000,#ffe500,#ffea00,#ffef00,#fff700,#fffe00,#f8ff07,#efff10,#e6ff19,#dcff23,#d2ff2d,#c7ff38,#baff45,#aeff51,#a1ff5e,#94ff6b,#88ff77,#7bff84,#6fff90,#62ff9d,#56ffa9,#46ffb9,#35ffca,#23ffdc,#0cfff3,#00eeff,#00cbff,#00a7ff,#008dff,#0081ff,#0081ff,#0083ff,#0083ff,#0081ff,#007aff,#0070ff,#0066ff,#005cff,#0054ff,#004cff,#0044ff,#003bff,#0033ff,#0029ff,#001fff,#0016ff,#000dff,#0004ff,#0000fb,#0000f4,#0000ec,#0000e5,#0000d0,#0000d3,#0000d6,#0000dc,#0000ef,#0007ff,#0038ff,#0068ff,#0098ff,#00c6ff,#00e7ff,#08fff7,#28ffd7,#48ffb7,#68ff97,#86ff79,#91ff6e,#9dff62,#a9ff56,#b4ff4b,#bfff40,#c1ff3e,#c4ff3b,#c6ff39,#c9ff36,#cbff34,#ceff31,#d0ff2f,#cdff32,#c6ff39,#c0ff3f,#baff45,#b4ff4b,#abff54,#a1ff5e,#96ff69,#8cff73,#82ff7d,#75ff8a,#67ff98,#58ffa7,#4affb5,#3cffc3,#2bffd4,#19ffe6,#08fff7,#00f6ff,#00e8ff,#00daff,#00cbff,#00bdff,#00b0ff,#00a6ff,#009cff,#0091ff,#0088ff,#007fff,#0076ff,#0072ff)"></div>
<div class="c" style="left:1046.38px;width:5.96px;background:linear-gradient(#ff5000,#ff5100,#ff5200,#ff5400,#ff5500,#ff5600,#ff5700,#ff5900,#ff5a00,#ff5b00,#ff5d00,#ff5f00,#ff6100,#ff6400,#ff6700,#ff6900,#ff6c00,#ff6f00,#ff7100,#ff7400,#ff7700,#ff7900,#ff7c00,#ff7f00,#ff8200,#ff8500,#ff8800,#ff8c00,#ff8f00,#ff9200,#ff9500,#ff9800,#ff9b00,#ff9e00,#ffa100,#ffa400,#ffa800,#ffab00,#ffaf00,#ffb200,#ffb600,#ffb900,#ffbd00,#ffc000,#ffc400,#ffc800,#ffcc00,#ffd000,#ffd600,#ffdb00,#ffe000,#ffe600,#ffeb00,#fff000,#fff500,#fffd00,#f9ff06,#f2ff0d,#e9ff16,#dfff20,#d5ff2a,#ccff33,#c0ff3f,#b4ff4b,#a7ff58,#9bff64,#8eff71,#82ff7d,#75ff8a,#69ff96,#5dffa2,#50ffaf,#41ffbe,#30ffcf,#1cffe3,#02fffd,#00e1ff,#00bdff,#009eff,#008dff,#008aff,#008dff,#008dff,#0089ff,#0084ff,#007cff,#0072ff,#0068ff,#005eff,#0056ff,#004eff,#0045ff,#003dff,#0034ff,#002bff,#0021ff,#0018ff,#000fff,#0006ff,#0000fe,#0000f6,#0000ef,#0000e8,#0000dc,#0000df,#0000e3,#0000e8,#0000fb,#0013ff,#0043ff,#0072ff,#00a1ff,#00ceff,#00edff,#0efff1,#2dffd2,#4cffb3,#6cff93,#88ff77,#94ff6b,#9fff60,#aaff55,#b5ff4a,#bfff40,#c2ff3d,#c4ff3b,#c7ff38,#c9ff36,#cbff34,#ceff31,#d0ff2f,#cdff32,#c6ff39,#c0ff3f,#baff45,#b4ff4b,#abff54,#a1ff5e,#96ff69,#8cff73,#82ff7d,#75ff8a,#67ff98,#58ffa7,#4affb5,#3cffc3,#2bffd4,#19ffe6,#08fff7,#00f6ff,#00e8ff,#00daff,#00cbff,#00bdff,#00b0ff,#00a6ff,#009cff,#0091ff,#0088ff,#007fff,#0076ff,#0072ff)"></div>
<div class="c" style="left:1051.74px;width:5.96px;background:linear-gradient(#ff5300,#ff5400,#ff5500,#ff5700,#ff5800,#ff5a00,#ff5b00,#ff5c00,#ff5e00,#ff5f00,#ff6100,#ff6300,#ff6500,#ff6800,#ff6b00,#ff6d00,#ff7000,#ff7300,#ff7500,#ff7800,#ff7b00,#ff7d00,#ff8000,#ff8300,#ff8600,#ff8900,#ff8c00,#ff8f00,#ff9300,#ff9600,#ff9900,#ff9c00,#ff9f00,#ffa200,#ffa500,#ffa800,#ffac00,#ffb000,#ffb300,#ffb700,#ffba00,#ffbe00,#ffc200,#ffc500,#ffc900,#ffcd00,#ffd100,#ffd600,#ffdb00,#ffe100,#ffe600,#ffeb00,#fff100,#fff600,#fffc00,#fbff04,#f3ff0c,#ecff13,#e3ff1c,#d9ff26,#cfff30,#c5ff3a,#b9ff46,#adff52,#a1ff5e,#95ff6a,#88ff77,#7cff83,#70ff8f,#63ff9c,#57ffa8,#4bffb4,#3bffc4,#29ffd6,#13ffec,#00f4ff,#00d2ff,#00b1ff,#009bff,#0093ff,#0095ff,#0098ff,#0094ff,#008dff,#0086ff,#007dff,#0073ff,#006aff,#0060ff,#0058ff,#0050ff,#0047ff,#003fff,#0036ff,#002dff,#0023ff,#001aff,#0011ff,#0009ff,#0001ff,#0000f9,#0000f2,#0000ea,#0000ea,#0000ed,#0000f0,#0000f6,#0009ff,#0020ff,#004eff,#007cff,#00aaff,#00d5ff,#00f4ff,#14ffeb,#32ffcd,#51ffae,#70ff8f,#8bff74,#96ff69,#a1ff5e,#acff53,#b7ff48,#c0ff3f,#c2ff3d,#c5ff3a,#c7ff38,#c9ff36,#ccff33,#ceff31,#d0ff2f,#cdff32,#c6ff39,#c0ff3f,#baff45,#b4ff4b,#abff54,#a1ff5e,#96ff69,#8cff73,#82ff7d,#75ff8a,#67ff98,#58ffa7,#4affb5,#3cffc3,#2bffd4,#19ffe6,#08fff7,#00f6ff,#00e8ff,#00daff,#00cbff,#00bdff,#00b0ff,#00a6ff,#009cff,#0091ff,#0088ff,#007fff,#0076ff,#0072ff)"></div>
<div class="c" style="left:1057.10px;width:5.96px;background:linear-gradient(#ff5500,#ff5700,#ff5800,#ff5a00,#ff5b00,#ff5d00,#ff5e00,#ff6000,#ff6200,#ff6300,#ff6500,#ff6700,#ff6900,#ff6c00,#ff6f00,#ff7100,#ff7400,#ff7600,#ff7900,#ff7c00,#ff7e00,#ff8100,#ff8400,#ff8600,#ff8a00,#ff8d00,#ff9000,#ff9300,#ff9700,#ff9a00,#ff9d00,#ffa000,#ffa300,#ffa600,#ffa900,#ffad00,#ffb000,#ffb400,#ffb800,#ffbb00,#ffbf00,#ffc300,#ffc600,#ffca00,#ffce00,#ffd200,#ffd600,#ffdb00,#ffe000,#ffe600,#ffec00,#fff100,#fff700,#fffd00,#fcff03,#f4ff0b,#edff12,#e6ff19,#dcff23,#d2ff2d,#c8ff37,#beff41,#b3ff4c,#a7ff58,#9aff65,#8eff71,#82ff7d,#76ff89,#6aff95,#5effa1,#52ffad,#45ffba,#35ffca,#21ffde,#07fff8,#00e6ff,#00c4ff,#00aaff,#009dff,#009dff,#00a1ff,#00a0ff,#0099ff,#0090ff,#0088ff,#007fff,#0075ff,#006bff,#0062ff,#005aff,#0052ff,#0049ff,#0040ff,#0038ff,#002eff,#0025ff,#001cff,#0013ff,#000bff,#0004ff,#0000fb,#0000f4,#0000ed,#0000f7,#0000fa,#0000fd,#0004ff,#0016ff,#002eff,#005aff,#0087ff,#00b4ff,#00ddff,#00fbff,#1affe5,#38ffc7,#56ffa9,#73ff8c,#8dff72,#98ff67,#a3ff5c,#adff52,#b8ff47,#c1ff3e,#c3ff3c,#c5ff3a,#c8ff37,#caff35,#ccff33,#ceff31,#d0ff2f,#cdff32,#c6ff39,#c0ff3f,#baff45,#b4ff4b,#abff54,#a1ff5e,#96ff69,#8cff73,#82ff7d,#75ff8a,#67ff98,#58ffa7,#4affb5,#3cffc3,#2bffd4,#19ffe6,#08fff7,#00f6ff,#00e8ff,#00daff,#00cbff,#00bdff,#00b0ff,#00a6ff,#009cff,#0091ff,#0088ff,#007fff,#0076ff,#0072ff)"></div>
<div class="c" style="left:1062.46px;width:5.96px;background:linear-gradient(#ff5800,#ff5a00,#ff5b00,#ff5d00,#ff5f00,#ff6000,#ff6200,#ff6400,#ff6500,#ff6700,#ff6900,#ff6b00,#ff6d00,#ff7000,#ff7300,#ff7500,#ff7800,#ff7a00,#ff7d00,#ff8000,#ff8200,#ff8500,#ff8700,#ff8a00,#ff8d00,#ff9100,#ff9400,#ff9700,#ff9a00,#ff9e00,#ffa100,#ffa400,#ffa700,#ffaa00,#ffae00,#ffb100,#ffb500,#ffb800,#ffbc00,#ffc000,#ffc400,#ffc800,#ffcb00,#ffcf00,#ffd300,#ffd700,#ffdb00,#ffe000,#ffe600,#ffeb00,#fff100,#fff700,#fffd00,#fbff04,#f5ff0a,#eeff11,#e7ff18,#e0ff1f,#d6ff29,#ccff33,#c2ff3d,#b8ff47,#acff53,#a0ff5f,#94ff6b,#88ff77,#7cff83,#70ff8f,#64ff9b,#58ffa7,#4cffb3,#3fffc0,#2dffd2,#16ffe9,#00f8ff,#00d7ff,#00baff,#00a8ff,#00a4ff,#00a8ff,#00aaff,#00a6ff,#009cff,#0092ff,#0089ff,#0080ff,#0076ff,#006dff,#0064ff,#005cff,#0053ff,#004bff,#0042ff,#003aff,#0030ff,#0027ff,#001eff,#0015ff,#000dff,#0006ff,#0000fe,#0000f7,#0000ef,#0006ff,#0009ff,#000cff,#0012ff,#0024ff,#003bff,#0066ff,#0092ff,#00bdff,#00e5ff,#03fffc,#20ffdf,#3dffc2,#5affa5,#77ff88,#90ff6f,#9aff65,#a4ff5b,#afff50,#b9ff46,#c2ff3d,#c4ff3b,#c6ff39,#c8ff37,#caff35,#ccff33,#ceff31,#d1ff2e,#cdff32,#c6ff39,#c0ff3f,#baff45,#b4ff4b,#abff54,#a1ff5e,#96ff69,#8cff73,#82ff7d,#75ff8a,#67ff98,#58ffa7,#4affb5,#3cffc3,#2bffd4,#19ffe6,#08fff7,#00f6ff,#00e8ff,#00daff,#00cbff,#00bdff,#00b0ff,#00a6ff,#009cff,#0091ff,#0088ff,#007fff,#0076ff,#0072ff)"></div>
<div class="c" style="left:1067.83px;width:5.96px;background:linear-gradient(#ff5a00,#ff5c00,#ff5e00,#ff6000,#ff6200,#ff6400,#ff6500,#ff6700,#ff6900,#ff6b00,#ff6d00,#ff6f00,#ff7200,#ff7400,#ff7700,#ff7900,#ff7c00,#ff7e00,#ff8100,#ff8400,#ff8600,#ff8900,#ff8b00,#ff8e00,#ff9100,#ff9500,#ff9800,#ff9b00,#ff9e00,#ffa200,#ffa500,#ffa800,#ffab00,#ffaf00,#ffb200,#ffb500,#ffb900,#ffbd00,#ffc100,#ffc500,#ffc800,#ffcc00,#ffd000,#ffd400,#ffd800,#ffdc00,#ffe000,#ffe500,#ffeb00,#fff100,#fff700,#fffd00,#fbff04,#f5ff0a,#efff10,#e8ff17,#e1ff1e,#d9ff26,#d0ff2f,#c6ff39,#bbff44,#b1ff4e,#a5ff5a,#9aff65,#8eff71,#82ff7d,#76ff89,#6aff95,#5fffa0,#53ffac,#46ffb9,#38ffc7,#24ffdb,#09fff6,#00e8ff,#00c9ff,#00b4ff,#00acff,#00aeff,#00b2ff,#00b2ff,#00aaff,#009eff,#0093ff,#008aff,#0081ff,#0078ff,#006fff,#0066ff,#005eff,#0055ff,#004dff,#0044ff,#003bff,#0032ff,#0029ff,#0020ff,#0017ff,#0010ff,#0009ff,#0001ff,#0000f9,#0000f2,#0014ff,#0016ff,#0019ff,#0020ff,#0030ff,#0048ff,#0072ff,#009cff,#00c6ff,#00edff,#0afff5,#26ffd9,#42ffbd,#5effa1,#7aff85,#92ff6d,#9cff63,#a6ff59,#b0ff4f,#baff45,#c3ff3c,#c5ff3a,#c7ff38,#c9ff36,#cbff34,#cdff32,#cfff30,#d1ff2e,#cdff32,#c6ff39,#c0ff3f,#baff45,#b4ff4b,#abff54,#a1ff5e,#96ff69,#8cff73,#82ff7d,#75ff8a,#67ff98,#58ffa7,#4affb5,#3cffc3,#2bffd4,#19ffe6,#08fff7,#00f6ff,#00e8ff,#00daff,#00cbff,#00bdff,#00b0ff,#00a6ff,#009cff,#0091ff,#0088ff,#007fff,#0076ff,#0072ff)"></div>
<div class="c" style="left:1073.19px;width:5.96px;background:linear-gradient(#ff5d00,#ff5f00,#ff6100,#ff6300,#ff6500,#ff6700,#ff6900,#ff6b00,#ff6d00,#ff6f00,#ff7100,#ff7300,#ff7600,#ff7800,#ff7b00,#ff7d00,#ff8000,#ff8200,#ff8500,#ff8700,#ff8a00,#ff8c00,#ff8f00,#ff9200,#ff9500,#ff9800,#ff9c00,#ff9f00,#ffa200,#ffa600,#ffa900,#ffac00,#ffaf00,#ffb300,#ffb600,#ffb900,#ffbd00,#ffc100,#ffc500,#ffc900,#ffcd00,#ffd100,#ffd500,#ffd900,#ffdd00,#ffe100,#ffe500,#ffea00,#fff000,#fff600,#fffd00,#fbff04,#f5ff0a,#efff10,#e9ff16,#e2ff1d,#daff25,#d3ff2c,#caff35,#bfff40,#b5ff4a,#aaff55,#9fff60,#93ff6c,#87ff78,#7cff83,#70ff8f,#65ff9a,#59ffa6,#4dffb2,#40ffbf,#2fffd0,#18ffe7,#00f9ff,#00d9ff,#00c0ff,#00b4ff,#00b4ff,#00b9ff,#00bbff,#00b6ff,#00acff,#009fff,#0094ff,#008bff,#0082ff,#0079ff,#0070ff,#0068ff,#005fff,#0057ff,#004eff,#0046ff,#003dff,#0034ff,#002bff,#0022ff,#0019ff,#0012ff,#000bff,#0004ff,#0000fc,#0000f5,#0020ff,#0023ff,#0025ff,#002cff,#003cff,#0054ff,#007dff,#00a6ff,#00cfff,#00f4ff,#10ffef,#2cffd3,#47ffb8,#62ff9d,#7eff81,#94ff6b,#9eff61,#a8ff57,#b2ff4d,#bcff43,#c3ff3c,#c5ff3a,#c7ff38,#c9ff36,#cbff34,#cdff32,#cfff30,#d1ff2e,#cdff32,#c6ff39,#c0ff3f,#baff45,#b4ff4b,#abff54,#a1ff5e,#96ff69,#8cff73,#82ff7d,#75ff8a,#67ff98,#58ffa7,#4affb5,#3cffc3,#2bffd4,#19ffe6,#08fff7,#00f6ff,#00e8ff,#00daff,#00cbff,#00bdff,#00b0ff,#00a6ff,#009cff,#0091ff,#0088ff,#007fff,#0076ff,#0072ff)"></div>
<div class="c" style="left:1078.55px;width:5.96px;background:linear-gradient(#ff6000,#ff6200,#ff6400,#ff6600,#ff6800,#ff6a00,#ff6c00,#ff6e00,#ff7100,#ff7300,#ff7500,#ff7700,#ff7a00,#ff7c00,#ff7f00,#ff8100,#ff8400,#ff8600,#ff8900,#ff8b00,#ff8e00,#ff9000,#ff9300,#ff9600,#ff9900,#ff9c00,#ffa000,#ffa300,#ffa600,#ffaa00,#ffad00,#ffb000,#ffb300,#ffb700,#ffba00,#ffbe00,#ffc200,#ffc600,#ffca00,#ffce00,#ffd200,#ffd600,#ffda00,#ffde00,#ffe200,#ffe600,#ffea00,#ffef00,#fff500,#fffc00,#fcff03,#f5ff0a,#efff10,#e9ff16,#e2ff1d,#dbff24,#d4ff2b,#cdff32,#c3ff3c,#b9ff46,#aeff51,#a3ff5c,#98ff67,#8dff72,#81ff7e,#76ff89,#6aff95,#5fffa0,#53ffac,#46ffb9,#38ffc7,#24ffdb,#0afff5,#00e9ff,#00ccff,#00bbff,#00b9ff,#00beff,#00c2ff,#00c1ff,#00b9ff,#00adff,#009fff,#0095ff,#008cff,#0084ff,#007bff,#0072ff,#0069ff,#0061ff,#0059ff,#0050ff,#0048ff,#003fff,#0036ff,#002dff,#0024ff,#001cff,#0014ff,#000dff,#0006ff,#0000fe,#0000f7,#002bff,#002dff,#0030ff,#0037ff,#0047ff,#005eff,#0086ff,#00aeff,#00d6ff,#00faff,#16ffe9,#30ffcf,#4bffb4,#66ff99,#80ff7f,#96ff69,#a0ff5f,#a9ff56,#b3ff4c,#bdff42,#c4ff3b,#c6ff39,#c8ff37,#caff35,#cbff34,#cdff32,#cfff30,#d1ff2e,#cdff32,#c6ff39,#c0ff3f,#baff45,#b4ff4b,#abff54,#a1ff5e,#96ff69,#8cff73,#82ff7d,#75ff8a,#67ff98,#58ffa7,#4affb5,#3cffc3,#2bffd4,#19ffe6,#08fff7,#00f6ff,#00e8ff,#00daff,#00cbff,#00bdff,#00b0ff,#00a6ff,#009cff,#0091ff,#0088ff,#007fff,#0076ff,#0072ff)"></div>
<div class="c" style="left:1083.91px;width:5.96px;background:linear-gradient(#ff6200,#ff6500,#ff6700,#ff6900,#ff6b00,#ff6e00,#ff7000,#ff7200,#ff7400,#ff7700,#ff7900,#ff7b00,#ff7e00,#ff8000,#ff8300,#ff8500,#ff8800,#ff8a00,#ff8d00,#ff8f00,#ff9200,#ff9400,#ff9700,#ff9900,#ff9d00,#ffa000,#ffa300,#ffa700,#ffaa00,#ffad00,#ffb100,#ffb400,#ffb700,#ffbb00,#ffbe00,#ffc200,#ffc600,#ffca00,#ffce00,#ffd200,#ffd600,#ffda00,#ffdf00,#ffe300,#ffe700,#ffeb00,#ffef00,#fff400,#fffb00,#fdff02,#f6ff09,#f0ff0f,#e9ff16,#e3ff1c,#dcff23,#d5ff2a,#ceff31,#c7ff38,#bdff42,#b2ff4d,#a8ff57,#9dff62,#91ff6e,#86ff79,#7bff84,#70ff8f,#64ff9b,#59ffa6,#4dffb2,#3fffc0,#2effd1,#17ffe8,#00f8ff,#00daff,#00c4ff,#00bdff,#00c2ff,#00c8ff,#00caff,#00c5ff,#00bbff,#00aeff,#00a0ff,#0096ff,#008dff,#0085ff,#007cff,#0074ff,#006bff,#0063ff,#005bff,#0052ff,#004aff,#0041ff,#0038ff,#002fff,#0026ff,#001eff,#0017ff,#0010ff,#0009ff,#0002ff,#0000fa,#0034ff,#0036ff,#0039ff,#0040ff,#004fff,#0067ff,#008eff,#00b5ff,#00dcff,#00ffff,#1affe5,#34ffcb,#4fffb0,#69ff96,#83ff7c,#98ff67,#a1ff5e,#abff54,#b4ff4b,#bdff42,#c4ff3b,#c6ff39,#c8ff37,#caff35,#ccff33,#cdff32,#cfff30,#d1ff2e,#cdff32,#c6ff39,#c0ff3f,#baff45,#b4ff4b,#abff54,#a1ff5e,#96ff69,#8cff73,#82ff7d,#75ff8a,#67ff98,#58ffa7,#4affb5,#3cffc3,#2bffd4,#19ffe6,#08fff7,#00f6ff,#00e8ff,#00daff,#00cbff,#00bdff,#00b0ff,#00a6ff,#009cff,#0091ff,#0088ff,#007fff,#0076ff,#0072ff)"></div>
<div class="c" style="left:1089.28px;width:5.96px;background:linear-gradient(#ff6500,#ff6700,#ff6a00,#ff6c00,#ff6f00,#ff7100,#ff7300,#ff7600,#ff7800,#ff7a00,#ff7d00,#ff7f00,#ff8200,#ff8400,#ff8700,#ff8900,#ff8c00,#ff8e00,#ff9100,#ff9300,#ff9500,#ff9800,#ff9a00,#ff9d00,#ffa100,#ffa400,#ffa700,#ffab00,#ffae00,#ffb100,#ffb500,#ffb800,#ffbc00,#ffbf00,#ffc200,#ffc600,#ffca00,#ffce00,#ffd300,#ffd700,#ffdb00,#ffdf00,#ffe300,#ffe800,#ffec00,#fff000,#fff400,#fff900,#feff01,#f7ff08,#f1ff0e,#eaff15,#e3ff1c,#dcff23,#d6ff29,#cfff30,#c8ff37,#c1ff3e,#b7ff48,#acff53,#a1ff5e,#96ff69,#8bff74,#80ff7f,#75ff8a,#69ff96,#5effa1,#53ffac,#46ffb9,#36ffc9,#22ffdd,#07fff8,#00e8ff,#00ceff,#00c1ff,#00c3ff,#00ccff,#00d1ff,#00cfff,#00c7ff,#00bbff,#00aeff,#00a0ff,#0097ff,#008eff,#0086ff,#007eff,#0076ff,#006dff,#0065ff,#005dff,#0054ff,#004bff,#0043ff,#003aff,#0031ff,#0028ff,#0020ff,#0019ff,#0012ff,#000cff,#0005ff,#0000fd,#003aff,#003dff,#003fff,#0046ff,#0056ff,#006dff,#0093ff,#00baff,#00e1ff,#04fffb,#1effe1,#37ffc8,#51ffae,#6bff94,#85ff7a,#99ff66,#a2ff5d,#abff54,#b5ff4a,#beff41,#c5ff3a,#c7ff38,#c8ff37,#caff35,#ccff33,#ceff31,#cfff30,#d1ff2e,#cdff32,#c6ff39,#c0ff3f,#baff45,#b4ff4b,#abff54,#a1ff5e,#96ff69,#8cff73,#82ff7d,#75ff8a,#67ff98,#58ffa7,#4affb5,#3cffc3,#2bffd4,#19ffe6,#08fff7,#00f6ff,#00e8ff,#00daff,#00cbff,#00bdff,#00b0ff,#00a6ff,#009cff,#0091ff,#0088ff,#007fff,#0076ff,#0072ff)"></div>
<div class="c" style="left:1094.64px;width:5.36px;background:linear-gradient(#ff6700,#ff6900,#ff6c00,#ff6e00,#ff7000,#ff7300,#ff7500,#ff7800,#ff7a00,#ff7d00,#ff7f00,#ff8200,#ff8400,#ff8600,#ff8900,#ff8b00,#ff8e00,#ff9000,#ff9300,#ff9500,#ff9800,#ff9a00,#ff9d00,#ff9f00,#ffa300,#ffa600,#ffaa00,#ffad00,#ffb000,#ffb400,#ffb700,#ffbb00,#ffbe00,#ffc100,#ffc500,#ffc800,#ffcd00,#ffd100,#ffd500,#ffd900,#ffde00,#ffe200,#ffe600,#ffea00,#ffef00,#fff300,#fff700,#fffc00,#fbff04,#f4ff0b,#edff12,#e6ff19,#e0ff1f,#d9ff26,#d2ff2d,#cbff34,#c4ff3b,#beff41,#b3ff4c,#a8ff57,#9dff62,#92ff6d,#87ff78,#7cff83,#71ff8e,#66ff99,#5bffa4,#4fffb0,#41ffbe,#2effd1,#16ffe9,#00f7ff,#00dbff,#00c8ff,#00c5ff,#00cdff,#00d6ff,#00d7ff,#00d2ff,#00c7ff,#00bbff,#00aeff,#00a0ff,#0097ff,#008fff,#0087ff,#007fff,#0076ff,#006eff,#0066ff,#005eff,#0055ff,#004cff,#0044ff,#003bff,#0032ff,#0029ff,#0021ff,#001aff,#0014ff,#000dff,#0006ff,#0000fe,#003eff,#0040ff,#0043ff,#004aff,#0059ff,#0071ff,#0097ff,#00bdff,#00e3ff,#06fff9,#20ffdf,#39ffc6,#53ffac,#6cff93,#86ff79,#9aff65,#a3ff5c,#acff53,#b5ff4a,#beff41,#c5ff3a,#c7ff38,#c9ff36,#caff35,#ccff33,#ceff31,#cfff30,#d1ff2e,#cdff32,#c6ff39,#c0ff3f,#baff45,#b4ff4b,#abff54,#a1ff5e,#96ff69,#8cff73,#82ff7d,#75ff8a,#67ff98,#58ffa7,#4affb5,#3cffc3,#2bffd4,#19ffe6,#08fff7,#00f6ff,#00e8ff,#00daff,#00cbff,#00bdff,#00b0ff,#00a6ff,#009cff,#0091ff,#0088ff,#007fff,#0076ff,#0072ff)"></div>
</div>
<svg width="1200" height="460" viewBox="0 0 1200 460"><rect x="101.0" y="52.2" width="424.7" height="321.3" fill="none" stroke="#000" stroke-width="2.2"/><path d="M101.0 373.5v-6 M161.7 373.5v-6 M222.3 373.5v-6 M283.0 373.5v-6 M343.7 373.5v-6 M404.4 373.5v-6 M465.0 373.5v-6 M525.7 373.5v-6 M101.0 373.5h6 M101.0 293.2h6 M101.0 212.8h6 M101.0 132.5h6 M101.0 52.2h6" stroke="#000" stroke-width="2" fill="none"/><path d="M101.7 255.7C102.9 254.7 106.1 251.6 108.7 249.6C111.3 247.6 114.5 245.0 117.4 243.5C120.3 242.0 123.4 241.1 126.0 240.5C128.6 239.9 130.4 239.7 133.0 239.7C135.6 239.7 138.5 239.4 141.7 240.5C144.9 241.6 149.0 243.6 152.2 246.0C155.4 248.4 158.0 251.6 160.9 254.8C163.8 258.0 166.7 261.4 169.6 265.2C172.5 269.0 175.4 273.6 178.3 277.4C181.2 281.2 184.2 284.5 187.0 287.8C189.8 291.1 192.2 293.7 195.0 297.0C197.8 300.3 200.8 304.5 203.7 307.4C206.6 310.3 209.5 312.6 212.4 314.3C215.3 316.0 218.5 316.8 221.1 317.3C223.7 317.8 225.7 317.7 228.0 317.3C230.3 316.9 232.4 316.3 235.0 315.2C237.6 314.1 240.8 313.4 243.7 310.9C246.6 308.4 249.8 303.7 252.4 300.4C255.0 297.1 257.3 294.1 259.3 290.9C261.3 287.6 262.3 284.6 264.6 280.9C266.9 277.2 270.4 273.3 273.3 268.7C276.2 264.1 279.2 259.0 282.0 253.0C284.8 247.0 287.5 239.3 290.3 232.5C293.1 225.7 295.9 218.2 298.7 212.2C301.5 206.2 304.5 201.0 307.4 196.5C310.3 192.0 313.2 188.2 316.1 185.2C319.0 182.2 321.9 180.0 324.8 178.3C327.7 176.6 330.3 175.8 333.5 174.8C336.7 173.8 341.0 172.7 343.9 172.5C346.8 172.3 348.3 172.8 350.9 173.9C353.5 175.0 356.7 177.1 359.6 179.1C362.5 181.1 365.4 183.3 368.3 186.1C371.2 188.9 374.1 192.8 377.0 195.7C379.9 198.6 382.9 201.0 385.7 203.5C388.5 206.0 390.9 208.4 393.7 210.9C396.5 213.4 399.5 216.4 402.4 218.7C405.3 221.0 408.2 223.4 411.1 224.8C414.0 226.2 416.9 227.0 419.8 227.4C422.7 227.8 425.6 227.4 428.5 227.0C431.4 226.6 434.3 225.9 437.2 224.8C440.1 223.7 443.0 222.3 445.9 220.4C448.8 218.5 451.7 216.1 454.6 213.5C457.5 210.9 460.4 208.0 463.3 204.8C466.2 201.6 469.1 198.1 472.0 194.3C474.9 190.5 478.6 185.4 480.7 182.2C482.8 179.0 481.9 178.5 484.3 175.0C486.7 171.5 491.6 164.9 494.8 161.1C498.0 157.3 500.6 155.6 503.5 152.4C506.4 149.2 509.6 144.8 512.2 142.0C514.8 139.2 517.0 137.5 519.1 135.9C521.2 134.3 523.8 132.8 524.8 132.2" stroke="#14148c" stroke-width="2.2" fill="none" stroke-linejoin="round"/><path d="M100.9 275.7C102.2 274.8 106.0 272.0 108.7 270.4C111.5 268.8 114.5 267.2 117.4 266.0C120.3 264.8 123.1 263.8 126.0 263.0C128.9 262.2 131.9 261.9 134.8 261.4C137.7 260.9 140.6 260.5 143.5 260.0C146.4 259.5 149.3 259.0 152.2 258.6C155.1 258.2 158.0 257.9 160.9 257.4C163.8 256.9 166.1 256.6 169.6 255.7C173.1 254.8 178.2 253.8 181.7 252.2C185.2 250.6 188.2 247.3 190.4 246.0C192.6 244.7 192.8 245.3 195.0 244.3C197.2 243.3 200.8 241.2 203.7 240.0C206.6 238.8 209.5 237.7 212.4 236.9C215.3 236.1 218.2 235.5 221.1 235.3C224.0 235.1 227.8 235.3 229.8 235.7C231.8 236.0 231.6 236.0 233.3 237.4C235.0 238.8 237.9 242.1 240.2 244.3C242.5 246.5 244.6 247.6 247.2 250.4C249.8 253.2 253.0 257.6 255.9 260.9C258.8 264.2 261.7 267.1 264.6 270.4C267.5 273.7 270.4 277.7 273.3 280.9C276.2 284.1 279.1 286.9 282.0 289.6C284.9 292.4 288.2 295.9 290.7 297.4C293.2 298.9 294.5 298.3 297.0 298.7C299.5 299.1 302.8 300.2 305.7 299.9C308.6 299.6 311.7 297.9 314.3 297.0C316.9 296.1 318.7 296.1 321.3 294.3C323.9 292.6 327.1 289.4 330.0 286.5C332.9 283.6 336.1 279.9 338.7 277.0C341.3 274.1 343.4 272.3 345.7 269.1C348.0 265.9 350.3 261.7 352.6 257.8C354.9 253.9 357.0 249.8 359.6 245.7C362.2 241.6 366.3 236.5 368.3 233.5C370.3 230.5 369.7 231.1 371.7 227.8C373.7 224.5 377.3 218.5 380.4 213.9C383.4 209.3 387.8 203.0 390.0 200.0C392.2 197.0 391.6 198.5 393.7 196.1C395.8 193.7 400.4 188.4 402.4 185.7C404.4 183.0 403.9 182.7 405.9 180.0C407.9 177.3 411.4 173.1 414.6 169.6C417.8 166.1 422.1 161.7 425.0 159.1C427.9 156.5 430.0 155.9 432.0 153.9C434.0 151.9 434.9 148.9 437.2 147.0C439.5 145.1 443.0 144.5 445.9 142.6C448.8 140.7 452.2 137.4 454.6 135.7C457.0 134.0 457.6 133.7 460.0 132.4C462.4 131.1 465.8 129.7 468.7 128.0C471.6 126.3 474.8 123.5 477.4 122.0C480.0 120.5 482.0 120.6 484.3 119.3C486.6 118.0 489.0 114.7 491.3 114.1C493.6 113.5 495.8 116.6 498.3 115.9C500.8 115.2 503.8 110.4 506.1 109.8C508.4 109.2 510.6 111.7 512.2 112.4C513.8 113.1 514.4 113.8 515.7 114.1C517.0 114.4 518.5 113.5 520.0 114.1C521.5 114.7 524.0 117.0 524.8 117.6" stroke="#0e7d14" stroke-width="2.2" fill="none" stroke-linejoin="round"/><path d="M100.9 282.6C102.2 281.5 106.0 277.4 108.7 275.7C111.5 274.0 114.5 273.1 117.4 272.2C120.3 271.2 123.4 270.4 126.0 270.0C128.6 269.6 130.1 269.3 133.0 269.6C135.9 269.9 140.3 270.9 143.5 271.8C146.7 272.7 149.3 273.7 152.2 274.8C155.1 275.9 158.0 277.2 160.9 278.3C163.8 279.4 166.7 280.2 169.6 281.2C172.5 282.2 175.7 283.6 178.3 284.3C180.9 285.1 182.9 285.8 185.2 285.7C187.5 285.6 190.6 284.0 192.2 283.5C193.8 283.0 193.1 283.3 195.0 282.6C196.9 281.9 200.8 280.7 203.7 279.1C206.6 277.5 209.5 275.0 212.4 273.0C215.3 271.0 218.2 269.0 221.1 267.0C224.0 265.0 226.9 262.3 229.8 260.9C232.7 259.4 235.6 258.6 238.5 258.3C241.4 258.0 244.3 258.4 247.2 259.1C250.1 259.8 253.0 261.0 255.9 262.6C258.8 264.2 261.7 266.2 264.6 268.7C267.5 271.2 270.4 273.9 273.3 277.4C276.2 280.9 279.2 285.8 282.0 289.6C284.8 293.4 287.2 296.8 290.0 300.4C292.8 303.9 295.8 307.7 298.7 310.9C301.6 314.1 304.5 317.0 307.4 319.6C310.3 322.2 313.2 324.7 316.1 326.5C319.0 328.3 321.9 329.7 324.8 330.3C327.7 330.9 330.6 331.2 333.5 330.3C336.4 329.4 339.3 327.2 342.2 324.8C345.1 322.4 348.0 319.2 350.9 316.1C353.8 313.1 357.0 309.7 359.6 306.5C362.2 303.3 364.5 299.8 366.5 297.0C368.5 294.2 369.9 292.8 371.7 290.0C373.4 287.2 374.7 284.6 377.0 280.4C379.3 276.2 382.9 269.9 385.7 264.8C388.5 259.7 390.9 254.8 393.7 250.0C396.5 245.2 399.5 241.0 402.4 236.1C405.3 231.2 408.2 225.3 411.1 220.4C414.0 215.5 416.9 211.1 419.8 206.5C422.7 201.9 425.6 196.9 428.5 192.6C431.4 188.2 434.3 184.2 437.2 180.4C440.1 176.6 443.0 173.2 445.9 169.6C448.8 166.0 451.7 162.6 454.6 159.1C457.5 155.6 460.4 151.6 463.3 148.7C466.2 145.8 469.6 143.8 472.0 141.7C474.4 139.6 475.0 138.0 477.4 135.9C479.8 133.8 483.2 131.1 486.1 128.9C489.0 126.7 492.2 124.1 494.8 122.8C497.4 121.5 499.7 122.2 501.7 121.1C503.7 119.9 505.0 116.5 507.0 115.9C509.0 115.3 511.9 117.6 513.9 117.6C515.9 117.6 517.3 115.9 519.1 115.9C520.9 115.9 523.8 117.3 524.8 117.6" stroke="#ec8c32" stroke-width="2.2" fill="none" stroke-linejoin="round"/><path d="M100.9 335.6C102.2 335.0 106.0 333.1 108.7 331.7C111.5 330.3 114.5 328.5 117.4 327.4C120.3 326.2 123.1 325.5 126.0 324.8C128.9 324.1 131.9 323.4 134.8 323.0C137.7 322.6 140.6 322.4 143.5 322.5C146.4 322.6 149.3 323.2 152.2 323.9C155.1 324.6 158.0 325.5 160.9 326.5C163.8 327.5 166.7 328.6 169.6 330.0C172.5 331.4 175.4 333.6 178.3 335.2C181.2 336.8 184.2 338.3 187.0 339.6C189.8 340.9 192.2 341.6 195.0 343.0C197.8 344.4 200.8 347.0 203.7 348.3C206.6 349.6 209.5 350.3 212.4 350.9C215.3 351.5 218.2 351.8 221.1 351.7C224.0 351.6 226.9 350.6 229.8 350.0C232.7 349.4 235.6 349.3 238.5 348.3C241.4 347.3 244.3 345.5 247.2 343.9C250.1 342.3 253.0 340.9 255.9 338.7C258.8 336.5 261.7 334.2 264.6 330.9C267.5 327.6 270.4 322.6 273.3 318.7C276.2 314.8 279.2 310.7 282.0 307.4C284.8 304.1 287.2 302.6 290.0 298.7C292.8 294.8 295.8 288.1 298.7 283.9C301.6 279.7 304.5 276.4 307.4 273.5C310.3 270.6 313.2 268.5 316.1 266.5C319.0 264.5 321.9 263.0 324.8 261.3C327.7 259.6 330.6 257.7 333.5 256.1C336.4 254.5 339.3 252.7 342.2 251.7C345.1 250.7 348.0 250.2 350.9 250.0C353.8 249.8 356.7 250.1 359.6 250.5C362.5 250.9 365.4 251.5 368.3 252.6C371.2 253.7 374.1 255.3 377.0 257.0C379.9 258.7 382.9 261.2 385.7 263.0C388.5 264.8 390.9 265.8 393.7 267.8C396.5 269.8 399.5 272.5 402.4 274.8C405.3 277.1 408.2 279.5 411.1 281.7C414.0 283.9 416.9 285.9 419.8 287.8C422.7 289.7 425.6 291.4 428.5 293.0C431.4 294.6 434.3 296.1 437.2 297.4C440.1 298.7 443.0 300.0 445.9 300.9C448.8 301.8 451.7 302.2 454.6 302.6C457.5 303.0 460.4 303.1 463.3 303.0C466.2 302.9 469.1 302.3 472.0 301.7C474.9 301.1 477.8 299.8 480.7 299.1C483.6 298.5 487.0 298.6 489.6 297.8C492.2 297.1 493.9 295.8 496.1 294.6C498.3 293.4 500.4 291.8 502.6 290.6C504.8 289.4 506.9 288.4 509.1 287.4C511.3 286.4 513.0 285.7 515.6 284.8C518.2 283.9 523.3 282.5 524.8 282.0" stroke="#7c22d8" stroke-width="2.2" fill="none" stroke-linejoin="round"/><path d="M130 84.7H181" stroke="#0e7d14" stroke-width="2.2"/><path d="M130 111.8H181" stroke="#ec8c32" stroke-width="2.2"/><path d="M130 139.1H181" stroke="#14148c" stroke-width="2.2"/><path d="M130 173.9H181" stroke="#7c22d8" stroke-width="2.2"/><ellipse cx="200.3" cy="275.8" rx="54.2" ry="90.3" transform="rotate(-29 200.3 275.8)" fill="none" stroke="#000" stroke-width="4" stroke-dasharray="14.6 11.015" stroke-dashoffset="2.1"/><ellipse cx="384.1" cy="227.0" rx="118.1" ry="129.8" transform="rotate(15.5 384.1 227)" fill="none" stroke="#000" stroke-width="4" stroke-dasharray="14.5 10.637" stroke-dashoffset="8.4"/><rect x="671.0" y="54.3" width="428.8" height="320.7" fill="none" stroke="#000" stroke-width="2.2"/><path d="M671.0 375.0v-4 M778.2 375.0v-4 M885.4 375.0v-4 M992.6 375.0v-4 M1099.8 375.0v-4 M671.0 375.0h5 M671.0 310.9h5 M671.0 246.7h5 M671.0 182.6h5 M671.0 118.4h5 M671.0 54.3h5" stroke="#000" stroke-width="2" fill="none"/><path d="M672 248H1099" stroke="#000" stroke-width="7" stroke-dasharray="19.5 7" stroke-dashoffset="14.1"/><path d="M696 372.5L1027 55.4" stroke="#000" stroke-width="6" stroke-dasharray="19 7.5" stroke-dashoffset="13.3"/><circle cx="866.4" cy="185.8" r="7.7" fill="#d01818"/><circle cx="866.6" cy="265.2" r="7.6" fill="#d01818"/><defs><linearGradient id="cb" x1="0" y1="0" x2="0" y2="1"><stop offset="0.0000" stop-color="#800000"/><stop offset="0.0156" stop-color="#8f0000"/><stop offset="0.0312" stop-color="#9f0000"/><stop offset="0.0469" stop-color="#af0000"/><stop offset="0.0625" stop-color="#bf0000"/><stop offset="0.0781" stop-color="#cf0000"/><stop offset="0.0938" stop-color="#df0000"/><stop offset="0.1094" stop-color="#ef0000"/><stop offset="0.1250" stop-color="#ff0000"/><stop offset="0.1406" stop-color="#ff1000"/><stop offset="0.1562" stop-color="#ff2000"/><stop offset="0.1719" stop-color="#ff3000"/><stop offset="0.1875" stop-color="#ff4000"/><stop offset="0.2031" stop-color="#ff5000"/><stop offset="0.2188" stop-color="#ff6000"/><stop offset="0.2344" stop-color="#ff7000"/><stop offset="0.2500" stop-color="#ff8000"/><stop offset="0.2656" stop-color="#ff8f00"/><stop offset="0.2812" stop-color="#ff9f00"/><stop offset="0.2969" stop-color="#ffaf00"/><stop offset="0.3125" stop-color="#ffbf00"/><stop offset="0.3281" stop-color="#ffcf00"/><stop offset="0.3438" stop-color="#ffdf00"/><stop offset="0.3594" stop-color="#ffef00"/><stop offset="0.3750" stop-color="#ffff00"/><stop offset="0.3906" stop-color="#efff10"/><stop offset="0.4062" stop-color="#dfff20"/><stop offset="0.4219" stop-color="#cfff30"/><stop offset="0.4375" stop-color="#bfff40"/><stop offset="0.4531" stop-color="#afff50"/><stop offset="0.4688" stop-color="#9fff60"/><stop offset="0.4844" stop-color="#8fff70"/><stop offset="0.5000" stop-color="#80ff80"/><stop offset="0.5156" stop-color="#70ff8f"/><stop offset="0.5312" stop-color="#60ff9f"/><stop offset="0.5469" stop-color="#50ffaf"/><stop offset="0.5625" stop-color="#40ffbf"/><stop offset="0.5781" stop-color="#30ffcf"/><stop offset="0.5938" stop-color="#20ffdf"/><stop offset="0.6094" stop-color="#10ffef"/><stop offset="0.6250" stop-color="#00ffff"/><stop offset="0.6406" stop-color="#00efff"/><stop offset="0.6562" stop-color="#00dfff"/><stop offset="0.6719" stop-color="#00cfff"/><stop offset="0.6875" stop-color="#00bfff"/><stop offset="0.7031" stop-color="#00afff"/><stop offset="0.7188" stop-color="#009fff"/><stop offset="0.7344" stop-color="#008fff"/><stop offset="0.7500" stop-color="#0080ff"/><stop offset="0.7656" stop-color="#0070ff"/><stop offset="0.7812" stop-color="#0060ff"/><stop offset="0.7969" stop-color="#0050ff"/><stop offset="0.8125" stop-color="#0040ff"/><stop offset="0.8281" stop-color="#0030ff"/><stop offset="0.8438" stop-color="#0020ff"/><stop offset="0.8594" stop-color="#0010ff"/><stop offset="0.8750" stop-color="#0000ff"/><stop offset="0.8906" stop-color="#0000ef"/><stop offset="0.9062" stop-color="#0000df"/><stop offset="0.9219" stop-color="#0000cf"/><stop offset="0.9375" stop-color="#0000bf"/><stop offset="0.9531" stop-color="#0000af"/><stop offset="0.9688" stop-color="#00009f"/><stop offset="0.9844" stop-color="#00008f"/><stop offset="1.0000" stop-color="#000080"/></linearGradient></defs><rect x="1128" y="54.3" width="18.5" height="320.7" fill="url(#cb)" stroke="#000" stroke-width="2"/><text transform="translate(-0.55 41.80) scale(1.0750 1)" font-size="36" font-weight="bold">(a)</text><text transform="translate(558.07 42.20) scale(1.0667 1)" font-size="36" font-weight="bold">(b)</text><text transform="translate(55.97 61.55) scale(1.0312 1)" font-size="25">0.7</text><text transform="translate(53.28 141.17) scale(1.0152 1)" font-size="25">0.6</text><text transform="translate(53.28 220.79) scale(1.0152 1)" font-size="25">0.5</text><text transform="translate(53.28 300.41) scale(1.0152 1)" font-size="25">0.4</text><text transform="translate(53.28 380.03) scale(1.0152 1)" font-size="25">0.3</text><text transform="translate(80.12 406.00) scale(1.0300 1)" font-size="25">550</text><text transform="translate(141.18 406.00) scale(1.0300 1)" font-size="25">600</text><text transform="translate(202.24 406.00) scale(1.0300 1)" font-size="25">650</text><text transform="translate(263.30 406.00) scale(1.0300 1)" font-size="25">700</text><text transform="translate(324.36 406.00) scale(1.0300 1)" font-size="25">750</text><text transform="translate(385.42 406.00) scale(1.0300 1)" font-size="25">800</text><text transform="translate(446.48 406.00) scale(1.0300 1)" font-size="25">850</text><text transform="translate(507.54 406.00) scale(1.0300 1)" font-size="25">900</text><text transform="translate(231.70 447.70) scale(1.0099 1)" font-size="25.5">Wavelength (nm)</text><text transform="translate(36.80 275.53) rotate(-90) scale(1.0154 1)" font-size="28.5">Reflection</text><text transform="translate(186.06 91.10) scale(1.0426 1)" font-size="21">Quartz</text><text transform="translate(184.87 118.20) scale(1.0652 1)" font-size="21">K9</text><text transform="translate(185.90 146.50) scale(1.0020 1)" font-size="21">Al<tspan font-size="14" dy="9">2</tspan><tspan dy="-9">O</tspan><tspan font-size="14" dy="9">3</tspan></text><text transform="translate(185.47 180.00) scale(1.0277 1)" font-size="21">SF11</text><text transform="translate(140.04 231.20) scale(1.0521 1)" font-size="31">Dip A</text><text transform="translate(324.74 154.10) scale(1.0535 1)" font-size="31">Dip B</text><text transform="translate(609.72 386.00) scale(1.0750 1)" font-size="25">500</text><text transform="translate(609.72 321.75) scale(1.0750 1)" font-size="25">600</text><text transform="translate(609.72 257.50) scale(1.0750 1)" font-size="25">700</text><text transform="translate(609.72 193.25) scale(1.0750 1)" font-size="25">800</text><text transform="translate(609.72 129.00) scale(1.0750 1)" font-size="25">900</text><text transform="translate(603.59 64.75) scale(1.0566 1)" font-size="25">1000</text><text transform="translate(656.13 409.00) scale(0.8364 1)" font-size="25">1</text><text transform="translate(759.57 409.70) scale(1.0656 1)" font-size="25">1.4</text><text transform="translate(867.92 409.70) scale(1.0406 1)" font-size="25">1.8</text><text transform="translate(973.27 410.00) scale(1.1250 1)" font-size="25">2.2</text><text transform="translate(1080.93 410.00) scale(1.0697 1)" font-size="25">2.6</text><text transform="translate(723.53 451.70) scale(1.0364 1)" font-size="25">Refractive</text><text transform="translate(846.86 450.00) scale(1.0462 1)" font-size="28">Index</text><text transform="translate(926.48 450.70) scale(1.0200 1)" font-size="25.5">of Substrate</text><text transform="translate(596.10 320.20) rotate(-90) scale(0.9947 1)" font-size="29">Wavelength</text><text transform="translate(595.20 162.54) rotate(-90) scale(1.0708 1)" font-size="25">(nm)</text><text transform="translate(792.87 161.70) scale(1.0657 1)" font-size="29">Dip B</text><text transform="translate(869.02 306.20) scale(1.0896 1)" font-size="29">Dip A</text><text transform="translate(1068.23 33.80) scale(1.0339 1)" font-size="28">Reflection</text><text transform="translate(1159.47 69.00) scale(1.0156 1)" font-size="25">1.0</text><text transform="translate(1160.52 132.88) scale(0.9848 1)" font-size="25">0.8</text><text transform="translate(1160.52 196.76) scale(0.9848 1)" font-size="25">0.6</text><text transform="translate(1160.52 260.64) scale(0.9848 1)" font-size="25">0.4</text><text transform="translate(1160.48 324.52) scale(1.0156 1)" font-size="25">0.2</text><text transform="translate(1160.52 388.40) scale(0.9848 1)" font-size="25">0.0</text></svg>
</body></html>
